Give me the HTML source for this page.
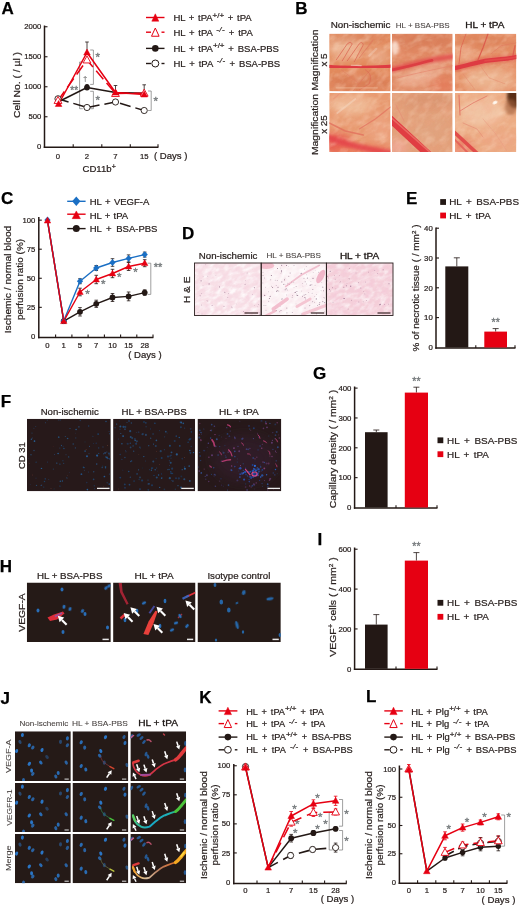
<!DOCTYPE html>
<html lang="en"><head><meta charset="utf-8"><title>Figure</title>
<style>
html,body{margin:0;padding:0;background:#fff}
svg{display:block}
text{font-family:"Liberation Sans",Arial,Helvetica,sans-serif}
</style></head><body>
<svg width="520" height="907" viewBox="0 0 520 907">
<defs>
<filter id="b1" x="-20%" y="-20%" width="140%" height="140%"><feGaussianBlur stdDeviation="0.6"/></filter>
<filter id="b2" x="-30%" y="-30%" width="160%" height="160%"><feGaussianBlur stdDeviation="1.4"/></filter>
<filter id="b4" x="-50%" y="-50%" width="200%" height="200%"><feGaussianBlur stdDeviation="4"/></filter>
<filter id="b8" x="-50%" y="-50%" width="200%" height="200%"><feGaussianBlur stdDeviation="7"/></filter>
<filter id="bs" x="-20%" y="-20%" width="140%" height="140%"><feGaussianBlur stdDeviation="0.35"/></filter>
<filter id="nz" x="0" y="0" width="100%" height="100%"><feTurbulence type="fractalNoise" baseFrequency="0.09 0.16" numOctaves="3" seed="4" result="n"/><feColorMatrix in="n" type="matrix" values="0 0 0 0 1  0 0 0 0 0.80  0 0 0 0 0.64  1.6 0 0 0 -0.66"/><feComposite in2="SourceGraphic" operator="in"/></filter>
<filter id="nd" x="0" y="0" width="100%" height="100%"><feTurbulence type="fractalNoise" baseFrequency="0.07 0.13" numOctaves="3" seed="11" result="n"/><feColorMatrix in="n" type="matrix" values="0 0 0 0 0.90  0 0 0 0 0.36  0 0 0 0 0.22  0 1.7 0 0 -0.70"/><feComposite in2="SourceGraphic" operator="in"/></filter>
<filter id="nh" x="0" y="0" width="100%" height="100%"><feTurbulence type="fractalNoise" baseFrequency="0.14 0.26" numOctaves="3" seed="8" result="n"/><feColorMatrix in="n" type="matrix" values="0 0 0 0 1  0 0 0 0 1  0 0 0 0 1  2.8 0 0 0 -1.1"/><feComposite in2="SourceGraphic" operator="in"/></filter>
<filter id="nk" x="0" y="0" width="100%" height="100%"><feTurbulence type="fractalNoise" baseFrequency="0.13 0.24" numOctaves="3" seed="19" result="n"/><feColorMatrix in="n" type="matrix" values="0 0 0 0 0.90  0 0 0 0 0.55  0 0 0 0 0.68  0 2.8 0 0 -1.15"/><feComposite in2="SourceGraphic" operator="in"/></filter>
<clipPath id="c1"><rect x="329.30" y="33.80" width="61.20" height="57.50"/></clipPath>
<clipPath id="c2"><rect x="392.00" y="33.80" width="60.60" height="57.50"/></clipPath>
<clipPath id="c3"><rect x="455.00" y="33.80" width="61.30" height="57.50"/></clipPath>
<clipPath id="c4"><rect x="329.30" y="93.00" width="61.20" height="59.00"/></clipPath>
<clipPath id="c5"><rect x="392.00" y="93.00" width="60.60" height="59.00"/></clipPath>
<clipPath id="c6"><rect x="455.00" y="93.00" width="61.30" height="59.00"/></clipPath>
<clipPath id="c7"><rect x="194.50" y="263.00" width="66.70" height="52.50"/></clipPath>
<clipPath id="c8"><rect x="261.20" y="263.00" width="65.20" height="52.50"/></clipPath>
<clipPath id="c9"><rect x="326.40" y="263.00" width="66.60" height="52.50"/></clipPath>
<clipPath id="c10"><rect x="27.00" y="418.80" width="83.80" height="72.50"/></clipPath>
<clipPath id="c11"><rect x="113.10" y="418.80" width="82.00" height="72.50"/></clipPath>
<clipPath id="c12"><rect x="197.50" y="418.80" width="83.80" height="72.50"/></clipPath>
<clipPath id="c13"><rect x="26.80" y="582.50" width="84.00" height="59.50"/></clipPath>
<clipPath id="c14"><rect x="113.10" y="582.50" width="82.40" height="59.50"/></clipPath>
<clipPath id="c15"><rect x="197.50" y="582.50" width="83.30" height="59.50"/></clipPath>
<clipPath id="c16"><rect x="15.00" y="731.30" width="55.80" height="49.80"/></clipPath>
<clipPath id="c17"><rect x="72.50" y="731.30" width="55.80" height="49.80"/></clipPath>
<clipPath id="c18"><rect x="130.40" y="731.30" width="55.70" height="49.80"/></clipPath>
<clipPath id="c19"><rect x="15.00" y="783.00" width="55.80" height="49.00"/></clipPath>
<clipPath id="c20"><rect x="72.50" y="783.00" width="55.80" height="49.00"/></clipPath>
<clipPath id="c21"><rect x="130.40" y="783.00" width="55.70" height="49.00"/></clipPath>
<linearGradient id="gv1" gradientUnits="userSpaceOnUse" x1="133" y1="0" x2="187" y2="0"><stop offset="0" stop-color="#3fc47f"/><stop offset="0.3" stop-color="#18a8c8"/><stop offset="0.65" stop-color="#1fb0b8"/><stop offset="0.85" stop-color="#2fbf6f"/><stop offset="1" stop-color="#52c83a"/></linearGradient>
<clipPath id="c22"><rect x="15.00" y="833.90" width="55.80" height="49.30"/></clipPath>
<clipPath id="c23"><rect x="72.50" y="833.90" width="55.80" height="49.30"/></clipPath>
<clipPath id="c24"><rect x="130.40" y="833.90" width="55.70" height="49.30"/></clipPath>
<linearGradient id="gv2" gradientUnits="userSpaceOnUse" x1="133" y1="0" x2="187" y2="0"><stop offset="0" stop-color="#f0a030"/><stop offset="0.25" stop-color="#d8c0a0"/><stop offset="0.5" stop-color="#b87858"/><stop offset="0.8" stop-color="#e07028"/><stop offset="1" stop-color="#f8c820"/></linearGradient>
</defs>
<rect width="520" height="907" fill="#fff"/>
<text x="1.40" y="13.50" font-size="17" font-weight="bold" fill="#000" stroke="#000" stroke-width="0.25">A</text>
<line x1="44.50" y1="25.50" x2="44.50" y2="147.95" stroke="#231815" stroke-width="1.5"/>
<line x1="43.75" y1="147.20" x2="158.40" y2="147.20" stroke="#231815" stroke-width="1.5"/>
<line x1="44.50" y1="116.75" x2="47.50" y2="116.75" stroke="#231815" stroke-width="1.1"/>
<line x1="44.50" y1="86.75" x2="47.50" y2="86.75" stroke="#231815" stroke-width="1.1"/>
<line x1="44.50" y1="56.75" x2="47.50" y2="56.75" stroke="#231815" stroke-width="1.1"/>
<line x1="44.50" y1="26.75" x2="47.50" y2="26.75" stroke="#231815" stroke-width="1.1"/>
<line x1="73.20" y1="147.20" x2="73.20" y2="144.20" stroke="#231815" stroke-width="1.1"/>
<line x1="101.80" y1="147.20" x2="101.80" y2="144.20" stroke="#231815" stroke-width="1.1"/>
<line x1="130.30" y1="147.20" x2="130.30" y2="144.20" stroke="#231815" stroke-width="1.1"/>
<line x1="158.00" y1="147.20" x2="158.00" y2="144.20" stroke="#231815" stroke-width="1.1"/>
<text x="41.30" y="149.35" font-size="7.7" text-anchor="end" fill="#2a2220" stroke="#2a2220" stroke-width="0.22">0</text>
<text x="41.30" y="119.35" font-size="7.7" text-anchor="end" fill="#2a2220" stroke="#2a2220" stroke-width="0.22">500</text>
<text x="41.30" y="89.35" font-size="7.7" text-anchor="end" fill="#2a2220" stroke="#2a2220" stroke-width="0.22">1000</text>
<text x="41.30" y="59.35" font-size="7.7" text-anchor="end" fill="#2a2220" stroke="#2a2220" stroke-width="0.22">1500</text>
<text x="41.30" y="29.35" font-size="7.7" text-anchor="end" fill="#2a2220" stroke="#2a2220" stroke-width="0.22">2000</text>
<text x="58.00" y="159.00" font-size="7.7" text-anchor="middle" fill="#2a2220" stroke="#2a2220" stroke-width="0.22">0</text>
<text x="87.00" y="159.00" font-size="7.7" text-anchor="middle" fill="#2a2220" stroke="#2a2220" stroke-width="0.22">2</text>
<text x="115.50" y="159.00" font-size="7.7" text-anchor="middle" fill="#2a2220" stroke="#2a2220" stroke-width="0.22">7</text>
<text x="144.20" y="159.00" font-size="7.7" text-anchor="middle" fill="#2a2220" stroke="#2a2220" stroke-width="0.22">15</text>
<text x="153.90" y="159.40" font-size="9.4" textLength="33.50" lengthAdjust="spacingAndGlyphs" fill="#2a2220" stroke="#2a2220" stroke-width="0.22">( Days )</text>
<text x="82.50" y="172.20" font-size="9.6" fill="#2a2220" stroke="#2a2220" stroke-width="0.22">CD11b<tspan font-size="7" dy="-3.4">+</tspan><tspan dy="3.4" font-size="1">&#8203;</tspan></text>
<text x="20.40" y="85.00" font-size="9.6" text-anchor="middle" transform="rotate(-90 20.40 85.00)" textLength="66.00" lengthAdjust="spacingAndGlyphs" fill="#2a2220" stroke="#2a2220" stroke-width="0.22">Cell No. ( / µl )</text>
<polyline points="90.20,50.00 93.40,50.00 93.40,84.40 90.20,84.40" fill="none" stroke="#777" stroke-width="0.7"/>
<polyline points="90.20,91.30 93.40,91.30 93.40,108.70 90.20,108.70" fill="none" stroke="#777" stroke-width="0.7"/>
<polyline points="82.80,62.00 79.60,62.00 79.60,108.70 82.80,108.70" fill="none" stroke="#777" stroke-width="0.7"/>
<polyline points="148.00,91.00 151.20,91.00 151.20,110.50 148.00,110.50" fill="none" stroke="#777" stroke-width="0.7"/>
<text x="97.80" y="61.10" font-size="11.5" text-anchor="middle" fill="#757a7c" stroke="#757a7c" stroke-width="0.35">*</text>
<text x="97.80" y="103.60" font-size="11.5" text-anchor="middle" fill="#757a7c" stroke="#757a7c" stroke-width="0.35">*</text>
<text x="155.80" y="104.60" font-size="11.5" text-anchor="middle" fill="#757a7c" stroke="#757a7c" stroke-width="0.35">*</text>
<text x="85.20" y="80.50" font-size="7" text-anchor="middle" fill="#808080" stroke="#808080" stroke-width="0.22">†</text>
<text x="74.20" y="94.40" font-size="10" text-anchor="middle" fill="#757a7c" stroke="#757a7c" stroke-width="0.35">**</text>
<line x1="87.00" y1="42.00" x2="87.00" y2="52.50" stroke="#231815" stroke-width="0.8"/>
<line x1="85.20" y1="42.00" x2="88.80" y2="42.00" stroke="#231815" stroke-width="0.8"/>
<line x1="85.20" y1="52.50" x2="88.80" y2="52.50" stroke="#231815" stroke-width="0.8"/>
<line x1="115.50" y1="85.50" x2="115.50" y2="92.50" stroke="#231815" stroke-width="0.8"/>
<line x1="113.70" y1="85.50" x2="117.30" y2="85.50" stroke="#231815" stroke-width="0.8"/>
<line x1="113.70" y1="92.50" x2="117.30" y2="92.50" stroke="#231815" stroke-width="0.8"/>
<line x1="144.20" y1="84.80" x2="144.20" y2="94.50" stroke="#231815" stroke-width="0.8"/>
<line x1="142.40" y1="84.80" x2="146.00" y2="84.80" stroke="#231815" stroke-width="0.8"/>
<line x1="142.40" y1="94.50" x2="146.00" y2="94.50" stroke="#231815" stroke-width="0.8"/>
<line x1="87.00" y1="84.50" x2="87.00" y2="87.50" stroke="#231815" stroke-width="0.8"/>
<line x1="85.50" y1="84.50" x2="88.50" y2="84.50" stroke="#231815" stroke-width="0.8"/>
<line x1="85.50" y1="87.50" x2="88.50" y2="87.50" stroke="#231815" stroke-width="0.8"/>
<polyline points="58.00,98.80 87.00,107.50 115.50,102.00 144.20,110.50" fill="none" stroke="#231815" stroke-width="1.5" stroke-linejoin="round" stroke-dasharray="11 5"/>
<polyline points="58.00,102.00 87.00,87.50 115.50,92.60 144.20,93.20" fill="none" stroke="#231815" stroke-width="1.5" stroke-linejoin="round"/>
<polyline points="58.00,100.50 87.00,60.00 115.50,93.50 144.20,93.20" fill="none" stroke="#e60012" stroke-width="1.5" stroke-linejoin="round" stroke-dasharray="11 5"/>
<polyline points="58.60,104.00 87.00,52.50 115.50,92.50 144.20,94.50" fill="none" stroke="#e60012" stroke-width="1.5" stroke-linejoin="round"/>
<circle cx="58.00" cy="98.80" r="3.1" fill="#fff" stroke="#231815" stroke-width="0.9"/>
<circle cx="87.00" cy="107.50" r="3.1" fill="#fff" stroke="#231815" stroke-width="0.9"/>
<circle cx="115.50" cy="102.00" r="3.1" fill="#fff" stroke="#231815" stroke-width="0.9"/>
<circle cx="144.20" cy="110.50" r="3.1" fill="#fff" stroke="#231815" stroke-width="0.9"/>
<circle cx="87.00" cy="87.50" r="2.9" fill="#231815"/>
<polygon points="58.00,96.43 54.10,103.45 61.90,103.45" fill="#fff" stroke="#e60012" stroke-width="0.9" stroke-linejoin="miter"/>
<polygon points="87.00,55.93 83.10,62.95 90.90,62.95" fill="#fff" stroke="#e60012" stroke-width="0.9" stroke-linejoin="miter"/>
<polygon points="115.50,89.43 111.60,96.45 119.40,96.45" fill="#fff" stroke="#e60012" stroke-width="0.9" stroke-linejoin="miter"/>
<polygon points="144.20,89.13 140.30,96.15 148.10,96.15" fill="#fff" stroke="#e60012" stroke-width="0.9" stroke-linejoin="miter"/>
<polygon points="58.60,100.55 55.30,106.49 61.90,106.49" fill="#e60012" stroke="#e60012" stroke-width="0.5" stroke-linejoin="miter"/>
<polygon points="87.00,49.05 83.70,54.99 90.30,54.99" fill="#e60012" stroke="#e60012" stroke-width="0.5" stroke-linejoin="miter"/>
<polygon points="115.50,89.05 112.20,94.99 118.80,94.99" fill="#e60012" stroke="#e60012" stroke-width="0.5" stroke-linejoin="miter"/>
<polygon points="144.20,91.05 140.90,96.99 147.50,96.99" fill="#e60012" stroke="#e60012" stroke-width="0.5" stroke-linejoin="miter"/>
<line x1="146.00" y1="17.50" x2="164.50" y2="17.50" stroke="#e60012" stroke-width="1.4"/>
<polygon points="155.30,13.81 151.80,21.21 158.80,21.21" fill="#e60012" stroke="#e60012" stroke-width="0.5" stroke-linejoin="miter"/>
<line x1="146.00" y1="32.20" x2="151.00" y2="32.20" stroke="#e60012" stroke-width="1.4"/>
<line x1="161.50" y1="32.20" x2="164.50" y2="32.20" stroke="#e60012" stroke-width="1.4"/>
<polygon points="155.30,28.04 151.50,36.24 159.10,36.24" fill="#fff" stroke="#e60012" stroke-width="1.0" stroke-linejoin="miter"/>
<line x1="146.00" y1="48.40" x2="164.50" y2="48.40" stroke="#231815" stroke-width="1.4"/>
<circle cx="155.30" cy="48.40" r="3.3" fill="#231815"/>
<line x1="146.00" y1="63.50" x2="151.00" y2="63.50" stroke="#231815" stroke-width="1.4"/>
<line x1="161.50" y1="63.50" x2="164.50" y2="63.50" stroke="#231815" stroke-width="1.4"/>
<circle cx="155.30" cy="63.50" r="3.5" fill="#fff" stroke="#231815" stroke-width="1.0"/>
<text x="173.40" y="21.30" font-size="9.5" fill="#2a2220" stroke="#2a2220" stroke-width="0.22" word-spacing="0.99">HL + tPA<tspan font-size="8" dy="-3.8">+/+</tspan><tspan dy="3.8" font-size="1">&#8203;</tspan> + tPA</text>
<text x="173.40" y="35.80" font-size="9.5" fill="#2a2220" stroke="#2a2220" stroke-width="0.22" word-spacing="1.17">HL + tPA <tspan font-size="8" dy="-3.8" font-style="italic" letter-spacing="0.4">-/-</tspan><tspan dy="3.8" font-size="1">&#8203;</tspan> + tPA</text>
<text x="173.40" y="51.50" font-size="9.5" fill="#2a2220" stroke="#2a2220" stroke-width="0.22" word-spacing="1.17">HL + tPA<tspan font-size="8" dy="-3.8">+/+</tspan><tspan dy="3.8" font-size="1">&#8203;</tspan> + BSA-PBS</text>
<text x="173.40" y="67.10" font-size="9.5" fill="#2a2220" stroke="#2a2220" stroke-width="0.22" word-spacing="1.32">HL + tPA <tspan font-size="8" dy="-3.8" font-style="italic" letter-spacing="0.4">-/-</tspan><tspan dy="3.8" font-size="1">&#8203;</tspan> + BSA-PBS</text>
<text x="295.30" y="13.50" font-size="17" font-weight="bold" fill="#000" stroke="#000" stroke-width="0.25">B</text>
<text x="330.70" y="28.20" font-size="9.7" textLength="59.80" lengthAdjust="spacingAndGlyphs" fill="#2a2220" stroke="#2a2220" stroke-width="0.22">Non-ischemic</text>
<text x="395.70" y="27.60" font-size="7.9" textLength="54.00" lengthAdjust="spacingAndGlyphs" fill="#4a4442" stroke="#4a4442" stroke-width="0.08">HL + BSA-PBS</text>
<text x="465.20" y="28.20" font-size="9.8" textLength="39.20" lengthAdjust="spacingAndGlyphs" fill="#1a1412" stroke="#1a1412" stroke-width="0.32">HL + tPA</text>
<text x="317.70" y="60.00" font-size="9.8" text-anchor="middle" transform="rotate(-90 317.70 60.00)" textLength="61.00" lengthAdjust="spacingAndGlyphs" fill="#2a2220" stroke="#2a2220" stroke-width="0.22">Magnification</text>
<text x="327.40" y="60.00" font-size="9.8" text-anchor="middle" transform="rotate(-90 327.40 60.00)" fill="#2a2220" stroke="#2a2220" stroke-width="0.22">x 5</text>
<text x="317.70" y="124.50" font-size="9.8" text-anchor="middle" transform="rotate(-90 317.70 124.50)" textLength="61.00" lengthAdjust="spacingAndGlyphs" fill="#2a2220" stroke="#2a2220" stroke-width="0.22">Magnification</text>
<text x="327.40" y="124.50" font-size="9.8" text-anchor="middle" transform="rotate(-90 327.40 124.50)" fill="#2a2220" stroke="#2a2220" stroke-width="0.22">x 25</text>
<g clip-path="url(#c1)">
<rect x="329.30" y="33.80" width="61.20" height="57.50" fill="#e38c5e"/>
<ellipse cx="345.3" cy="47.8" rx="18" ry="12" fill="#ecb896" opacity="0.9" filter="url(#b4)"/>
<ellipse cx="379.3" cy="55.8" rx="10" ry="9" fill="#e8ad8c" opacity="0.8" filter="url(#b4)"/>
<ellipse cx="359.3" cy="82.8" rx="34" ry="9" fill="#d97d56" opacity="0.9" filter="url(#b4)"/>
<ellipse cx="359.3" cy="36.8" rx="34" ry="4" fill="#d8805c" opacity="0.8" filter="url(#b4)"/>
<g transform="rotate(-35 359.9 62.5)"><rect x="309.3" y="13.8" width="101.2" height="97.5" fill="#fff" filter="url(#nz)" opacity="0.5"/><rect x="309.3" y="13.8" width="101.2" height="97.5" fill="#fff" filter="url(#nd)" opacity="0.36"/></g>
<g filter="url(#b1)">
<path d="M336.3,59.8 L347.3,43.8 Q350.3,40.8 352.3,43.8 L342.3,60.8" fill="none" stroke="#dc6a55" stroke-width="1.0" stroke-linecap="round" stroke-linejoin="round" opacity="0.8"/>
<path d="M347.3,60.8 L359.3,43.8 Q362.3,40.8 363.3,44.8 L354.3,61.8" fill="none" stroke="#dc6a55" stroke-width="1.0" stroke-linecap="round" stroke-linejoin="round" opacity="0.8"/>
<path d="M359.3,57.8 L373.3,39.8" fill="none" stroke="#de7660" stroke-width="0.9" stroke-linecap="round" stroke-linejoin="round" opacity="0.8"/>
<path d="M369.3,55.8 L376.3,48.8" fill="none" stroke="#f2cdb8" stroke-width="2.2" stroke-linecap="round" stroke-linejoin="round" opacity="0.45"/>
<path d="M365.3,69.8 Q373.3,73.8 369.3,83.8 L359.3,89.8" fill="none" stroke="#dc6a55" stroke-width="0.9" stroke-linecap="round" stroke-linejoin="round" opacity="0.7"/>
<path d="M341.3,69.8 L359.3,83.8" fill="none" stroke="#e07c62" stroke-width="0.8" stroke-linecap="round" stroke-linejoin="round" opacity="0.6"/>
<path d="M370.3,69.8 L353.3,90.8" fill="none" stroke="#dc7058" stroke-width="0.9" stroke-linecap="round" stroke-linejoin="round" opacity="0.5"/>
<path d="M336.3,87.8 L377.3,87.8" fill="none" stroke="#f2c4a4" stroke-width="1.2" stroke-linecap="round" stroke-linejoin="round" opacity="0.5"/>
</g>
<g filter="url(#b2)">
<path d="M328.3,66.4 L391.5,66.4" fill="none" stroke="#e2584e" stroke-width="5" stroke-linecap="round" stroke-linejoin="round" opacity="0.55"/>
</g>
<g filter="url(#bs)">
<path d="M328.3,66.4 C343.3,67.8 359.3,67.4 373.3,67.0 S385.3,66.8 391.5,66.0" fill="none" stroke="#de3b42" stroke-width="3.2" stroke-linecap="round" stroke-linejoin="round"/>
<path d="M351.3,65.19999999999999 L361.3,65.6" fill="none" stroke="#f6d6cc" stroke-width="1.1" stroke-linecap="round" stroke-linejoin="round" opacity="0.6"/>
</g>
</g>
<g clip-path="url(#c2)">
<rect x="392.00" y="33.80" width="60.60" height="57.50" fill="#e08862"/>
<ellipse cx="422.0" cy="39.8" rx="32" ry="7" fill="#d67a56" opacity="0.8" filter="url(#b4)"/>
<ellipse cx="418.0" cy="76.8" rx="22" ry="8" fill="#ecb498" opacity="0.95" filter="url(#b4)" transform="rotate(-12 418.0 76.8)"/>
<ellipse cx="442.0" cy="85.8" rx="12" ry="8" fill="#e57c5c" opacity="0.9" filter="url(#b4)"/>
<ellipse cx="395.0" cy="47.8" rx="4" ry="7" fill="#fbe6da" opacity="0.9" filter="url(#b2)"/>
<ellipse cx="436.0" cy="63.8" rx="14" ry="5" fill="#efae94" opacity="0.7" filter="url(#b4)" transform="rotate(-12 436.0 63.8)"/>
<g transform="rotate(-15 422.3 62.5)"><rect x="372.0" y="13.8" width="100.6" height="97.5" fill="#fff" filter="url(#nz)" opacity="0.5"/><rect x="372.0" y="13.8" width="100.6" height="97.5" fill="#fff" filter="url(#nd)" opacity="0.36"/></g>
<g filter="url(#b2)">
<path d="M390,69.8 C408,65.8 426,59.3 454.6,56.3" fill="none" stroke="#e2504c" stroke-width="5.2" stroke-linecap="round" stroke-linejoin="round" opacity="0.9"/>
</g>
<g filter="url(#b1)">
<path d="M390,70.3 C404,67.8 418,63.8 432,60.3" fill="none" stroke="#dc3a40" stroke-width="2.6" stroke-linecap="round" stroke-linejoin="round" opacity="0.9"/>
<path d="M398,77.8 C414,73.8 432,69.8 452.6,65.8" fill="none" stroke="#e4836c" stroke-width="1" stroke-linecap="round" stroke-linejoin="round" opacity="0.6"/>
</g>
</g>
<g clip-path="url(#c3)">
<rect x="455.00" y="33.80" width="61.30" height="57.50" fill="#e48e64"/>
<ellipse cx="489.0" cy="79.8" rx="26" ry="12" fill="#ecb692" opacity="0.95" filter="url(#b4)"/>
<ellipse cx="465.0" cy="53.8" rx="10" ry="8" fill="#f0b898" opacity="0.7" filter="url(#b4)"/>
<ellipse cx="485.0" cy="41.8" rx="30" ry="6" fill="#da8058" opacity="0.8" filter="url(#b4)"/>
<g transform="rotate(-20 485.6 62.5)"><rect x="435.0" y="13.8" width="101.3" height="97.5" fill="#fff" filter="url(#nz)" opacity="0.5"/><rect x="435.0" y="13.8" width="101.3" height="97.5" fill="#fff" filter="url(#nd)" opacity="0.36"/></g>
<g filter="url(#b1)">
<path d="M466,33.8 L461,47.8 L459,63.8" fill="none" stroke="#df6650" stroke-width="1.0" stroke-linecap="round" stroke-linejoin="round" opacity="0.8"/>
<path d="M488,33.8 L483,47.8 L478,59.8" fill="none" stroke="#da5448" stroke-width="1.2" stroke-linecap="round" stroke-linejoin="round" opacity="0.85"/>
<path d="M491,53.8 L501,45.8 L516.3,42.8" fill="none" stroke="#e07860" stroke-width="0.8" stroke-linecap="round" stroke-linejoin="round" opacity="0.7"/>
<path d="M515,45.8 L512,59.8" fill="none" stroke="#dc5a4c" stroke-width="1.4" stroke-linecap="round" stroke-linejoin="round" opacity="0.8"/>
<path d="M479,63.8 L489,77.8 L505,83.8" fill="none" stroke="#e48a6c" stroke-width="0.8" stroke-linecap="round" stroke-linejoin="round" opacity="0.6"/>
<path d="M463,73.8 L475,89.8" fill="none" stroke="#e48a6c" stroke-width="0.8" stroke-linecap="round" stroke-linejoin="round" opacity="0.6"/>
</g>
<g filter="url(#b2)">
<path d="M454,68.3 C467,65.8 477,61.8 489,60.3 S509,58.8 517.3,56.8" fill="none" stroke="#e2584e" stroke-width="7" stroke-linecap="round" stroke-linejoin="round" opacity="0.5"/>
</g>
<g filter="url(#bs)">
<path d="M454,68.3 C467,65.8 477,61.8 489,60.3 S509,58.8 517.3,56.8" fill="none" stroke="#de3b42" stroke-width="4.2" stroke-linecap="round" stroke-linejoin="round"/>
<path d="M485,60.8 C499,59.3 509,58.8 517.3,56.8" fill="none" stroke="#e8554e" stroke-width="1.5" stroke-linecap="round" stroke-linejoin="round" opacity="0.6"/>
</g>
</g>
<g clip-path="url(#c4)">
<rect x="329.30" y="93.00" width="61.20" height="59.00" fill="#e89a70"/>
<ellipse cx="351.3" cy="105.0" rx="22" ry="10" fill="#f0c09c" opacity="0.9" filter="url(#b4)"/>
<ellipse cx="379.3" cy="129.0" rx="12" ry="16" fill="#eea888" opacity="0.6" filter="url(#b4)"/>
<ellipse cx="335.3" cy="143.0" rx="16" ry="9" fill="#e8504a" opacity="0.95" filter="url(#b4)"/>
<ellipse cx="363.3" cy="150.0" rx="30" ry="5" fill="#ea7458" opacity="0.9" filter="url(#b4)"/>
<g transform="rotate(-28 359.9 122.5)"><rect x="309.3" y="73.0" width="101.2" height="99.0" fill="#fff" filter="url(#nz)" opacity="0.5"/><rect x="309.3" y="73.0" width="101.2" height="99.0" fill="#fff" filter="url(#nd)" opacity="0.36"/></g>
<g filter="url(#b2)">
<path d="M327.3,137 C341.3,143 359.3,148 390.5,153" fill="none" stroke="#e4464a" stroke-width="6" stroke-linecap="round" stroke-linejoin="round" opacity="0.9"/>
</g>
<g filter="url(#b1)">
<path d="M329.3,123 L345.3,131 L363.3,135" fill="none" stroke="#e2705c" stroke-width="1.4" stroke-linecap="round" stroke-linejoin="round" opacity="0.8"/>
<path d="M359.3,129 L375.3,119 L390.5,107" fill="none" stroke="#e27660" stroke-width="1.1" stroke-linecap="round" stroke-linejoin="round" opacity="0.8"/>
<path d="M337.3,113 L355.3,99" fill="none" stroke="#f6d8c4" stroke-width="1.8" stroke-linecap="round" stroke-linejoin="round" opacity="0.5"/>
<path d="M333.3,99 L339.3,94" fill="none" stroke="#e8907a" stroke-width="1" stroke-linecap="round" stroke-linejoin="round" opacity="0.7"/>
</g>
</g>
<g clip-path="url(#c5)">
<rect x="392.00" y="93.00" width="60.60" height="59.00" fill="#e3a07a"/>
<ellipse cx="428.0" cy="101.0" rx="28" ry="8" fill="#d8926e" opacity="0.7" filter="url(#b4)"/>
<ellipse cx="432.0" cy="129.0" rx="18" ry="12" fill="#e0a480" opacity="0.7" filter="url(#b4)"/>
<ellipse cx="398.0" cy="147.0" rx="10" ry="8" fill="#f0a898" opacity="0.9" filter="url(#b4)"/>
<g transform="rotate(-40 422.3 122.5)"><rect x="372.0" y="73.0" width="100.6" height="99.0" fill="#fff" filter="url(#nz)" opacity="0.4"/><rect x="372.0" y="73.0" width="100.6" height="99.0" fill="#fff" filter="url(#nd)" opacity="0.3"/></g>
<g filter="url(#b1)">
<path d="M389,118 L430,156" fill="none" stroke="#e03c42" stroke-width="7.5" stroke-linecap="round" stroke-linejoin="round"/>
<path d="M391,117.5 L432,154" fill="none" stroke="#ec7468" stroke-width="1.6" stroke-linecap="round" stroke-linejoin="round" opacity="0.8"/>
<path d="M396,105 L404,121" fill="none" stroke="#e48a74" stroke-width="0.9" stroke-linecap="round" stroke-linejoin="round" opacity="0.7"/>
</g>
</g>
<g clip-path="url(#c6)">
<rect x="455.00" y="93.00" width="61.30" height="59.00" fill="#ecac84"/>
<ellipse cx="481.0" cy="113.0" rx="22" ry="14" fill="#f2c8a8" opacity="0.9" filter="url(#b4)"/>
<ellipse cx="499.0" cy="141.0" rx="18" ry="10" fill="#eca684" opacity="0.7" filter="url(#b4)"/>
<ellipse cx="461.0" cy="147.0" rx="12" ry="8" fill="#e8705c" opacity="0.8" filter="url(#b4)"/>
<g transform="rotate(-30 485.6 122.5)"><rect x="435.0" y="73.0" width="101.3" height="99.0" fill="#fff" filter="url(#nz)" opacity="0.45"/><rect x="435.0" y="73.0" width="101.3" height="99.0" fill="#fff" filter="url(#nd)" opacity="0.4"/></g>
<ellipse cx="515.0" cy="96.0" rx="8" ry="12" fill="#5a2f18" opacity="1" filter="url(#b2)"/>
<ellipse cx="511.0" cy="107.0" rx="6" ry="8" fill="#a0603c" opacity="0.6" filter="url(#b2)"/>
<ellipse cx="495.0" cy="102.5" rx="2.6" ry="1.6" fill="#fffaf2" opacity="1" filter="url(#bs)" transform="rotate(-25 495.0 102.5)"/>
<g filter="url(#b1)">
<path d="M453,131 L479,155" fill="none" stroke="#e04a48" stroke-width="3.6" stroke-linecap="round" stroke-linejoin="round" opacity="0.95"/>
<path d="M453,138 L469,154" fill="none" stroke="#e4605a" stroke-width="1.8" stroke-linecap="round" stroke-linejoin="round" opacity="0.9"/>
<path d="M459,95 L460,115" fill="none" stroke="#e07060" stroke-width="1.2" stroke-linecap="round" stroke-linejoin="round" opacity="0.8"/>
<path d="M460,111 L473,103 L487,96" fill="none" stroke="#e27868" stroke-width="1" stroke-linecap="round" stroke-linejoin="round" opacity="0.8"/>
<path d="M463,123 L477,129 L483,137" fill="none" stroke="#e48a74" stroke-width="0.9" stroke-linecap="round" stroke-linejoin="round" opacity="0.7"/>
<path d="M483,119 L495,133 L507,151" fill="none" stroke="#e89a80" stroke-width="0.8" stroke-linecap="round" stroke-linejoin="round" opacity="0.6"/>
</g>
</g>
<text x="1.10" y="204.40" font-size="17" font-weight="bold" fill="#000" stroke="#000" stroke-width="0.25">C</text>
<line x1="38.80" y1="217.00" x2="38.80" y2="338.25" stroke="#231815" stroke-width="1.5"/>
<line x1="38.05" y1="337.50" x2="153.40" y2="337.50" stroke="#231815" stroke-width="1.5"/>
<line x1="38.80" y1="307.34" x2="41.80" y2="307.34" stroke="#231815" stroke-width="1.1"/>
<line x1="38.80" y1="278.27" x2="41.80" y2="278.27" stroke="#231815" stroke-width="1.1"/>
<line x1="38.80" y1="249.21" x2="41.80" y2="249.21" stroke="#231815" stroke-width="1.1"/>
<line x1="38.80" y1="220.15" x2="41.80" y2="220.15" stroke="#231815" stroke-width="1.1"/>
<line x1="55.60" y1="337.50" x2="55.60" y2="334.50" stroke="#231815" stroke-width="1.1"/>
<line x1="71.90" y1="337.50" x2="71.90" y2="334.50" stroke="#231815" stroke-width="1.1"/>
<line x1="88.10" y1="337.50" x2="88.10" y2="334.50" stroke="#231815" stroke-width="1.1"/>
<line x1="104.40" y1="337.50" x2="104.40" y2="334.50" stroke="#231815" stroke-width="1.1"/>
<line x1="120.60" y1="337.50" x2="120.60" y2="334.50" stroke="#231815" stroke-width="1.1"/>
<line x1="136.80" y1="337.50" x2="136.80" y2="334.50" stroke="#231815" stroke-width="1.1"/>
<line x1="153.00" y1="337.50" x2="153.00" y2="334.50" stroke="#231815" stroke-width="1.1"/>
<text x="35.30" y="339.00" font-size="7.7" text-anchor="end" fill="#2a2220" stroke="#2a2220" stroke-width="0.22">0</text>
<text x="35.30" y="309.94" font-size="7.7" text-anchor="end" fill="#2a2220" stroke="#2a2220" stroke-width="0.22">25</text>
<text x="35.30" y="280.88" font-size="7.7" text-anchor="end" fill="#2a2220" stroke="#2a2220" stroke-width="0.22">50</text>
<text x="35.30" y="251.81" font-size="7.7" text-anchor="end" fill="#2a2220" stroke="#2a2220" stroke-width="0.22">75</text>
<text x="35.30" y="222.75" font-size="7.7" text-anchor="end" fill="#2a2220" stroke="#2a2220" stroke-width="0.22">100</text>
<text x="47.50" y="348.20" font-size="7.7" text-anchor="middle" fill="#2a2220" stroke="#2a2220" stroke-width="0.22">0</text>
<text x="63.75" y="348.20" font-size="7.7" text-anchor="middle" fill="#2a2220" stroke="#2a2220" stroke-width="0.22">1</text>
<text x="80.00" y="348.20" font-size="7.7" text-anchor="middle" fill="#2a2220" stroke="#2a2220" stroke-width="0.22">5</text>
<text x="96.25" y="348.20" font-size="7.7" text-anchor="middle" fill="#2a2220" stroke="#2a2220" stroke-width="0.22">7</text>
<text x="112.50" y="348.20" font-size="7.7" text-anchor="middle" fill="#2a2220" stroke="#2a2220" stroke-width="0.22">10</text>
<text x="128.60" y="348.20" font-size="7.7" text-anchor="middle" fill="#2a2220" stroke="#2a2220" stroke-width="0.22">15</text>
<text x="144.70" y="348.20" font-size="7.7" text-anchor="middle" fill="#2a2220" stroke="#2a2220" stroke-width="0.22">28</text>
<text x="128.20" y="357.60" font-size="9.4" textLength="33.50" lengthAdjust="spacingAndGlyphs" fill="#2a2220" stroke="#2a2220" stroke-width="0.22">( Days )</text>
<text x="11.30" y="279.50" font-size="9.6" text-anchor="middle" transform="rotate(-90 11.30 279.50)" textLength="107.50" lengthAdjust="spacingAndGlyphs" fill="#2a2220" stroke="#2a2220" stroke-width="0.22">Ischemic / normal blood</text>
<text x="22.80" y="279.50" font-size="9.6" text-anchor="middle" transform="rotate(-90 22.80 279.50)" textLength="81.00" lengthAdjust="spacingAndGlyphs" fill="#2a2220" stroke="#2a2220" stroke-width="0.22">perfusion ratio (%)</text>
<line x1="80.00" y1="278.70" x2="80.00" y2="283.70" stroke="#231815" stroke-width="0.8"/>
<line x1="78.20" y1="278.70" x2="81.80" y2="278.70" stroke="#231815" stroke-width="0.8"/>
<line x1="78.20" y1="283.70" x2="81.80" y2="283.70" stroke="#231815" stroke-width="0.8"/>
<line x1="96.25" y1="265.50" x2="96.25" y2="270.50" stroke="#231815" stroke-width="0.8"/>
<line x1="94.45" y1="265.50" x2="98.05" y2="265.50" stroke="#231815" stroke-width="0.8"/>
<line x1="94.45" y1="270.50" x2="98.05" y2="270.50" stroke="#231815" stroke-width="0.8"/>
<line x1="112.50" y1="258.70" x2="112.50" y2="266.30" stroke="#231815" stroke-width="0.8"/>
<line x1="110.70" y1="258.70" x2="114.30" y2="258.70" stroke="#231815" stroke-width="0.8"/>
<line x1="110.70" y1="266.30" x2="114.30" y2="266.30" stroke="#231815" stroke-width="0.8"/>
<line x1="128.60" y1="254.90" x2="128.60" y2="261.90" stroke="#231815" stroke-width="0.8"/>
<line x1="126.80" y1="254.90" x2="130.40" y2="254.90" stroke="#231815" stroke-width="0.8"/>
<line x1="126.80" y1="261.90" x2="130.40" y2="261.90" stroke="#231815" stroke-width="0.8"/>
<line x1="144.70" y1="252.10" x2="144.70" y2="257.10" stroke="#231815" stroke-width="0.8"/>
<line x1="142.90" y1="252.10" x2="146.50" y2="252.10" stroke="#231815" stroke-width="0.8"/>
<line x1="142.90" y1="257.10" x2="146.50" y2="257.10" stroke="#231815" stroke-width="0.8"/>
<line x1="80.00" y1="288.20" x2="80.00" y2="295.80" stroke="#231815" stroke-width="0.8"/>
<line x1="78.20" y1="288.20" x2="81.80" y2="288.20" stroke="#231815" stroke-width="0.8"/>
<line x1="78.20" y1="295.80" x2="81.80" y2="295.80" stroke="#231815" stroke-width="0.8"/>
<line x1="96.25" y1="275.30" x2="96.25" y2="283.70" stroke="#231815" stroke-width="0.8"/>
<line x1="94.45" y1="275.30" x2="98.05" y2="275.30" stroke="#231815" stroke-width="0.8"/>
<line x1="94.45" y1="283.70" x2="98.05" y2="283.70" stroke="#231815" stroke-width="0.8"/>
<line x1="112.50" y1="269.30" x2="112.50" y2="277.70" stroke="#231815" stroke-width="0.8"/>
<line x1="110.70" y1="269.30" x2="114.30" y2="269.30" stroke="#231815" stroke-width="0.8"/>
<line x1="110.70" y1="277.70" x2="114.30" y2="277.70" stroke="#231815" stroke-width="0.8"/>
<line x1="128.60" y1="262.50" x2="128.60" y2="270.50" stroke="#231815" stroke-width="0.8"/>
<line x1="126.80" y1="262.50" x2="130.40" y2="262.50" stroke="#231815" stroke-width="0.8"/>
<line x1="126.80" y1="270.50" x2="130.40" y2="270.50" stroke="#231815" stroke-width="0.8"/>
<line x1="144.70" y1="259.70" x2="144.70" y2="266.70" stroke="#231815" stroke-width="0.8"/>
<line x1="142.90" y1="259.70" x2="146.50" y2="259.70" stroke="#231815" stroke-width="0.8"/>
<line x1="142.90" y1="266.70" x2="146.50" y2="266.70" stroke="#231815" stroke-width="0.8"/>
<line x1="80.00" y1="307.60" x2="80.00" y2="316.00" stroke="#231815" stroke-width="0.8"/>
<line x1="78.20" y1="307.60" x2="81.80" y2="307.60" stroke="#231815" stroke-width="0.8"/>
<line x1="78.20" y1="316.00" x2="81.80" y2="316.00" stroke="#231815" stroke-width="0.8"/>
<line x1="96.25" y1="300.20" x2="96.25" y2="307.40" stroke="#231815" stroke-width="0.8"/>
<line x1="94.45" y1="300.20" x2="98.05" y2="300.20" stroke="#231815" stroke-width="0.8"/>
<line x1="94.45" y1="307.40" x2="98.05" y2="307.40" stroke="#231815" stroke-width="0.8"/>
<line x1="112.50" y1="293.50" x2="112.50" y2="301.50" stroke="#231815" stroke-width="0.8"/>
<line x1="110.70" y1="293.50" x2="114.30" y2="293.50" stroke="#231815" stroke-width="0.8"/>
<line x1="110.70" y1="301.50" x2="114.30" y2="301.50" stroke="#231815" stroke-width="0.8"/>
<line x1="128.60" y1="292.00" x2="128.60" y2="300.80" stroke="#231815" stroke-width="0.8"/>
<line x1="126.80" y1="292.00" x2="130.40" y2="292.00" stroke="#231815" stroke-width="0.8"/>
<line x1="126.80" y1="300.80" x2="130.40" y2="300.80" stroke="#231815" stroke-width="0.8"/>
<line x1="144.70" y1="289.80" x2="144.70" y2="295.40" stroke="#231815" stroke-width="0.8"/>
<line x1="142.90" y1="289.80" x2="146.50" y2="289.80" stroke="#231815" stroke-width="0.8"/>
<line x1="142.90" y1="295.40" x2="146.50" y2="295.40" stroke="#231815" stroke-width="0.8"/>
<polyline points="47.50,220.60 63.75,321.20 80.00,311.80 96.25,303.80 112.50,297.50 128.60,296.40 144.70,292.60" fill="none" stroke="#231815" stroke-width="1.4" stroke-linejoin="round"/>
<polyline points="47.50,220.00 63.75,320.80 80.00,281.20 96.25,268.00 112.50,262.50 128.60,258.40 144.70,254.60" fill="none" stroke="#1a6fc4" stroke-width="1.4" stroke-linejoin="round"/>
<polyline points="47.50,220.60 63.75,321.20 80.00,292.00 96.25,279.50 112.50,273.50 128.60,266.50 144.70,263.20" fill="none" stroke="#e60012" stroke-width="1.4" stroke-linejoin="round"/>
<circle cx="63.75" cy="321.20" r="2.9" fill="#231815"/>
<circle cx="80.00" cy="311.80" r="2.9" fill="#231815"/>
<circle cx="96.25" cy="303.80" r="2.9" fill="#231815"/>
<circle cx="112.50" cy="297.50" r="2.9" fill="#231815"/>
<circle cx="128.60" cy="296.40" r="2.9" fill="#231815"/>
<circle cx="144.70" cy="292.60" r="2.9" fill="#231815"/>
<polygon points="47.50,216.60 50.60,220.00 47.50,223.40 44.40,220.00" fill="#1a6fc4"/>
<polygon points="63.75,317.40 66.85,320.80 63.75,324.20 60.65,320.80" fill="#1a6fc4"/>
<polygon points="80.00,277.80 83.10,281.20 80.00,284.60 76.90,281.20" fill="#1a6fc4"/>
<polygon points="96.25,264.60 99.35,268.00 96.25,271.40 93.15,268.00" fill="#1a6fc4"/>
<polygon points="112.50,259.10 115.60,262.50 112.50,265.90 109.40,262.50" fill="#1a6fc4"/>
<polygon points="128.60,255.00 131.70,258.40 128.60,261.80 125.50,258.40" fill="#1a6fc4"/>
<polygon points="144.70,251.20 147.80,254.60 144.70,258.00 141.60,254.60" fill="#1a6fc4"/>
<polygon points="47.50,217.26 44.30,223.02 50.70,223.02" fill="#e60012" stroke="#e60012" stroke-width="0.5" stroke-linejoin="miter"/>
<polygon points="63.75,317.86 60.55,323.62 66.95,323.62" fill="#e60012" stroke="#e60012" stroke-width="0.5" stroke-linejoin="miter"/>
<polygon points="80.00,288.66 76.80,294.42 83.20,294.42" fill="#e60012" stroke="#e60012" stroke-width="0.5" stroke-linejoin="miter"/>
<polygon points="96.25,276.16 93.05,281.92 99.45,281.92" fill="#e60012" stroke="#e60012" stroke-width="0.5" stroke-linejoin="miter"/>
<polygon points="112.50,270.16 109.30,275.92 115.70,275.92" fill="#e60012" stroke="#e60012" stroke-width="0.5" stroke-linejoin="miter"/>
<polygon points="128.60,263.16 125.40,268.92 131.80,268.92" fill="#e60012" stroke="#e60012" stroke-width="0.5" stroke-linejoin="miter"/>
<polygon points="144.70,259.86 141.50,265.62 147.90,265.62" fill="#e60012" stroke="#e60012" stroke-width="0.5" stroke-linejoin="miter"/>
<text x="87.60" y="297.60" font-size="11.5" text-anchor="middle" fill="#757a7c" stroke="#757a7c" stroke-width="0.35">*</text>
<text x="103.30" y="287.60" font-size="11.5" text-anchor="middle" fill="#757a7c" stroke="#757a7c" stroke-width="0.35">*</text>
<text x="119.30" y="280.60" font-size="11.5" text-anchor="middle" fill="#757a7c" stroke="#757a7c" stroke-width="0.35">*</text>
<text x="135.50" y="276.10" font-size="11.5" text-anchor="middle" fill="#757a7c" stroke="#757a7c" stroke-width="0.35">*</text>
<polyline points="147.60,263.20 150.80,263.20 150.80,294.40 147.60,294.40" fill="none" stroke="#777" stroke-width="0.7"/>
<text x="158.00" y="271.40" font-size="11" text-anchor="middle" fill="#757a7c" stroke="#757a7c" stroke-width="0.35">**</text>
<line x1="67.20" y1="201.30" x2="85.60" y2="201.30" stroke="#1a6fc4" stroke-width="1.4"/>
<polygon points="76.30,196.50 80.40,201.30 76.30,206.10 72.20,201.30" fill="#1a6fc4"/>
<line x1="67.20" y1="214.20" x2="85.60" y2="214.20" stroke="#e60012" stroke-width="1.4"/>
<polygon points="76.30,210.93 72.20,218.63 80.40,218.63" fill="#e60012" stroke="#e60012" stroke-width="0.5" stroke-linejoin="miter"/>
<line x1="67.20" y1="228.60" x2="85.60" y2="228.60" stroke="#231815" stroke-width="1.4"/>
<circle cx="76.30" cy="228.60" r="3.5" fill="#231815"/>
<text x="89.70" y="204.50" font-size="9.5" fill="#2a2220" stroke="#2a2220" stroke-width="0.22" word-spacing="0.81">HL + VEGF-A</text>
<text x="89.70" y="218.50" font-size="9.5" fill="#2a2220" stroke="#2a2220" stroke-width="0.22" word-spacing="0.59">HL + tPA</text>
<text x="89.70" y="231.50" font-size="9.5" fill="#2a2220" stroke="#2a2220" stroke-width="0.22" word-spacing="1.95">HL + BSA-PBS</text>
<text x="181.90" y="239.20" font-size="17" font-weight="bold" fill="#000" stroke="#000" stroke-width="0.25">D</text>
<text x="198.80" y="258.60" font-size="9.6" textLength="58.60" lengthAdjust="spacingAndGlyphs" fill="#2a2220" stroke="#2a2220" stroke-width="0.22">Non-ischemic</text>
<text x="266.40" y="258.20" font-size="7.9" textLength="54.50" lengthAdjust="spacingAndGlyphs" fill="#4a4442" stroke="#4a4442" stroke-width="0.08">HL + BSA-PBS</text>
<text x="339.90" y="258.80" font-size="9.8" textLength="39.20" lengthAdjust="spacingAndGlyphs" fill="#1a1412" stroke="#1a1412" stroke-width="0.32">HL + tPA</text>
<text x="190.20" y="289.80" font-size="9.6" text-anchor="middle" transform="rotate(-90 190.20 289.80)" textLength="26.50" lengthAdjust="spacingAndGlyphs" fill="#2a2220" stroke="#2a2220" stroke-width="0.22">H &amp; E</text>
<g clip-path="url(#c7)">
<rect x="194.50" y="263.00" width="66.70" height="52.50" fill="#f8e0e7"/>
<g transform="rotate(-30 227.8 289.2)"><rect x="174.5" y="243.0" width="106.7" height="92.5" fill="#fff" filter="url(#nh)" opacity="0.8"/><rect x="174.5" y="243.0" width="106.7" height="92.5" fill="#fff" filter="url(#nk)" opacity="0.28"/></g>
<g fill="#8a6080"><circle cx="224.8" cy="292.3" r="0.58" opacity="0.61"/><circle cx="228.4" cy="293.7" r="0.40" opacity="0.63"/><circle cx="236.3" cy="304.0" r="0.37" opacity="0.54"/><circle cx="201.4" cy="304.9" r="0.52" opacity="0.42"/><circle cx="259.0" cy="312.7" r="0.51" opacity="0.68"/><circle cx="205.7" cy="264.8" r="0.48" opacity="0.43"/><circle cx="207.8" cy="276.2" r="0.36" opacity="0.61"/><circle cx="224.0" cy="306.5" r="0.48" opacity="0.69"/><circle cx="227.8" cy="297.5" r="0.46" opacity="0.53"/><circle cx="260.0" cy="314.3" r="0.56" opacity="0.72"/><circle cx="215.9" cy="275.6" r="0.42" opacity="0.43"/><circle cx="245.1" cy="284.2" r="0.56" opacity="0.57"/><circle cx="257.5" cy="306.8" r="0.35" opacity="0.49"/><circle cx="254.4" cy="287.7" r="0.60" opacity="0.58"/><circle cx="200.2" cy="295.8" r="0.54" opacity="0.52"/><circle cx="201.1" cy="280.8" r="0.59" opacity="0.74"/><circle cx="203.1" cy="276.4" r="0.38" opacity="0.43"/><circle cx="247.1" cy="273.0" r="0.49" opacity="0.60"/><circle cx="207.8" cy="301.0" r="0.38" opacity="0.69"/><circle cx="203.0" cy="285.2" r="0.40" opacity="0.52"/><circle cx="258.3" cy="304.6" r="0.43" opacity="0.80"/><circle cx="209.1" cy="283.9" r="0.56" opacity="0.69"/><circle cx="202.0" cy="314.0" r="0.40" opacity="0.52"/><circle cx="245.5" cy="280.6" r="0.42" opacity="0.43"/><circle cx="201.3" cy="293.4" r="0.41" opacity="0.67"/><circle cx="219.5" cy="286.9" r="0.59" opacity="0.62"/><circle cx="232.7" cy="307.8" r="0.40" opacity="0.47"/><circle cx="254.3" cy="305.3" r="0.41" opacity="0.49"/><circle cx="243.3" cy="311.5" r="0.40" opacity="0.83"/><circle cx="252.6" cy="294.5" r="0.46" opacity="0.45"/><circle cx="198.0" cy="312.6" r="0.41" opacity="0.72"/><circle cx="212.1" cy="305.6" r="0.50" opacity="0.53"/><circle cx="206.9" cy="300.4" r="0.37" opacity="0.50"/><circle cx="231.7" cy="307.0" r="0.50" opacity="0.53"/></g>
</g>
<g clip-path="url(#c8)">
<rect x="261.20" y="263.00" width="65.20" height="52.50" fill="#fcf3f5"/>
<g transform="rotate(-30 293.8 289.2)"><rect x="241.2" y="243.0" width="105.2" height="92.5" fill="#fff" filter="url(#nh)" opacity="0.7"/><rect x="241.2" y="243.0" width="105.2" height="92.5" fill="#fff" filter="url(#nk)" opacity="0.2"/></g>
<g fill="#7a5672"><circle cx="292.2" cy="297.2" r="0.52" opacity="0.46"/><circle cx="262.9" cy="282.9" r="0.42" opacity="0.76"/><circle cx="305.8" cy="294.4" r="0.49" opacity="0.70"/><circle cx="271.4" cy="286.2" r="0.39" opacity="0.81"/><circle cx="265.9" cy="305.4" r="0.37" opacity="0.71"/><circle cx="283.5" cy="284.4" r="0.56" opacity="0.41"/><circle cx="266.0" cy="310.2" r="0.48" opacity="0.44"/><circle cx="324.6" cy="311.8" r="0.38" opacity="0.59"/><circle cx="270.7" cy="279.8" r="0.51" opacity="0.47"/><circle cx="306.2" cy="266.6" r="0.39" opacity="0.77"/><circle cx="287.5" cy="285.2" r="0.50" opacity="0.61"/><circle cx="286.5" cy="265.5" r="0.53" opacity="0.84"/><circle cx="323.9" cy="297.5" r="0.44" opacity="0.56"/><circle cx="305.8" cy="298.0" r="0.38" opacity="0.51"/><circle cx="285.2" cy="289.8" r="0.55" opacity="0.63"/><circle cx="264.0" cy="305.5" r="0.46" opacity="0.63"/><circle cx="276.2" cy="285.6" r="0.45" opacity="0.75"/><circle cx="268.7" cy="291.8" r="0.39" opacity="0.71"/><circle cx="264.5" cy="278.0" r="0.44" opacity="0.69"/><circle cx="265.5" cy="287.2" r="0.40" opacity="0.53"/><circle cx="292.3" cy="312.4" r="0.47" opacity="0.83"/><circle cx="272.8" cy="310.7" r="0.44" opacity="0.49"/><circle cx="309.5" cy="310.1" r="0.35" opacity="0.52"/><circle cx="310.9" cy="281.3" r="0.41" opacity="0.40"/><circle cx="264.7" cy="295.3" r="0.60" opacity="0.85"/><circle cx="294.0" cy="265.2" r="0.43" opacity="0.75"/><circle cx="314.8" cy="296.3" r="0.41" opacity="0.64"/><circle cx="292.4" cy="295.7" r="0.42" opacity="0.83"/><circle cx="318.7" cy="272.2" r="0.42" opacity="0.79"/><circle cx="279.8" cy="311.7" r="0.48" opacity="0.71"/><circle cx="306.7" cy="274.8" r="0.42" opacity="0.51"/><circle cx="305.4" cy="299.1" r="0.38" opacity="0.80"/><circle cx="288.8" cy="276.2" r="0.46" opacity="0.84"/><circle cx="297.6" cy="295.5" r="0.58" opacity="0.83"/><circle cx="310.3" cy="285.1" r="0.50" opacity="0.81"/><circle cx="312.1" cy="293.3" r="0.44" opacity="0.57"/><circle cx="308.7" cy="292.4" r="0.35" opacity="0.72"/><circle cx="319.3" cy="304.3" r="0.57" opacity="0.81"/><circle cx="296.0" cy="303.9" r="0.44" opacity="0.44"/><circle cx="284.5" cy="279.8" r="0.58" opacity="0.71"/><circle cx="296.4" cy="295.4" r="0.38" opacity="0.64"/><circle cx="306.5" cy="283.9" r="0.41" opacity="0.58"/><circle cx="282.7" cy="298.6" r="0.39" opacity="0.44"/><circle cx="281.9" cy="299.1" r="0.54" opacity="0.70"/><circle cx="321.3" cy="282.5" r="0.36" opacity="0.62"/><circle cx="290.2" cy="273.1" r="0.52" opacity="0.55"/><circle cx="277.3" cy="280.5" r="0.59" opacity="0.40"/><circle cx="285.0" cy="278.1" r="0.40" opacity="0.59"/><circle cx="276.1" cy="310.4" r="0.48" opacity="0.71"/><circle cx="272.5" cy="287.5" r="0.50" opacity="0.78"/><circle cx="278.0" cy="287.2" r="0.56" opacity="0.77"/><circle cx="276.6" cy="291.2" r="0.54" opacity="0.58"/><circle cx="304.8" cy="297.5" r="0.59" opacity="0.65"/><circle cx="305.2" cy="281.7" r="0.53" opacity="0.55"/><circle cx="293.8" cy="282.2" r="0.43" opacity="0.46"/><circle cx="276.5" cy="291.5" r="0.41" opacity="0.42"/><circle cx="313.0" cy="278.4" r="0.58" opacity="0.67"/><circle cx="286.8" cy="308.1" r="0.57" opacity="0.54"/><circle cx="270.2" cy="296.4" r="0.56" opacity="0.67"/><circle cx="311.8" cy="284.8" r="0.50" opacity="0.52"/><circle cx="287.9" cy="283.2" r="0.45" opacity="0.58"/><circle cx="313.2" cy="272.6" r="0.40" opacity="0.51"/><circle cx="323.6" cy="290.4" r="0.36" opacity="0.78"/><circle cx="317.4" cy="305.5" r="0.44" opacity="0.73"/><circle cx="281.5" cy="270.9" r="0.57" opacity="0.77"/><circle cx="275.5" cy="308.4" r="0.36" opacity="0.54"/><circle cx="263.0" cy="272.6" r="0.39" opacity="0.72"/><circle cx="280.9" cy="273.6" r="0.40" opacity="0.54"/><circle cx="316.7" cy="294.6" r="0.38" opacity="0.71"/><circle cx="296.1" cy="286.6" r="0.48" opacity="0.69"/><circle cx="312.8" cy="289.5" r="0.51" opacity="0.61"/><circle cx="302.3" cy="283.6" r="0.45" opacity="0.63"/><circle cx="307.4" cy="278.1" r="0.58" opacity="0.62"/><circle cx="316.3" cy="298.9" r="0.59" opacity="0.71"/><circle cx="289.2" cy="284.5" r="0.50" opacity="0.74"/><circle cx="315.2" cy="270.5" r="0.37" opacity="0.45"/><circle cx="267.5" cy="266.8" r="0.35" opacity="0.51"/><circle cx="269.4" cy="298.6" r="0.50" opacity="0.83"/><circle cx="322.9" cy="301.7" r="0.59" opacity="0.41"/><circle cx="276.6" cy="310.8" r="0.47" opacity="0.49"/><circle cx="310.0" cy="285.4" r="0.49" opacity="0.54"/><circle cx="277.5" cy="268.4" r="0.50" opacity="0.83"/><circle cx="324.6" cy="302.6" r="0.58" opacity="0.56"/><circle cx="281.0" cy="310.6" r="0.50" opacity="0.70"/><circle cx="263.0" cy="275.5" r="0.47" opacity="0.73"/><circle cx="314.4" cy="302.2" r="0.43" opacity="0.57"/><circle cx="316.7" cy="314.0" r="0.47" opacity="0.49"/><circle cx="301.7" cy="291.1" r="0.44" opacity="0.50"/><circle cx="286.6" cy="294.9" r="0.38" opacity="0.64"/><circle cx="322.4" cy="301.6" r="0.41" opacity="0.59"/><circle cx="268.7" cy="301.2" r="0.51" opacity="0.48"/><circle cx="296.8" cy="294.1" r="0.49" opacity="0.57"/><circle cx="281.8" cy="281.9" r="0.60" opacity="0.55"/><circle cx="294.0" cy="287.2" r="0.39" opacity="0.58"/><circle cx="275.2" cy="280.3" r="0.44" opacity="0.56"/><circle cx="321.5" cy="279.0" r="0.43" opacity="0.70"/><circle cx="287.3" cy="290.0" r="0.51" opacity="0.43"/><circle cx="304.6" cy="269.1" r="0.41" opacity="0.76"/><circle cx="324.7" cy="298.0" r="0.39" opacity="0.60"/><circle cx="280.1" cy="306.5" r="0.41" opacity="0.49"/><circle cx="302.5" cy="296.2" r="0.50" opacity="0.62"/><circle cx="322.8" cy="287.2" r="0.58" opacity="0.58"/><circle cx="291.6" cy="282.1" r="0.53" opacity="0.74"/><circle cx="277.3" cy="290.6" r="0.53" opacity="0.63"/><circle cx="304.1" cy="295.1" r="0.53" opacity="0.56"/><circle cx="281.6" cy="265.2" r="0.57" opacity="0.76"/><circle cx="286.9" cy="312.8" r="0.58" opacity="0.47"/><circle cx="315.1" cy="285.3" r="0.43" opacity="0.52"/><circle cx="288.4" cy="266.6" r="0.36" opacity="0.45"/><circle cx="281.6" cy="272.0" r="0.38" opacity="0.77"/><circle cx="286.2" cy="288.8" r="0.50" opacity="0.82"/><circle cx="271.4" cy="275.5" r="0.57" opacity="0.81"/><circle cx="321.1" cy="290.7" r="0.44" opacity="0.48"/><circle cx="319.8" cy="302.6" r="0.49" opacity="0.76"/><circle cx="278.7" cy="291.0" r="0.58" opacity="0.45"/><circle cx="301.2" cy="273.4" r="0.56" opacity="0.78"/><circle cx="302.9" cy="286.0" r="0.36" opacity="0.62"/><circle cx="284.9" cy="284.2" r="0.37" opacity="0.81"/><circle cx="295.2" cy="292.4" r="0.56" opacity="0.80"/><circle cx="296.9" cy="291.5" r="0.56" opacity="0.57"/><circle cx="319.1" cy="265.2" r="0.55" opacity="0.64"/><circle cx="301.5" cy="314.0" r="0.40" opacity="0.58"/><circle cx="312.7" cy="301.7" r="0.48" opacity="0.75"/><circle cx="305.0" cy="307.9" r="0.51" opacity="0.56"/><circle cx="280.3" cy="268.1" r="0.38" opacity="0.42"/><circle cx="323.9" cy="271.1" r="0.50" opacity="0.46"/><circle cx="323.3" cy="290.9" r="0.39" opacity="0.77"/><circle cx="316.6" cy="313.4" r="0.41" opacity="0.58"/><circle cx="304.0" cy="278.3" r="0.49" opacity="0.72"/><circle cx="309.7" cy="305.6" r="0.54" opacity="0.53"/></g>
<g filter="url(#b1)">
<path d="M285.8,286.4 L301.2,275 L319.0,265.5" fill="none" stroke="#eeb4c6" stroke-width="1.8" stroke-linecap="round" stroke-linejoin="round" opacity="0.8"/>
<path d="M273.2,309 L287.2,299" fill="none" stroke="#f0b2c4" stroke-width="3.4" stroke-linecap="round" stroke-linejoin="round" opacity="0.8"/>
<path d="M296.9,306.5 L310.2,299" fill="none" stroke="#f2bac9" stroke-width="2.8" stroke-linecap="round" stroke-linejoin="round" opacity="0.8"/>
<path d="M303.2,314 L327.2,305" fill="none" stroke="#f2bccb" stroke-width="3" stroke-linecap="round" stroke-linejoin="round" opacity="0.8"/>
<path d="M263.2,317 L275.2,311" fill="none" stroke="#f0b0c2" stroke-width="2.5" stroke-linecap="round" stroke-linejoin="round" opacity="0.8"/>
<ellipse cx="266.2" cy="265.5" rx="8" ry="3.6" fill="#f0b0c2" opacity="0.8"/>
<ellipse cx="320.7" cy="276.5" rx="3.2" ry="7.5" fill="#f0b0c4" opacity="0.9" transform="rotate(28 320.7 276.5)"/>
</g>
</g>
<g clip-path="url(#c9)">
<rect x="326.40" y="263.00" width="66.60" height="52.50" fill="#f5d0da"/>
<g transform="rotate(-28 359.7 289.2)"><rect x="306.4" y="243.0" width="106.6" height="92.5" fill="#fff" filter="url(#nh)" opacity="0.6"/><rect x="306.4" y="243.0" width="106.6" height="92.5" fill="#fff" filter="url(#nk)" opacity="0.4"/></g>
<g fill="#85557a"><circle cx="344.1" cy="298.6" r="0.52" opacity="0.78"/><circle cx="339.4" cy="275.6" r="0.39" opacity="0.50"/><circle cx="374.8" cy="270.6" r="0.48" opacity="0.50"/><circle cx="346.4" cy="285.8" r="0.56" opacity="0.67"/><circle cx="328.3" cy="277.9" r="0.39" opacity="0.79"/><circle cx="379.7" cy="304.7" r="0.56" opacity="0.74"/><circle cx="388.7" cy="304.1" r="0.41" opacity="0.78"/><circle cx="358.8" cy="302.1" r="0.49" opacity="0.59"/><circle cx="350.9" cy="285.7" r="0.43" opacity="0.45"/><circle cx="380.3" cy="304.3" r="0.60" opacity="0.71"/><circle cx="363.2" cy="301.8" r="0.38" opacity="0.70"/><circle cx="356.0" cy="272.9" r="0.40" opacity="0.64"/><circle cx="343.8" cy="287.2" r="0.50" opacity="0.58"/><circle cx="335.8" cy="288.8" r="0.41" opacity="0.51"/><circle cx="340.0" cy="282.5" r="0.37" opacity="0.69"/><circle cx="389.0" cy="283.7" r="0.53" opacity="0.82"/><circle cx="330.2" cy="271.2" r="0.55" opacity="0.78"/><circle cx="368.7" cy="272.1" r="0.45" opacity="0.79"/><circle cx="384.6" cy="304.6" r="0.40" opacity="0.78"/><circle cx="351.6" cy="300.2" r="0.38" opacity="0.84"/><circle cx="366.4" cy="300.5" r="0.40" opacity="0.68"/><circle cx="364.9" cy="293.9" r="0.44" opacity="0.73"/><circle cx="349.5" cy="278.9" r="0.39" opacity="0.71"/><circle cx="334.7" cy="275.4" r="0.37" opacity="0.69"/><circle cx="363.3" cy="291.4" r="0.36" opacity="0.60"/><circle cx="349.6" cy="268.7" r="0.35" opacity="0.85"/><circle cx="335.2" cy="279.2" r="0.42" opacity="0.67"/><circle cx="332.4" cy="287.7" r="0.44" opacity="0.78"/><circle cx="327.8" cy="280.9" r="0.47" opacity="0.84"/><circle cx="360.8" cy="287.9" r="0.52" opacity="0.53"/><circle cx="329.5" cy="289.3" r="0.58" opacity="0.73"/><circle cx="344.1" cy="298.5" r="0.56" opacity="0.52"/><circle cx="365.4" cy="282.0" r="0.41" opacity="0.53"/><circle cx="340.6" cy="281.7" r="0.36" opacity="0.58"/><circle cx="333.0" cy="302.3" r="0.50" opacity="0.40"/><circle cx="377.4" cy="273.6" r="0.47" opacity="0.65"/><circle cx="348.9" cy="278.6" r="0.46" opacity="0.46"/><circle cx="383.2" cy="269.7" r="0.56" opacity="0.50"/><circle cx="347.0" cy="283.6" r="0.36" opacity="0.46"/><circle cx="350.7" cy="286.3" r="0.57" opacity="0.85"/><circle cx="330.2" cy="291.0" r="0.38" opacity="0.76"/><circle cx="348.2" cy="309.1" r="0.49" opacity="0.46"/><circle cx="327.7" cy="276.5" r="0.57" opacity="0.47"/><circle cx="358.3" cy="282.8" r="0.44" opacity="0.76"/></g>
</g>
<rect x="194.50" y="263" width="66.70" height="52.5" fill="none" stroke="#2a1f1f" stroke-width="0.9"/>
<rect x="261.20" y="263" width="65.20" height="52.5" fill="none" stroke="#2a1f1f" stroke-width="0.9"/>
<rect x="326.40" y="263" width="66.60" height="52.5" fill="none" stroke="#2a1f1f" stroke-width="0.9"/>
<line x1="244.50" y1="313.00" x2="258.00" y2="313.00" stroke="#3a2326" stroke-width="1.2"/>
<line x1="310.80" y1="313.00" x2="324.20" y2="313.00" stroke="#3a2326" stroke-width="1.2"/>
<line x1="377.50" y1="313.00" x2="390.50" y2="313.00" stroke="#3a2326" stroke-width="1.2"/>
<text x="406.10" y="204.40" font-size="17" font-weight="bold" fill="#000" stroke="#000" stroke-width="0.25">E</text>
<line x1="436.00" y1="227.50" x2="436.00" y2="348.70" stroke="#231815" stroke-width="1.5"/>
<line x1="435.30" y1="348.00" x2="515.50" y2="348.00" stroke="#231815" stroke-width="1.5"/>
<text x="432.80" y="350.10" font-size="7.8" text-anchor="end" fill="#2a2220" stroke="#2a2220" stroke-width="0.22">0</text>
<line x1="436.00" y1="317.60" x2="439.00" y2="317.60" stroke="#231815" stroke-width="1.1"/>
<text x="432.80" y="320.30" font-size="7.8" text-anchor="end" fill="#2a2220" stroke="#2a2220" stroke-width="0.22">10</text>
<line x1="436.00" y1="287.80" x2="439.00" y2="287.80" stroke="#231815" stroke-width="1.1"/>
<text x="432.80" y="290.50" font-size="7.8" text-anchor="end" fill="#2a2220" stroke="#2a2220" stroke-width="0.22">20</text>
<line x1="436.00" y1="258.00" x2="439.00" y2="258.00" stroke="#231815" stroke-width="1.1"/>
<text x="432.80" y="260.70" font-size="7.8" text-anchor="end" fill="#2a2220" stroke="#2a2220" stroke-width="0.22">30</text>
<line x1="436.00" y1="228.20" x2="439.00" y2="228.20" stroke="#231815" stroke-width="1.1"/>
<text x="432.80" y="230.90" font-size="7.8" text-anchor="end" fill="#2a2220" stroke="#2a2220" stroke-width="0.22">40</text>
<line x1="475.80" y1="348.00" x2="475.80" y2="345.20" stroke="#231815" stroke-width="1.1"/>
<line x1="515.00" y1="348.00" x2="515.00" y2="345.20" stroke="#231815" stroke-width="1.1"/>
<line x1="456.80" y1="257.80" x2="456.80" y2="266.40" stroke="#231815" stroke-width="0.8"/>
<line x1="453.80" y1="257.80" x2="459.80" y2="257.80" stroke="#231815" stroke-width="0.8"/>
<rect x="445.30" y="266.40" width="23.00" height="81.10" fill="#231815"/>
<line x1="495.65" y1="328.60" x2="495.65" y2="331.60" stroke="#231815" stroke-width="0.8"/>
<line x1="492.65" y1="328.60" x2="498.65" y2="328.60" stroke="#231815" stroke-width="0.8"/>
<rect x="484.30" y="331.60" width="22.70" height="15.90" fill="#e60012"/>
<text x="495.65" y="326.00" font-size="10.5" text-anchor="middle" fill="#757a7c" stroke="#757a7c" stroke-width="0.35">**</text>
<text x="418.80" y="288.00" font-size="9.6" text-anchor="middle" transform="rotate(-90 418.80 288.00)" textLength="127.00" lengthAdjust="spacingAndGlyphs" fill="#2a2220" stroke="#2a2220" stroke-width="0.22">% of necrotic tissue ( / mm<tspan font-size="6" dy="-3">2</tspan><tspan dy="3" font-size="1">&#8203;</tspan> )</text>
<rect x="440.20" y="199.10" width="5.8" height="5.8" fill="#231815"/>
<rect x="440.20" y="212.60" width="5.8" height="5.8" fill="#e60012"/>
<text x="449.20" y="205.40" font-size="9.9" fill="#2a2220" stroke="#2a2220" stroke-width="0.22" word-spacing="1.76">HL + BSA-PBS</text>
<text x="449.20" y="218.90" font-size="9.9" fill="#2a2220" stroke="#2a2220" stroke-width="0.22" word-spacing="1.46">HL + tPA</text>
<text x="0.70" y="407.30" font-size="17" font-weight="bold" fill="#000" stroke="#000" stroke-width="0.25">F</text>
<text x="40.70" y="415.00" font-size="9.4" textLength="58.00" lengthAdjust="spacingAndGlyphs" fill="#2a2220" stroke="#2a2220" stroke-width="0.22">Non-ischemic</text>
<text x="121.40" y="415.00" font-size="9.4" textLength="65.30" lengthAdjust="spacingAndGlyphs" fill="#2a2220" stroke="#2a2220" stroke-width="0.22">HL + BSA-PBS</text>
<text x="218.90" y="415.00" font-size="9.6" textLength="39.80" lengthAdjust="spacingAndGlyphs" fill="#2a2220" stroke="#2a2220" stroke-width="0.22">HL + tPA</text>
<text x="24.60" y="455.60" font-size="9.4" text-anchor="middle" transform="rotate(-90 24.60 455.60)" textLength="27.00" lengthAdjust="spacingAndGlyphs" fill="#2a2220" stroke="#2a2220" stroke-width="0.22">CD 31</text>
<g clip-path="url(#c10)">
<rect x="27.00" y="418.80" width="83.80" height="72.50" fill="#27191a"/>
<g filter="url(#bs)"><circle cx="41.5" cy="468.4" r="0.72" fill="#2868a4" opacity="0.83"/><circle cx="109.0" cy="453.3" r="0.88" fill="#245c92" opacity="0.68"/><circle cx="47.3" cy="420.0" r="0.59" fill="#2868a4" opacity="0.48"/><circle cx="92.9" cy="436.2" r="0.52" fill="#1f4c7c" opacity="0.65"/><circle cx="109.4" cy="474.1" r="0.60" fill="#2868a4" opacity="0.47"/><circle cx="54.9" cy="454.9" r="0.46" fill="#1c3f68" opacity="0.46"/><circle cx="88.6" cy="426.0" r="0.80" fill="#1f4c7c" opacity="0.65"/><circle cx="73.2" cy="444.0" r="0.64" fill="#245c92" opacity="0.75"/><circle cx="66.4" cy="477.6" r="0.44" fill="#245c92" opacity="0.54"/><circle cx="107.2" cy="482.8" r="0.78" fill="#1f4c7c" opacity="0.51"/><circle cx="67.0" cy="478.1" r="0.50" fill="#245c92" opacity="0.85"/><circle cx="61.5" cy="445.5" r="0.63" fill="#2868a4" opacity="0.59"/><circle cx="67.6" cy="438.5" r="0.82" fill="#245c92" opacity="0.77"/><circle cx="109.2" cy="454.8" r="0.65" fill="#245c92" opacity="0.71"/><circle cx="54.1" cy="488.9" r="0.46" fill="#245c92" opacity="0.73"/><circle cx="96.2" cy="443.2" r="0.78" fill="#1c3f68" opacity="0.56"/><circle cx="41.8" cy="484.9" r="0.49" fill="#2868a4" opacity="0.62"/><circle cx="83.9" cy="467.5" r="0.85" fill="#245c92" opacity="0.63"/><circle cx="108.9" cy="487.6" r="0.70" fill="#1c3f68" opacity="0.67"/><circle cx="58.7" cy="437.2" r="0.84" fill="#245c92" opacity="0.70"/><circle cx="63.9" cy="448.5" r="0.77" fill="#1f4c7c" opacity="0.83"/><circle cx="32.3" cy="438.0" r="0.54" fill="#2868a4" opacity="0.56"/><circle cx="60.3" cy="481.2" r="0.72" fill="#245c92" opacity="0.89"/><circle cx="89.0" cy="453.6" r="0.53" fill="#2868a4" opacity="0.46"/><circle cx="45.3" cy="478.9" r="0.80" fill="#1c3f68" opacity="0.72"/><circle cx="62.9" cy="460.8" r="0.82" fill="#1c3f68" opacity="0.51"/><circle cx="76.1" cy="429.6" r="0.76" fill="#2868a4" opacity="0.76"/><circle cx="106.0" cy="421.5" r="0.70" fill="#245c92" opacity="0.83"/><circle cx="75.8" cy="437.9" r="0.60" fill="#245c92" opacity="0.51"/><circle cx="35.8" cy="426.4" r="0.41" fill="#2868a4" opacity="0.80"/><circle cx="33.9" cy="428.2" r="0.54" fill="#1c3f68" opacity="0.69"/><circle cx="54.5" cy="454.6" r="0.51" fill="#245c92" opacity="0.53"/><circle cx="98.1" cy="434.0" r="0.77" fill="#1f4c7c" opacity="0.72"/><circle cx="69.3" cy="472.4" r="0.43" fill="#1f4c7c" opacity="0.62"/><circle cx="98.7" cy="447.9" r="0.68" fill="#245c92" opacity="0.56"/><circle cx="85.0" cy="441.9" r="0.42" fill="#2868a4" opacity="0.52"/><circle cx="87.4" cy="489.6" r="0.81" fill="#2868a4" opacity="0.88"/><circle cx="36.1" cy="462.2" r="0.65" fill="#1c3f68" opacity="0.89"/><circle cx="53.4" cy="469.1" r="0.66" fill="#245c92" opacity="0.48"/><circle cx="94.6" cy="488.7" r="0.58" fill="#1c3f68" opacity="0.75"/><circle cx="62.4" cy="481.0" r="0.73" fill="#2868a4" opacity="0.68"/><circle cx="105.5" cy="467.7" r="0.75" fill="#2868a4" opacity="0.68"/><circle cx="59.9" cy="448.1" r="0.51" fill="#1f4c7c" opacity="0.75"/><circle cx="31.4" cy="439.2" r="0.69" fill="#2868a4" opacity="0.78"/><circle cx="65.3" cy="436.5" r="0.59" fill="#2868a4" opacity="0.55"/><circle cx="102.8" cy="465.9" r="0.42" fill="#245c92" opacity="0.67"/><circle cx="86.7" cy="482.6" r="0.79" fill="#1c3f68" opacity="0.56"/><circle cx="103.0" cy="447.0" r="0.71" fill="#1f4c7c" opacity="0.52"/><circle cx="44.5" cy="481.5" r="0.76" fill="#1f4c7c" opacity="0.70"/><circle cx="34.5" cy="441.1" r="0.87" fill="#2868a4" opacity="0.89"/><circle cx="109.1" cy="431.5" r="0.62" fill="#1c3f68" opacity="0.62"/><circle cx="75.6" cy="433.1" r="0.44" fill="#1f4c7c" opacity="0.59"/><circle cx="48.8" cy="479.4" r="0.48" fill="#245c92" opacity="0.56"/><circle cx="84.3" cy="470.3" r="0.48" fill="#2868a4" opacity="0.66"/><circle cx="63.7" cy="463.3" r="0.54" fill="#245c92" opacity="0.75"/><circle cx="78.9" cy="426.8" r="0.89" fill="#245c92" opacity="0.47"/><circle cx="94.3" cy="485.7" r="0.75" fill="#1f4c7c" opacity="0.48"/><circle cx="75.4" cy="447.9" r="0.62" fill="#2868a4" opacity="0.56"/><circle cx="28.6" cy="458.2" r="0.45" fill="#1c3f68" opacity="0.54"/><circle cx="58.3" cy="420.0" r="0.48" fill="#2868a4" opacity="0.69"/><circle cx="32.0" cy="433.0" r="0.60" fill="#245c92" opacity="0.55"/><circle cx="93.6" cy="479.3" r="0.86" fill="#1f4c7c" opacity="0.75"/><circle cx="34.0" cy="450.5" r="0.82" fill="#245c92" opacity="0.52"/><circle cx="68.7" cy="456.9" r="0.67" fill="#2868a4" opacity="0.66"/><circle cx="93.4" cy="443.6" r="0.53" fill="#1c3f68" opacity="0.58"/><circle cx="80.3" cy="420.5" r="0.80" fill="#1f4c7c" opacity="0.53"/><circle cx="36.0" cy="478.2" r="0.58" fill="#1c3f68" opacity="0.48"/><circle cx="31.0" cy="454.7" r="0.74" fill="#2868a4" opacity="0.52"/><circle cx="36.5" cy="485.4" r="0.67" fill="#2868a4" opacity="0.54"/><circle cx="43.8" cy="487.1" r="0.61" fill="#1c3f68" opacity="0.82"/><circle cx="45.5" cy="422.7" r="0.58" fill="#245c92" opacity="0.46"/><circle cx="58.1" cy="453.5" r="0.83" fill="#2868a4" opacity="0.81"/><circle cx="102.1" cy="467.7" r="0.51" fill="#1f4c7c" opacity="0.89"/><circle cx="59.9" cy="486.2" r="0.87" fill="#1c3f68" opacity="0.46"/><circle cx="56.8" cy="463.1" r="0.70" fill="#2868a4" opacity="0.74"/><circle cx="41.2" cy="485.4" r="0.67" fill="#2868a4" opacity="0.54"/><circle cx="109.6" cy="458.9" r="0.79" fill="#1c3f68" opacity="0.86"/><circle cx="47.6" cy="462.1" r="0.58" fill="#1c3f68" opacity="0.71"/><circle cx="109.3" cy="484.1" r="0.88" fill="#1f4c7c" opacity="0.89"/><circle cx="88.5" cy="472.1" r="0.51" fill="#1c3f68" opacity="0.85"/><circle cx="70.0" cy="428.5" r="0.52" fill="#2868a4" opacity="0.73"/><circle cx="66.0" cy="454.7" r="0.50" fill="#245c92" opacity="0.56"/><circle cx="63.2" cy="446.5" r="0.64" fill="#1c3f68" opacity="0.47"/><circle cx="98.2" cy="434.3" r="0.79" fill="#1c3f68" opacity="0.71"/><circle cx="93.7" cy="471.7" r="0.77" fill="#245c92" opacity="0.62"/><circle cx="60.2" cy="420.1" r="0.73" fill="#1c3f68" opacity="0.71"/><circle cx="109.6" cy="433.7" r="0.51" fill="#2868a4" opacity="0.75"/><circle cx="30.2" cy="484.4" r="0.47" fill="#1c3f68" opacity="0.66"/><circle cx="59.9" cy="464.1" r="0.70" fill="#1f4c7c" opacity="0.84"/><circle cx="89.5" cy="446.2" r="0.53" fill="#2868a4" opacity="0.81"/></g>
<g filter="url(#bs)"><circle cx="106.8" cy="452.0" r="0.61" fill="#2460a0" opacity="0.66"/><circle cx="83.4" cy="467.3" r="0.77" fill="#20507e" opacity="0.68"/><circle cx="106.9" cy="457.4" r="0.90" fill="#2460a0" opacity="0.85"/><circle cx="81.4" cy="474.2" r="0.89" fill="#2460a0" opacity="0.75"/><circle cx="85.1" cy="451.1" r="0.87" fill="#20507e" opacity="0.84"/><circle cx="97.1" cy="455.6" r="1.08" fill="#2460a0" opacity="0.92"/><circle cx="104.4" cy="476.5" r="0.86" fill="#2460a0" opacity="0.89"/><circle cx="98.7" cy="453.4" r="0.62" fill="#20507e" opacity="0.75"/><circle cx="87.0" cy="456.3" r="1.04" fill="#2460a0" opacity="0.83"/><circle cx="105.7" cy="457.0" r="0.79" fill="#20507e" opacity="0.70"/><circle cx="96.7" cy="464.1" r="0.82" fill="#2460a0" opacity="0.63"/><circle cx="107.9" cy="458.5" r="0.82" fill="#2460a0" opacity="0.62"/><circle cx="103.6" cy="453.7" r="0.72" fill="#20507e" opacity="0.63"/><circle cx="105.1" cy="452.9" r="0.87" fill="#2460a0" opacity="0.66"/><circle cx="105.5" cy="466.7" r="0.82" fill="#20507e" opacity="0.79"/><circle cx="102.3" cy="467.2" r="0.70" fill="#20507e" opacity="0.62"/></g>
<g filter="url(#bs)"><circle cx="103.7" cy="486.7" r="0.48" fill="#8a4034" opacity="0.51"/><circle cx="53.1" cy="446.5" r="0.37" fill="#8a4034" opacity="0.58"/><circle cx="29.2" cy="463.5" r="0.48" fill="#8a4034" opacity="0.53"/><circle cx="86.1" cy="449.5" r="0.40" fill="#a05a40" opacity="0.61"/><circle cx="32.7" cy="475.0" r="0.42" fill="#8a4034" opacity="0.69"/><circle cx="107.4" cy="445.4" r="0.45" fill="#a05a40" opacity="0.79"/><circle cx="51.0" cy="488.5" r="0.41" fill="#a05a40" opacity="0.55"/><circle cx="67.5" cy="475.6" r="0.44" fill="#8a4034" opacity="0.55"/></g>
</g>
<g clip-path="url(#c11)">
<rect x="113.10" y="418.80" width="82.00" height="72.50" fill="#27191a"/>
<g filter="url(#bs)"><circle cx="115.1" cy="427.7" r="0.71" fill="#1f4c7c" opacity="0.56"/><circle cx="123.1" cy="436.1" r="0.94" fill="#245c92" opacity="0.94"/><circle cx="116.7" cy="424.1" r="0.60" fill="#2868a4" opacity="0.74"/><circle cx="130.5" cy="461.6" r="0.53" fill="#2868a4" opacity="0.65"/><circle cx="130.6" cy="447.4" r="0.84" fill="#245c92" opacity="0.59"/><circle cx="131.5" cy="461.0" r="0.81" fill="#1f4c7c" opacity="0.88"/><circle cx="142.5" cy="434.2" r="0.99" fill="#2868a4" opacity="0.51"/><circle cx="172.9" cy="481.0" r="0.87" fill="#245c92" opacity="0.59"/><circle cx="148.7" cy="445.7" r="0.66" fill="#245c92" opacity="0.72"/><circle cx="135.2" cy="440.5" r="0.82" fill="#2868a4" opacity="0.79"/><circle cx="181.0" cy="487.6" r="1.08" fill="#1f4c7c" opacity="0.86"/><circle cx="138.6" cy="432.2" r="0.86" fill="#1c3f68" opacity="0.54"/><circle cx="129.5" cy="484.7" r="0.84" fill="#1f4c7c" opacity="0.80"/><circle cx="136.9" cy="441.3" r="1.00" fill="#245c92" opacity="0.55"/><circle cx="130.3" cy="443.3" r="0.71" fill="#1f4c7c" opacity="0.75"/><circle cx="123.5" cy="426.8" r="1.09" fill="#1f4c7c" opacity="0.93"/><circle cx="130.2" cy="431.2" r="1.09" fill="#245c92" opacity="0.71"/><circle cx="154.0" cy="475.4" r="0.63" fill="#1c3f68" opacity="0.94"/><circle cx="153.3" cy="461.4" r="1.01" fill="#2868a4" opacity="0.56"/><circle cx="172.1" cy="468.7" r="1.08" fill="#1f4c7c" opacity="0.61"/><circle cx="175.3" cy="489.2" r="0.68" fill="#1f4c7c" opacity="0.54"/><circle cx="160.7" cy="451.2" r="1.10" fill="#245c92" opacity="0.56"/><circle cx="183.3" cy="423.3" r="0.85" fill="#245c92" opacity="0.86"/><circle cx="189.8" cy="480.9" r="0.90" fill="#2868a4" opacity="0.75"/><circle cx="155.2" cy="469.8" r="0.78" fill="#245c92" opacity="0.74"/><circle cx="171.5" cy="452.3" r="0.92" fill="#2868a4" opacity="0.65"/><circle cx="143.8" cy="456.6" r="0.68" fill="#245c92" opacity="0.92"/><circle cx="169.3" cy="460.7" r="0.56" fill="#1f4c7c" opacity="0.83"/><circle cx="130.7" cy="437.1" r="1.02" fill="#245c92" opacity="0.69"/><circle cx="171.0" cy="458.0" r="0.61" fill="#1c3f68" opacity="0.83"/><circle cx="180.3" cy="422.1" r="0.85" fill="#1c3f68" opacity="0.62"/><circle cx="130.3" cy="477.2" r="0.69" fill="#2868a4" opacity="0.52"/><circle cx="149.6" cy="469.7" r="0.61" fill="#1c3f68" opacity="0.66"/><circle cx="169.9" cy="445.8" r="0.95" fill="#1f4c7c" opacity="0.94"/><circle cx="184.9" cy="468.7" r="1.03" fill="#2868a4" opacity="0.92"/><circle cx="136.3" cy="432.6" r="0.47" fill="#2868a4" opacity="0.57"/><circle cx="178.8" cy="478.4" r="1.09" fill="#1c3f68" opacity="0.67"/><circle cx="174.7" cy="441.0" r="1.04" fill="#1c3f68" opacity="0.68"/><circle cx="176.3" cy="436.2" r="0.84" fill="#1c3f68" opacity="0.88"/><circle cx="167.7" cy="469.7" r="0.46" fill="#2868a4" opacity="0.92"/><circle cx="168.0" cy="456.4" r="1.01" fill="#1c3f68" opacity="0.86"/><circle cx="145.9" cy="434.9" r="1.03" fill="#2868a4" opacity="0.52"/><circle cx="159.7" cy="487.4" r="0.61" fill="#2868a4" opacity="0.81"/><circle cx="140.0" cy="489.1" r="0.97" fill="#1f4c7c" opacity="0.65"/><circle cx="172.5" cy="473.4" r="0.73" fill="#1f4c7c" opacity="0.64"/><circle cx="178.0" cy="485.7" r="0.60" fill="#2868a4" opacity="0.75"/><circle cx="120.2" cy="454.6" r="0.76" fill="#1c3f68" opacity="0.72"/><circle cx="152.3" cy="468.1" r="1.04" fill="#1c3f68" opacity="0.61"/><circle cx="193.5" cy="452.6" r="0.68" fill="#2868a4" opacity="0.91"/><circle cx="139.9" cy="447.2" r="0.72" fill="#1f4c7c" opacity="0.81"/><circle cx="181.2" cy="422.5" r="0.92" fill="#2868a4" opacity="0.84"/><circle cx="125.0" cy="487.8" r="0.96" fill="#1c3f68" opacity="0.69"/><circle cx="158.6" cy="475.1" r="0.74" fill="#245c92" opacity="0.89"/><circle cx="138.6" cy="469.8" r="0.58" fill="#2868a4" opacity="0.71"/><circle cx="136.1" cy="443.8" r="1.05" fill="#1c3f68" opacity="0.88"/><circle cx="161.9" cy="477.7" r="0.72" fill="#1f4c7c" opacity="0.58"/><circle cx="132.2" cy="438.1" r="1.04" fill="#245c92" opacity="0.55"/><circle cx="182.2" cy="469.7" r="0.65" fill="#2868a4" opacity="0.69"/><circle cx="120.4" cy="426.5" r="0.97" fill="#2868a4" opacity="0.71"/><circle cx="125.6" cy="450.5" r="0.55" fill="#1c3f68" opacity="0.77"/><circle cx="139.2" cy="479.5" r="0.81" fill="#1c3f68" opacity="0.55"/><circle cx="170.7" cy="462.8" r="1.00" fill="#245c92" opacity="0.75"/><circle cx="161.5" cy="473.9" r="0.62" fill="#1c3f68" opacity="0.85"/><circle cx="161.7" cy="458.0" r="1.01" fill="#1c3f68" opacity="0.84"/><circle cx="165.8" cy="431.7" r="0.90" fill="#245c92" opacity="0.71"/><circle cx="156.8" cy="477.4" r="1.02" fill="#245c92" opacity="0.69"/><circle cx="191.4" cy="431.9" r="0.78" fill="#1c3f68" opacity="0.86"/><circle cx="153.1" cy="433.9" r="0.76" fill="#1f4c7c" opacity="0.72"/><circle cx="167.2" cy="433.0" r="0.54" fill="#1c3f68" opacity="0.57"/><circle cx="170.7" cy="471.8" r="0.83" fill="#1c3f68" opacity="0.92"/><circle cx="124.8" cy="484.4" r="0.94" fill="#1c3f68" opacity="0.87"/><circle cx="119.3" cy="421.1" r="0.48" fill="#1c3f68" opacity="0.76"/><circle cx="133.1" cy="445.9" r="0.72" fill="#1f4c7c" opacity="0.93"/><circle cx="146.1" cy="426.7" r="0.51" fill="#245c92" opacity="0.73"/><circle cx="127.0" cy="422.4" r="0.50" fill="#245c92" opacity="0.68"/><circle cx="137.1" cy="473.9" r="0.93" fill="#1f4c7c" opacity="0.65"/><circle cx="134.1" cy="481.1" r="0.84" fill="#1c3f68" opacity="0.73"/><circle cx="148.3" cy="489.8" r="0.87" fill="#1c3f68" opacity="0.82"/><circle cx="164.6" cy="436.8" r="0.59" fill="#1f4c7c" opacity="0.57"/><circle cx="169.4" cy="465.6" r="0.52" fill="#1c3f68" opacity="0.80"/><circle cx="153.4" cy="444.1" r="0.55" fill="#2868a4" opacity="0.81"/><circle cx="189.2" cy="439.4" r="0.68" fill="#1c3f68" opacity="0.94"/><circle cx="151.4" cy="470.3" r="0.69" fill="#2868a4" opacity="0.69"/><circle cx="157.2" cy="471.0" r="0.46" fill="#1c3f68" opacity="0.74"/><circle cx="161.6" cy="478.2" r="0.72" fill="#2868a4" opacity="0.72"/><circle cx="156.1" cy="458.8" r="0.45" fill="#1f4c7c" opacity="0.94"/><circle cx="189.6" cy="439.7" r="1.08" fill="#1c3f68" opacity="0.54"/><circle cx="133.7" cy="451.2" r="0.61" fill="#245c92" opacity="0.81"/><circle cx="190.7" cy="428.8" r="0.88" fill="#1c3f68" opacity="0.65"/><circle cx="134.9" cy="439.1" r="1.09" fill="#1f4c7c" opacity="0.51"/><circle cx="145.8" cy="422.8" r="0.89" fill="#1f4c7c" opacity="0.70"/><circle cx="190.4" cy="452.8" r="0.89" fill="#1c3f68" opacity="0.92"/><circle cx="127.7" cy="443.7" r="1.07" fill="#1c3f68" opacity="0.67"/><circle cx="184.6" cy="428.2" r="0.61" fill="#1f4c7c" opacity="0.53"/><circle cx="131.4" cy="423.0" r="0.81" fill="#245c92" opacity="0.61"/><circle cx="170.8" cy="473.4" r="0.70" fill="#1f4c7c" opacity="0.52"/><circle cx="159.4" cy="430.6" r="0.53" fill="#1f4c7c" opacity="0.54"/><circle cx="120.0" cy="429.3" r="0.69" fill="#1c3f68" opacity="0.65"/><circle cx="179.8" cy="445.8" r="0.85" fill="#1f4c7c" opacity="0.89"/><circle cx="184.3" cy="479.3" r="1.02" fill="#2868a4" opacity="0.60"/><circle cx="151.8" cy="468.2" r="0.60" fill="#1f4c7c" opacity="0.87"/><circle cx="169.8" cy="478.2" r="1.10" fill="#245c92" opacity="0.78"/><circle cx="126.0" cy="451.8" r="0.54" fill="#1f4c7c" opacity="0.81"/><circle cx="145.5" cy="461.1" r="0.50" fill="#1c3f68" opacity="0.72"/><circle cx="156.4" cy="440.4" r="0.81" fill="#2868a4" opacity="0.73"/><circle cx="121.9" cy="459.3" r="0.55" fill="#1f4c7c" opacity="0.91"/><circle cx="179.3" cy="437.4" r="0.77" fill="#245c92" opacity="0.81"/><circle cx="181.4" cy="476.4" r="0.91" fill="#1c3f68" opacity="0.51"/><circle cx="184.6" cy="467.0" r="0.71" fill="#1c3f68" opacity="0.86"/><circle cx="155.8" cy="446.0" r="1.03" fill="#245c92" opacity="0.54"/><circle cx="164.4" cy="449.7" r="0.66" fill="#1c3f68" opacity="0.74"/><circle cx="189.2" cy="466.1" r="0.95" fill="#245c92" opacity="0.75"/><circle cx="171.5" cy="480.6" r="0.48" fill="#1c3f68" opacity="0.88"/><circle cx="170.1" cy="456.1" r="0.84" fill="#1c3f68" opacity="0.62"/><circle cx="189.8" cy="450.5" r="0.83" fill="#245c92" opacity="0.95"/><circle cx="188.1" cy="442.2" r="0.79" fill="#1c3f68" opacity="0.90"/><circle cx="140.2" cy="448.3" r="0.46" fill="#2868a4" opacity="0.51"/><circle cx="164.4" cy="489.3" r="0.84" fill="#1c3f68" opacity="0.60"/><circle cx="148.1" cy="484.0" r="0.73" fill="#1c3f68" opacity="0.83"/><circle cx="180.9" cy="427.3" r="0.99" fill="#1f4c7c" opacity="0.60"/><circle cx="120.8" cy="433.4" r="0.51" fill="#2868a4" opacity="0.80"/><circle cx="156.7" cy="467.9" r="0.51" fill="#245c92" opacity="0.69"/><circle cx="142.8" cy="467.9" r="0.49" fill="#1c3f68" opacity="0.61"/><circle cx="129.0" cy="421.0" r="0.98" fill="#1c3f68" opacity="0.76"/><circle cx="121.9" cy="443.7" r="0.81" fill="#245c92" opacity="0.79"/><circle cx="143.1" cy="433.8" r="0.64" fill="#1f4c7c" opacity="0.79"/><circle cx="148.0" cy="480.0" r="0.56" fill="#245c92" opacity="0.75"/><circle cx="182.3" cy="458.6" r="0.89" fill="#1c3f68" opacity="0.59"/><circle cx="120.3" cy="477.6" r="0.90" fill="#1c3f68" opacity="0.91"/><circle cx="128.7" cy="471.5" r="0.78" fill="#1f4c7c" opacity="0.92"/><circle cx="140.0" cy="477.4" r="0.89" fill="#2868a4" opacity="0.50"/><circle cx="144.0" cy="422.0" r="1.05" fill="#1c3f68" opacity="0.63"/><circle cx="125.3" cy="426.9" r="1.07" fill="#245c92" opacity="0.51"/><circle cx="152.0" cy="485.2" r="0.94" fill="#1c3f68" opacity="0.87"/><circle cx="190.3" cy="438.9" r="1.06" fill="#1c3f68" opacity="0.72"/><circle cx="124.9" cy="457.4" r="0.77" fill="#245c92" opacity="0.61"/><circle cx="171.6" cy="473.3" r="0.84" fill="#1c3f68" opacity="0.86"/><circle cx="171.0" cy="455.3" r="0.87" fill="#1c3f68" opacity="0.74"/><circle cx="118.3" cy="439.0" r="0.49" fill="#245c92" opacity="0.59"/><circle cx="176.8" cy="454.4" r="1.07" fill="#2868a4" opacity="0.83"/><circle cx="122.9" cy="470.1" r="0.46" fill="#1c3f68" opacity="0.94"/><circle cx="149.0" cy="483.8" r="0.89" fill="#2868a4" opacity="0.58"/><circle cx="150.7" cy="438.2" r="0.64" fill="#2868a4" opacity="0.66"/><circle cx="176.0" cy="478.2" r="0.90" fill="#1c3f68" opacity="0.77"/><circle cx="125.0" cy="429.2" r="0.85" fill="#2868a4" opacity="0.50"/><circle cx="191.2" cy="446.3" r="0.62" fill="#1f4c7c" opacity="0.66"/><circle cx="154.9" cy="423.2" r="0.75" fill="#1f4c7c" opacity="0.92"/><circle cx="142.1" cy="480.5" r="1.10" fill="#1c3f68" opacity="0.83"/><circle cx="150.6" cy="428.9" r="0.61" fill="#1c3f68" opacity="0.68"/><circle cx="169.0" cy="469.5" r="0.83" fill="#1f4c7c" opacity="0.86"/></g>
<g filter="url(#bs)"><circle cx="159.7" cy="464.4" r="0.46" fill="#a05a40" opacity="0.64"/><circle cx="184.5" cy="457.4" r="0.41" fill="#a05a40" opacity="0.79"/><circle cx="156.4" cy="451.2" r="0.49" fill="#8a4034" opacity="0.59"/><circle cx="138.8" cy="454.8" r="0.31" fill="#a05a40" opacity="0.74"/><circle cx="136.5" cy="442.3" r="0.45" fill="#8a4034" opacity="0.54"/><circle cx="118.6" cy="488.9" r="0.36" fill="#8a4034" opacity="0.80"/></g>
</g>
<g clip-path="url(#c12)">
<rect x="197.50" y="418.80" width="83.80" height="72.50" fill="#27191a"/>
<ellipse cx="245.5" cy="458.8" rx="34" ry="24" fill="#3a2038" opacity="0.45" filter="url(#b8)"/>
<g filter="url(#bs)"><circle cx="229.7" cy="436.1" r="0.54" fill="#6a4080" opacity="0.71"/><circle cx="255.0" cy="458.8" r="0.66" fill="#84407a" opacity="0.79"/><circle cx="199.3" cy="437.4" r="1.00" fill="#2a4a86" opacity="0.65"/><circle cx="211.2" cy="430.4" r="0.85" fill="#30559a" opacity="0.57"/><circle cx="255.0" cy="461.0" r="0.52" fill="#24407a" opacity="0.46"/><circle cx="269.4" cy="479.1" r="0.57" fill="#84407a" opacity="0.61"/><circle cx="237.4" cy="458.9" r="0.46" fill="#2a4a86" opacity="0.86"/><circle cx="254.8" cy="488.9" r="0.48" fill="#4a4488" opacity="0.55"/><circle cx="200.6" cy="460.5" r="0.69" fill="#2a4a86" opacity="0.59"/><circle cx="210.4" cy="466.9" r="0.67" fill="#84407a" opacity="0.75"/><circle cx="268.8" cy="436.0" r="0.50" fill="#2a4a86" opacity="0.66"/><circle cx="258.1" cy="449.8" r="0.86" fill="#24407a" opacity="0.46"/><circle cx="199.7" cy="452.5" r="0.55" fill="#2a4a86" opacity="0.77"/><circle cx="257.4" cy="467.9" r="0.92" fill="#2a4a86" opacity="0.89"/><circle cx="256.2" cy="482.9" r="0.68" fill="#84407a" opacity="0.79"/><circle cx="248.3" cy="449.3" r="0.92" fill="#30559a" opacity="0.55"/><circle cx="228.2" cy="452.2" r="0.85" fill="#6a4080" opacity="0.49"/><circle cx="253.2" cy="458.0" r="0.96" fill="#30559a" opacity="0.57"/><circle cx="271.9" cy="442.8" r="0.96" fill="#6a4080" opacity="0.80"/><circle cx="222.6" cy="450.9" r="0.49" fill="#24407a" opacity="0.52"/><circle cx="201.0" cy="432.5" r="0.82" fill="#2a4a86" opacity="0.89"/><circle cx="243.3" cy="463.7" r="0.72" fill="#2a4a86" opacity="0.55"/><circle cx="253.8" cy="428.2" r="1.00" fill="#24407a" opacity="0.78"/><circle cx="214.3" cy="474.3" r="0.67" fill="#4a4488" opacity="0.85"/><circle cx="265.7" cy="421.9" r="0.77" fill="#30559a" opacity="0.74"/><circle cx="240.5" cy="465.6" r="0.55" fill="#84407a" opacity="0.89"/><circle cx="277.2" cy="422.8" r="0.82" fill="#84407a" opacity="0.61"/><circle cx="254.3" cy="484.8" r="0.95" fill="#4a4488" opacity="0.58"/><circle cx="219.7" cy="446.6" r="0.58" fill="#2a4a86" opacity="0.84"/><circle cx="221.4" cy="461.2" r="0.62" fill="#6a4080" opacity="0.76"/><circle cx="218.1" cy="455.1" r="0.78" fill="#30559a" opacity="0.67"/><circle cx="272.4" cy="440.3" r="0.59" fill="#6a4080" opacity="0.87"/><circle cx="266.1" cy="423.6" r="0.90" fill="#84407a" opacity="0.82"/><circle cx="242.3" cy="473.2" r="0.80" fill="#6a4080" opacity="0.81"/><circle cx="224.9" cy="445.6" r="0.54" fill="#2a4a86" opacity="0.55"/><circle cx="269.9" cy="456.0" r="0.53" fill="#84407a" opacity="0.72"/><circle cx="229.2" cy="436.3" r="0.92" fill="#24407a" opacity="0.46"/><circle cx="261.2" cy="471.1" r="0.66" fill="#30559a" opacity="0.47"/><circle cx="225.3" cy="455.8" r="0.55" fill="#2a4a86" opacity="0.71"/><circle cx="257.5" cy="433.2" r="0.55" fill="#6a4080" opacity="0.49"/><circle cx="252.4" cy="485.7" r="0.92" fill="#2a4a86" opacity="0.77"/><circle cx="207.2" cy="447.2" r="0.49" fill="#4a4488" opacity="0.75"/><circle cx="260.1" cy="446.0" r="0.89" fill="#2a4a86" opacity="0.48"/><circle cx="230.3" cy="431.1" r="0.70" fill="#4a4488" opacity="0.52"/><circle cx="205.8" cy="479.2" r="0.62" fill="#4a4488" opacity="0.60"/><circle cx="199.8" cy="423.5" r="0.68" fill="#84407a" opacity="0.50"/><circle cx="199.8" cy="430.3" r="0.85" fill="#24407a" opacity="0.83"/><circle cx="262.3" cy="444.2" r="0.54" fill="#6a4080" opacity="0.80"/><circle cx="261.7" cy="448.3" r="0.81" fill="#84407a" opacity="0.76"/><circle cx="242.0" cy="439.0" r="0.83" fill="#30559a" opacity="0.81"/><circle cx="200.6" cy="439.2" r="0.48" fill="#84407a" opacity="0.59"/><circle cx="221.7" cy="485.1" r="0.61" fill="#4a4488" opacity="0.49"/><circle cx="267.7" cy="489.9" r="0.62" fill="#6a4080" opacity="0.84"/><circle cx="243.3" cy="470.5" r="0.66" fill="#30559a" opacity="0.62"/><circle cx="263.0" cy="462.1" r="0.82" fill="#6a4080" opacity="0.74"/><circle cx="201.6" cy="434.1" r="0.61" fill="#4a4488" opacity="0.46"/><circle cx="239.0" cy="468.5" r="0.73" fill="#24407a" opacity="0.88"/><circle cx="268.6" cy="463.6" r="0.99" fill="#84407a" opacity="0.50"/><circle cx="231.6" cy="466.1" r="0.75" fill="#84407a" opacity="0.85"/><circle cx="264.3" cy="468.4" r="0.90" fill="#84407a" opacity="0.89"/><circle cx="261.5" cy="420.9" r="0.97" fill="#24407a" opacity="0.57"/><circle cx="277.8" cy="447.2" r="0.94" fill="#30559a" opacity="0.73"/><circle cx="249.0" cy="425.9" r="0.96" fill="#24407a" opacity="0.63"/><circle cx="227.5" cy="433.9" r="0.86" fill="#24407a" opacity="0.86"/><circle cx="272.0" cy="456.4" r="0.73" fill="#84407a" opacity="0.76"/><circle cx="215.4" cy="486.3" r="0.80" fill="#4a4488" opacity="0.67"/><circle cx="258.7" cy="437.0" r="0.57" fill="#2a4a86" opacity="0.82"/><circle cx="205.2" cy="476.3" r="0.60" fill="#4a4488" opacity="0.81"/><circle cx="276.7" cy="432.1" r="0.99" fill="#30559a" opacity="0.53"/><circle cx="246.2" cy="475.0" r="0.49" fill="#2a4a86" opacity="0.70"/><circle cx="274.8" cy="474.9" r="0.81" fill="#2a4a86" opacity="0.54"/><circle cx="221.4" cy="436.9" r="0.49" fill="#4a4488" opacity="0.49"/><circle cx="211.7" cy="424.6" r="0.84" fill="#30559a" opacity="0.69"/><circle cx="219.1" cy="435.2" r="0.50" fill="#24407a" opacity="0.83"/><circle cx="239.2" cy="451.2" r="0.95" fill="#6a4080" opacity="0.73"/><circle cx="223.4" cy="486.1" r="0.46" fill="#30559a" opacity="0.58"/><circle cx="237.4" cy="480.4" r="0.97" fill="#4a4488" opacity="0.55"/><circle cx="226.8" cy="427.7" r="0.61" fill="#4a4488" opacity="0.84"/><circle cx="278.8" cy="434.9" r="0.45" fill="#84407a" opacity="0.85"/><circle cx="241.6" cy="472.6" r="0.82" fill="#24407a" opacity="0.64"/><circle cx="204.2" cy="469.1" r="0.71" fill="#84407a" opacity="0.49"/><circle cx="233.6" cy="448.4" r="0.52" fill="#2a4a86" opacity="0.46"/><circle cx="234.6" cy="437.2" r="0.67" fill="#4a4488" opacity="0.88"/><circle cx="231.1" cy="470.0" r="0.94" fill="#4a4488" opacity="0.57"/><circle cx="201.3" cy="472.9" r="0.85" fill="#30559a" opacity="0.85"/><circle cx="213.7" cy="467.8" r="0.80" fill="#2a4a86" opacity="0.80"/><circle cx="245.6" cy="487.0" r="0.84" fill="#6a4080" opacity="0.47"/><circle cx="247.5" cy="475.9" r="0.60" fill="#30559a" opacity="0.75"/><circle cx="234.8" cy="451.3" r="0.87" fill="#30559a" opacity="0.81"/><circle cx="239.8" cy="421.3" r="0.56" fill="#4a4488" opacity="0.47"/><circle cx="253.3" cy="476.2" r="0.81" fill="#24407a" opacity="0.68"/><circle cx="247.1" cy="489.9" r="0.98" fill="#4a4488" opacity="0.60"/><circle cx="267.8" cy="486.6" r="0.96" fill="#30559a" opacity="0.46"/><circle cx="234.0" cy="448.1" r="0.90" fill="#84407a" opacity="0.88"/><circle cx="208.9" cy="457.3" r="0.78" fill="#84407a" opacity="0.68"/><circle cx="211.4" cy="466.4" r="0.48" fill="#84407a" opacity="0.50"/><circle cx="249.7" cy="429.1" r="0.82" fill="#24407a" opacity="0.54"/><circle cx="267.0" cy="427.3" r="0.87" fill="#6a4080" opacity="0.79"/><circle cx="211.4" cy="474.4" r="0.55" fill="#2a4a86" opacity="0.69"/><circle cx="208.4" cy="443.3" r="0.75" fill="#4a4488" opacity="0.87"/><circle cx="219.7" cy="481.1" r="0.64" fill="#6a4080" opacity="0.51"/><circle cx="275.5" cy="451.2" r="0.58" fill="#6a4080" opacity="0.90"/><circle cx="204.0" cy="450.6" r="0.81" fill="#24407a" opacity="0.68"/><circle cx="226.0" cy="438.2" r="0.46" fill="#84407a" opacity="0.69"/><circle cx="199.2" cy="471.1" r="0.78" fill="#6a4080" opacity="0.73"/><circle cx="210.6" cy="438.1" r="0.79" fill="#30559a" opacity="0.65"/><circle cx="251.2" cy="486.9" r="0.73" fill="#6a4080" opacity="0.54"/><circle cx="250.7" cy="430.3" r="0.53" fill="#84407a" opacity="0.55"/><circle cx="260.2" cy="465.1" r="0.61" fill="#24407a" opacity="0.55"/><circle cx="276.2" cy="452.5" r="0.54" fill="#84407a" opacity="0.60"/><circle cx="250.6" cy="476.6" r="0.62" fill="#84407a" opacity="0.72"/><circle cx="269.9" cy="423.4" r="0.68" fill="#30559a" opacity="0.76"/><circle cx="273.3" cy="473.1" r="0.75" fill="#24407a" opacity="0.76"/><circle cx="262.1" cy="483.4" r="0.77" fill="#24407a" opacity="0.61"/><circle cx="279.4" cy="438.0" r="0.83" fill="#84407a" opacity="0.68"/><circle cx="214.1" cy="475.9" r="0.55" fill="#4a4488" opacity="0.49"/><circle cx="227.5" cy="490.1" r="0.56" fill="#2a4a86" opacity="0.80"/><circle cx="270.3" cy="478.8" r="0.89" fill="#6a4080" opacity="0.82"/><circle cx="253.4" cy="438.6" r="0.63" fill="#4a4488" opacity="0.89"/><circle cx="245.6" cy="483.9" r="0.73" fill="#24407a" opacity="0.49"/><circle cx="234.8" cy="456.5" r="0.85" fill="#2a4a86" opacity="0.87"/><circle cx="258.4" cy="475.4" r="0.74" fill="#84407a" opacity="0.65"/><circle cx="256.8" cy="457.2" r="0.78" fill="#84407a" opacity="0.49"/><circle cx="273.5" cy="489.0" r="0.48" fill="#84407a" opacity="0.74"/><circle cx="203.9" cy="429.1" r="0.49" fill="#30559a" opacity="0.86"/><circle cx="249.7" cy="485.9" r="0.57" fill="#84407a" opacity="0.77"/><circle cx="235.0" cy="438.3" r="0.94" fill="#4a4488" opacity="0.55"/><circle cx="272.9" cy="449.3" r="0.64" fill="#30559a" opacity="0.70"/><circle cx="210.3" cy="430.5" r="0.51" fill="#84407a" opacity="0.88"/><circle cx="275.5" cy="435.2" r="0.84" fill="#2a4a86" opacity="0.63"/><circle cx="228.5" cy="485.1" r="0.84" fill="#30559a" opacity="0.75"/><circle cx="277.2" cy="473.7" r="0.45" fill="#2a4a86" opacity="0.74"/><circle cx="246.6" cy="449.2" r="0.90" fill="#4a4488" opacity="0.71"/><circle cx="216.8" cy="439.3" r="0.94" fill="#30559a" opacity="0.81"/><circle cx="269.5" cy="480.3" r="0.76" fill="#84407a" opacity="0.62"/><circle cx="214.4" cy="426.3" r="0.79" fill="#4a4488" opacity="0.79"/><circle cx="199.4" cy="434.4" r="0.64" fill="#84407a" opacity="0.49"/><circle cx="229.2" cy="450.9" r="0.58" fill="#2a4a86" opacity="0.62"/><circle cx="276.2" cy="460.8" r="0.64" fill="#30559a" opacity="0.83"/><circle cx="264.4" cy="462.5" r="0.78" fill="#30559a" opacity="0.78"/><circle cx="267.7" cy="484.2" r="0.84" fill="#30559a" opacity="0.88"/><circle cx="226.0" cy="457.2" r="0.68" fill="#30559a" opacity="0.61"/><circle cx="266.6" cy="463.5" r="1.00" fill="#6a4080" opacity="0.46"/><circle cx="242.7" cy="438.5" r="0.93" fill="#4a4488" opacity="0.62"/><circle cx="256.5" cy="475.8" r="0.58" fill="#6a4080" opacity="0.77"/><circle cx="253.3" cy="470.3" r="0.85" fill="#2a4a86" opacity="0.82"/><circle cx="215.0" cy="434.6" r="0.66" fill="#84407a" opacity="0.90"/><circle cx="249.9" cy="448.5" r="0.80" fill="#6a4080" opacity="0.53"/><circle cx="264.5" cy="480.4" r="0.51" fill="#6a4080" opacity="0.69"/><circle cx="237.2" cy="462.1" r="0.53" fill="#24407a" opacity="0.79"/><circle cx="200.9" cy="440.2" r="0.96" fill="#84407a" opacity="0.60"/><circle cx="253.8" cy="484.1" r="0.79" fill="#6a4080" opacity="0.72"/><circle cx="208.7" cy="481.5" r="0.77" fill="#6a4080" opacity="0.63"/><circle cx="221.0" cy="478.8" r="0.72" fill="#24407a" opacity="0.50"/><circle cx="212.0" cy="455.2" r="0.95" fill="#6a4080" opacity="0.84"/><circle cx="204.8" cy="450.7" r="0.57" fill="#24407a" opacity="0.50"/><circle cx="262.6" cy="486.3" r="0.46" fill="#2a4a86" opacity="0.71"/><circle cx="275.0" cy="438.7" r="0.61" fill="#30559a" opacity="0.56"/><circle cx="254.1" cy="475.3" r="0.48" fill="#2a4a86" opacity="0.60"/><circle cx="206.9" cy="475.2" r="0.97" fill="#4a4488" opacity="0.70"/><circle cx="272.8" cy="432.6" r="0.58" fill="#4a4488" opacity="0.67"/><circle cx="238.0" cy="446.4" r="0.59" fill="#4a4488" opacity="0.87"/><circle cx="215.7" cy="446.3" r="0.85" fill="#4a4488" opacity="0.74"/><circle cx="238.8" cy="470.9" r="0.49" fill="#2a4a86" opacity="0.77"/><circle cx="275.3" cy="424.4" r="0.93" fill="#2a4a86" opacity="0.46"/><circle cx="198.6" cy="467.0" r="0.48" fill="#30559a" opacity="0.81"/><circle cx="200.2" cy="455.9" r="0.98" fill="#24407a" opacity="0.57"/><circle cx="263.5" cy="428.4" r="0.79" fill="#6a4080" opacity="0.64"/><circle cx="215.3" cy="475.0" r="0.73" fill="#30559a" opacity="0.60"/><circle cx="223.6" cy="452.7" r="0.99" fill="#30559a" opacity="0.58"/></g>
<g filter="url(#b1)">
<path d="M212.0,439.8 Q214.1,442.0 214.5,445.8" fill="none" stroke="#c8407a" stroke-width="1.7" stroke-linecap="round" stroke-linejoin="round" opacity="0.85"/>
<path d="M228.5,449.8 Q231.1,452.0 232.0,455.8" fill="none" stroke="#c8407a" stroke-width="1.2" stroke-linecap="round" stroke-linejoin="round" opacity="0.85"/>
<path d="M222.5,461.3 Q227.3,459.8 230.5,459.8" fill="none" stroke="#c8407a" stroke-width="1.4" stroke-linecap="round" stroke-linejoin="round" opacity="0.85"/>
<path d="M227.5,424.8 Q229.8,425.0 230.5,426.8" fill="none" stroke="#c8407a" stroke-width="1.2" stroke-linecap="round" stroke-linejoin="round" opacity="0.85"/>
<path d="M258.0,434.8 Q259.8,435.8 260.0,438.3" fill="none" stroke="#c8407a" stroke-width="1.0" stroke-linecap="round" stroke-linejoin="round" opacity="0.85"/>
<path d="M268.5,450.8 Q270.1,451.8 270.0,454.3" fill="none" stroke="#c8407a" stroke-width="0.9" stroke-linecap="round" stroke-linejoin="round" opacity="0.85"/>
<path d="M263.5,440.8 Q265.8,441.0 266.5,442.8" fill="none" stroke="#c8407a" stroke-width="1.0" stroke-linecap="round" stroke-linejoin="round" opacity="0.85"/>
<path d="M209.5,465.8 Q211.3,465.8 211.5,467.3" fill="none" stroke="#c8407a" stroke-width="0.9" stroke-linecap="round" stroke-linejoin="round" opacity="0.85"/>
<path d="M241.5,442.8 Q243.3,443.2 243.5,445.3" fill="none" stroke="#c8407a" stroke-width="0.8" stroke-linecap="round" stroke-linejoin="round" opacity="0.85"/>
<path d="M275.5,463.8 Q277.1,464.5 277.0,466.8" fill="none" stroke="#c8407a" stroke-width="0.8" stroke-linecap="round" stroke-linejoin="round" opacity="0.85"/>
<path d="M219.5,451.8 Q221.3,452.5 221.5,454.8" fill="none" stroke="#c8407a" stroke-width="0.8" stroke-linecap="round" stroke-linejoin="round" opacity="0.85"/>
<path d="M247.5,453.8 Q249.8,453.5 250.5,454.8" fill="none" stroke="#c8407a" stroke-width="0.8" stroke-linecap="round" stroke-linejoin="round" opacity="0.85"/>
<path d="M275.5,438.8 Q277.3,439.5 277.5,441.8" fill="none" stroke="#c8407a" stroke-width="0.9" stroke-linecap="round" stroke-linejoin="round" opacity="0.85"/>
</g>
<g filter="url(#b1)"><circle cx="252.3" cy="470.6" r="0.74" fill="#1f5fc8" opacity="0.68"/><circle cx="275.5" cy="469.6" r="0.74" fill="#1f5fc8" opacity="0.93"/><circle cx="266.6" cy="474.7" r="0.70" fill="#2a70e0" opacity="0.78"/><circle cx="252.6" cy="471.6" r="0.79" fill="#1f5fc8" opacity="0.80"/><circle cx="250.0" cy="476.9" r="0.74" fill="#1f5fc8" opacity="0.59"/><circle cx="253.1" cy="477.2" r="0.86" fill="#1f5fc8" opacity="0.59"/><circle cx="253.7" cy="468.5" r="0.73" fill="#2a50b0" opacity="0.93"/><circle cx="256.5" cy="475.3" r="0.65" fill="#1f5fc8" opacity="0.67"/><circle cx="240.3" cy="468.2" r="1.19" fill="#2a50b0" opacity="0.97"/><circle cx="262.2" cy="475.4" r="1.18" fill="#2a70e0" opacity="0.65"/><circle cx="240.0" cy="474.2" r="1.06" fill="#1c48a0" opacity="0.56"/><circle cx="252.6" cy="473.2" r="0.98" fill="#2a50b0" opacity="0.89"/><circle cx="245.9" cy="474.3" r="0.90" fill="#1c48a0" opacity="0.58"/><circle cx="240.7" cy="474.2" r="0.66" fill="#2a50b0" opacity="0.79"/><circle cx="258.0" cy="473.7" r="0.81" fill="#1c48a0" opacity="0.81"/><circle cx="257.4" cy="474.7" r="1.06" fill="#1f5fc8" opacity="0.87"/><circle cx="251.1" cy="478.0" r="0.88" fill="#1c48a0" opacity="0.99"/><circle cx="260.7" cy="477.1" r="0.74" fill="#2a70e0" opacity="0.90"/><circle cx="253.8" cy="474.3" r="0.62" fill="#2a70e0" opacity="0.85"/><circle cx="252.6" cy="465.0" r="0.95" fill="#1c48a0" opacity="0.77"/><circle cx="249.1" cy="479.4" r="0.66" fill="#1c48a0" opacity="0.68"/><circle cx="249.3" cy="476.8" r="0.71" fill="#1c48a0" opacity="0.58"/><circle cx="254.1" cy="473.5" r="0.65" fill="#1f5fc8" opacity="0.78"/><circle cx="245.6" cy="468.3" r="0.70" fill="#1c48a0" opacity="0.68"/><circle cx="256.2" cy="470.5" r="1.09" fill="#1c48a0" opacity="0.64"/><circle cx="253.7" cy="470.3" r="0.75" fill="#1f5fc8" opacity="0.94"/><circle cx="244.1" cy="479.6" r="1.07" fill="#2a50b0" opacity="0.89"/><circle cx="257.9" cy="473.3" r="1.05" fill="#1c48a0" opacity="0.78"/><circle cx="239.9" cy="477.1" r="0.83" fill="#2a50b0" opacity="0.97"/><circle cx="250.0" cy="474.8" r="0.68" fill="#1f5fc8" opacity="0.65"/><circle cx="254.6" cy="469.3" r="0.96" fill="#1f5fc8" opacity="0.79"/><circle cx="260.7" cy="466.9" r="0.67" fill="#2a70e0" opacity="0.67"/><circle cx="259.6" cy="480.4" r="0.64" fill="#1c48a0" opacity="0.59"/><circle cx="249.7" cy="472.1" r="0.87" fill="#1f5fc8" opacity="0.57"/><circle cx="250.5" cy="471.5" r="0.84" fill="#1f5fc8" opacity="0.74"/><circle cx="255.4" cy="475.3" r="0.68" fill="#2a50b0" opacity="0.92"/><circle cx="259.0" cy="471.5" r="1.09" fill="#1f5fc8" opacity="0.58"/><circle cx="231.7" cy="470.3" r="0.83" fill="#1f5fc8" opacity="0.63"/><circle cx="242.4" cy="473.8" r="1.06" fill="#2a50b0" opacity="0.70"/><circle cx="251.5" cy="477.0" r="0.86" fill="#1c48a0" opacity="0.88"/><circle cx="258.4" cy="469.2" r="0.84" fill="#1f5fc8" opacity="0.65"/><circle cx="234.8" cy="466.6" r="0.78" fill="#2a50b0" opacity="0.70"/><circle cx="247.9" cy="471.7" r="0.90" fill="#2a70e0" opacity="0.66"/><circle cx="254.9" cy="466.1" r="0.81" fill="#2a70e0" opacity="0.92"/><circle cx="243.5" cy="472.7" r="0.78" fill="#2a70e0" opacity="0.86"/><circle cx="257.7" cy="475.7" r="0.64" fill="#2a50b0" opacity="0.63"/><circle cx="255.9" cy="473.5" r="0.85" fill="#1c48a0" opacity="0.86"/><circle cx="258.9" cy="469.3" r="1.01" fill="#2a50b0" opacity="0.76"/><circle cx="262.4" cy="469.9" r="0.83" fill="#1c48a0" opacity="0.83"/><circle cx="249.3" cy="481.6" r="0.78" fill="#2a50b0" opacity="0.75"/><circle cx="257.3" cy="469.8" r="0.61" fill="#1f5fc8" opacity="0.72"/><circle cx="255.7" cy="471.6" r="0.76" fill="#1f5fc8" opacity="0.71"/><circle cx="254.8" cy="476.1" r="1.14" fill="#2a70e0" opacity="0.57"/><circle cx="245.2" cy="471.9" r="1.17" fill="#2a50b0" opacity="0.90"/><circle cx="254.3" cy="475.5" r="1.02" fill="#1c48a0" opacity="0.81"/><circle cx="243.6" cy="473.1" r="0.72" fill="#1f5fc8" opacity="0.97"/><circle cx="253.3" cy="472.7" r="1.20" fill="#1f5fc8" opacity="0.59"/><circle cx="256.2" cy="474.4" r="0.88" fill="#1c48a0" opacity="0.79"/><circle cx="255.9" cy="470.5" r="0.91" fill="#1f5fc8" opacity="0.85"/><circle cx="254.9" cy="465.7" r="1.03" fill="#2a70e0" opacity="0.92"/></g>
<g filter="url(#bs)">
<ellipse cx="254.5" cy="474.0" rx="2.6" ry="2" fill="none" stroke="#e04888" stroke-width="1.1"/>
<path d="M245.5,469.3 L250.0,474.8" fill="none" stroke="#e04888" stroke-width="1.2" stroke-linecap="round" stroke-linejoin="round" opacity="0.9"/>
</g>
</g>
<line x1="97.00" y1="488.40" x2="109.50" y2="488.40" stroke="#eeeeee" stroke-width="1.3"/>
<line x1="181.30" y1="488.40" x2="193.80" y2="488.40" stroke="#eeeeee" stroke-width="1.3"/>
<line x1="267.50" y1="488.40" x2="280.00" y2="488.40" stroke="#eeeeee" stroke-width="1.3"/>
<text x="313.00" y="379.40" font-size="17" font-weight="bold" fill="#000" stroke="#000" stroke-width="0.25">G</text>
<line x1="354.60" y1="386.50" x2="354.60" y2="508.70" stroke="#231815" stroke-width="1.5"/>
<line x1="353.90" y1="508.00" x2="437.50" y2="508.00" stroke="#231815" stroke-width="1.5"/>
<text x="351.40" y="510.20" font-size="7.8" text-anchor="end" fill="#2a2220" stroke="#2a2220" stroke-width="0.22">0</text>
<line x1="354.60" y1="477.65" x2="357.60" y2="477.65" stroke="#231815" stroke-width="1.1"/>
<text x="351.40" y="480.35" font-size="7.8" text-anchor="end" fill="#2a2220" stroke="#2a2220" stroke-width="0.22">100</text>
<line x1="354.60" y1="447.80" x2="357.60" y2="447.80" stroke="#231815" stroke-width="1.1"/>
<text x="351.40" y="450.50" font-size="7.8" text-anchor="end" fill="#2a2220" stroke="#2a2220" stroke-width="0.22">200</text>
<line x1="354.60" y1="417.95" x2="357.60" y2="417.95" stroke="#231815" stroke-width="1.1"/>
<text x="351.40" y="420.65" font-size="7.8" text-anchor="end" fill="#2a2220" stroke="#2a2220" stroke-width="0.22">300</text>
<line x1="354.60" y1="388.10" x2="357.60" y2="388.10" stroke="#231815" stroke-width="1.1"/>
<text x="351.40" y="390.80" font-size="7.8" text-anchor="end" fill="#2a2220" stroke="#2a2220" stroke-width="0.22">400</text>
<line x1="396.00" y1="508.00" x2="396.00" y2="505.20" stroke="#231815" stroke-width="1.1"/>
<line x1="437.00" y1="508.00" x2="437.00" y2="505.20" stroke="#231815" stroke-width="1.1"/>
<line x1="376.30" y1="430.00" x2="376.30" y2="432.20" stroke="#231815" stroke-width="0.8"/>
<line x1="373.30" y1="430.00" x2="379.30" y2="430.00" stroke="#231815" stroke-width="0.8"/>
<rect x="365.00" y="432.20" width="22.60" height="75.30" fill="#231815"/>
<line x1="416.40" y1="387.20" x2="416.40" y2="392.60" stroke="#231815" stroke-width="0.8"/>
<line x1="413.40" y1="387.20" x2="419.40" y2="387.20" stroke="#231815" stroke-width="0.8"/>
<rect x="404.80" y="392.60" width="23.20" height="114.90" fill="#e60012"/>
<text x="416.40" y="384.60" font-size="10.5" text-anchor="middle" fill="#757a7c" stroke="#757a7c" stroke-width="0.35">**</text>
<text x="336.00" y="449.00" font-size="9.6" text-anchor="middle" transform="rotate(-90 336.00 449.00)" textLength="118.50" lengthAdjust="spacingAndGlyphs" fill="#2a2220" stroke="#2a2220" stroke-width="0.22">Capillary density ( / mm<tspan font-size="6" dy="-3">2</tspan><tspan dy="3" font-size="1">&#8203;</tspan> )</text>
<rect x="437.50" y="437.40" width="5.8" height="5.8" fill="#231815"/>
<rect x="437.50" y="451.30" width="5.8" height="5.8" fill="#e60012"/>
<text x="447.00" y="443.70" font-size="9.9" fill="#2a2220" stroke="#2a2220" stroke-width="0.22" word-spacing="2.01">HL + BSA-PBS</text>
<text x="447.00" y="457.60" font-size="9.9" fill="#2a2220" stroke="#2a2220" stroke-width="0.22" word-spacing="1.61">HL + tPA</text>
<text x="-0.30" y="571.50" font-size="17" font-weight="bold" fill="#000" stroke="#000" stroke-width="0.25">H</text>
<text x="36.90" y="578.80" font-size="9.4" textLength="65.50" lengthAdjust="spacingAndGlyphs" fill="#2a2220" stroke="#2a2220" stroke-width="0.22">HL + BSA-PBS</text>
<text x="134.40" y="578.80" font-size="9.6" textLength="39.40" lengthAdjust="spacingAndGlyphs" fill="#2a2220" stroke="#2a2220" stroke-width="0.22">HL + tPA</text>
<text x="207.40" y="578.80" font-size="9.5" textLength="63.00" lengthAdjust="spacingAndGlyphs" fill="#2a2220" stroke="#2a2220" stroke-width="0.22">Isotype control</text>
<text x="24.60" y="612.50" font-size="9.6" text-anchor="middle" transform="rotate(-90 24.60 612.50)" textLength="38.50" lengthAdjust="spacingAndGlyphs" fill="#2a2220" stroke="#2a2220" stroke-width="0.22">VEGF-A</text>
<g clip-path="url(#c13)">
<rect x="26.80" y="582.50" width="84.00" height="59.50" fill="#251a17"/>
<ellipse cx="62.0" cy="589.5" rx="1.5" ry="2.1" fill="#2a72c0" opacity="0.95" transform="rotate(0 62.0 589.5)" filter="url(#b1)"/>
<ellipse cx="38.0" cy="610.5" rx="1.5" ry="2.1" fill="#2a72c0" opacity="0.95" transform="rotate(0 38.0 610.5)" filter="url(#b1)"/>
<ellipse cx="64.0" cy="606.8" rx="1.5" ry="2.1" fill="#2a72c0" opacity="0.95" transform="rotate(10 64.0 606.8)" filter="url(#b1)"/>
<ellipse cx="107.5" cy="627.5" rx="1.5" ry="2.1" fill="#2a72c0" opacity="0.95" transform="rotate(0 107.5 627.5)" filter="url(#b1)"/>
<ellipse cx="106.0" cy="588.0" rx="1.5" ry="2.1" fill="#2a72c0" opacity="0.95" transform="rotate(40 106.0 588.0)" filter="url(#b1)"/>
<ellipse cx="82.5" cy="611.0" rx="1.5" ry="2.1" fill="#2a72c0" opacity="0.95" transform="rotate(30 82.5 611.0)" filter="url(#b1)"/>
<ellipse cx="63.0" cy="632.0" rx="1.5" ry="2.1" fill="#2a72c0" opacity="0.95" transform="rotate(0 63.0 632.0)" filter="url(#b1)"/>
<ellipse cx="109.0" cy="586.0" rx="1.5" ry="2.1" fill="#2a72c0" opacity="0.95" transform="rotate(50 109.0 586.0)" filter="url(#b1)"/>
<ellipse cx="70.0" cy="609.0" rx="1.5" ry="2.1" fill="#2a72c0" opacity="0.95" transform="rotate(20 70.0 609.0)" filter="url(#b1)"/>
<ellipse cx="85.0" cy="614.0" rx="1.5" ry="2.1" fill="#2a72c0" opacity="0.95" transform="rotate(0 85.0 614.0)" filter="url(#b1)"/>
<g filter="url(#b1)"><polygon points="47.5,617.5 50,621 57,619.5 64.5,613.4 63,611.6 54,614.5" fill="#de2f3a"/><path d="M55,616.5 L62,613" stroke="#8a58b8" stroke-width="1.8" fill="none" opacity="0.8"/></g>
<path d="M66.64,624.64 L61.90,619.90" stroke="#fff" stroke-width="2.1" fill="none"/>
<polygon points="57.80,615.80 64.23,617.57 59.57,622.23" fill="#fff"/>
</g>
<g clip-path="url(#c14)">
<rect x="113.10" y="582.50" width="82.40" height="59.50" fill="#251a17"/>
<g filter="url(#b1)"><polygon points="118.6,583 121.8,583 122.6,591.5 128.6,603.8 126.6,604.8 120.2,592.5" fill="#b02636" opacity="0.9"/><polygon points="143.4,634 148.4,635 153.6,623 157.6,611.5 155.4,610.8 148.6,621.5" fill="#e8403a"/><path d="M149.4,613.2 L154.4,606" stroke="#4a50b0" stroke-width="2" fill="none" opacity="0.85"/><path d="M120.5,618.5 L125,614.5" stroke="#e0303a" stroke-width="2.4" fill="none"/><path d="M186,597 L195.5,592.5" stroke="#e0303a" stroke-width="1.8" fill="none"/><path d="M182.5,598.8 L189,595.6" stroke="#3a68c8" stroke-width="2.2" fill="none" opacity="0.9"/><path d="M178,618 L182,614" stroke="#c8303a" stroke-width="1.2" fill="none" opacity="0.8"/></g>
<ellipse cx="144.0" cy="603.0" rx="1.4" ry="2.2" fill="#2a72c0" opacity="0.95" transform="rotate(60 144.0 603.0)" filter="url(#b1)"/>
<ellipse cx="176.0" cy="623.0" rx="1.4" ry="2.2" fill="#2a72c0" opacity="0.95" transform="rotate(70 176.0 623.0)" filter="url(#b1)"/>
<ellipse cx="187.0" cy="626.0" rx="1.4" ry="2.2" fill="#2a72c0" opacity="0.95" transform="rotate(40 187.0 626.0)" filter="url(#b1)"/>
<ellipse cx="180.0" cy="616.0" rx="1.4" ry="2.2" fill="#2a72c0" opacity="0.95" transform="rotate(-30 180.0 616.0)" filter="url(#b1)"/>
<ellipse cx="137.0" cy="611.0" rx="1.4" ry="2.2" fill="#2a72c0" opacity="0.95" transform="rotate(0 137.0 611.0)" filter="url(#b1)"/>
<ellipse cx="125.0" cy="620.0" rx="1.4" ry="2.2" fill="#2a72c0" opacity="0.95" transform="rotate(0 125.0 620.0)" filter="url(#b1)"/>
<ellipse cx="165.0" cy="601.0" rx="1.4" ry="2.2" fill="#2a72c0" opacity="0.95" transform="rotate(0 165.0 601.0)" filter="url(#b1)"/>
<ellipse cx="172.0" cy="630.0" rx="1.4" ry="2.2" fill="#2a72c0" opacity="0.95" transform="rotate(60 172.0 630.0)" filter="url(#b1)"/>
<ellipse cx="160.0" cy="626.0" rx="1.4" ry="2.2" fill="#2a72c0" opacity="0.95" transform="rotate(0 160.0 626.0)" filter="url(#b1)"/>
<path d="M139.24,616.04 L134.50,611.30" stroke="#fff" stroke-width="2.1" fill="none"/>
<polygon points="130.40,607.20 136.83,608.97 132.17,613.63" fill="#fff"/>
<path d="M132.54,621.74 L127.80,617.00" stroke="#fff" stroke-width="2.1" fill="none"/>
<polygon points="123.70,612.90 130.13,614.67 125.47,619.33" fill="#fff"/>
<path d="M165.34,615.64 L160.60,610.90" stroke="#fff" stroke-width="2.1" fill="none"/>
<polygon points="156.50,606.80 162.93,608.57 158.27,613.23" fill="#fff"/>
<path d="M162.34,632.84 L157.60,628.10" stroke="#fff" stroke-width="2.1" fill="none"/>
<polygon points="153.50,624.00 159.93,625.77 155.27,630.43" fill="#fff"/>
<path d="M194.24,609.44 L189.50,604.70" stroke="#fff" stroke-width="2.1" fill="none"/>
<polygon points="185.40,600.60 191.83,602.37 187.17,607.03" fill="#fff"/>
</g>
<g clip-path="url(#c15)">
<rect x="197.50" y="582.50" width="83.30" height="59.50" fill="#251a17"/>
<ellipse cx="243.8" cy="592.5" rx="1.8" ry="2.6" fill="#266aae" opacity="0.95" transform="rotate(20 243.8 592.5)" filter="url(#b1)"/>
<ellipse cx="221.3" cy="602.0" rx="1.8" ry="2.6" fill="#266aae" opacity="0.95" transform="rotate(0 221.3 602.0)" filter="url(#b1)"/>
<ellipse cx="228.8" cy="610.0" rx="1.8" ry="2.6" fill="#266aae" opacity="0.95" transform="rotate(0 228.8 610.0)" filter="url(#b1)"/>
<ellipse cx="270.0" cy="598.8" rx="1.5" ry="3.6" fill="#266aae" opacity="0.95" transform="rotate(80 270.0 598.8)" filter="url(#b1)"/>
<ellipse cx="237.0" cy="625.0" rx="1.5" ry="4" fill="#266aae" opacity="0.95" transform="rotate(-15 237.0 625.0)" filter="url(#b1)"/>
<ellipse cx="215.0" cy="585.0" rx="1.4" ry="2" fill="#266aae" opacity="0.95" transform="rotate(0 215.0 585.0)" filter="url(#b1)"/>
<ellipse cx="280.0" cy="635.0" rx="1.4" ry="2" fill="#266aae" opacity="0.95" transform="rotate(0 280.0 635.0)" filter="url(#b1)"/>
<ellipse cx="243.0" cy="632.0" rx="1.2" ry="1.8" fill="#266aae" opacity="0.95" transform="rotate(0 243.0 632.0)" filter="url(#b1)"/>
<ellipse cx="237.0" cy="603.0" rx="1" ry="1.5" fill="#266aae" opacity="0.95" transform="rotate(60 237.0 603.0)" filter="url(#b1)"/>
<ellipse cx="216.0" cy="640.0" rx="1.2" ry="1.6" fill="#266aae" opacity="0.95" transform="rotate(0 216.0 640.0)" filter="url(#b1)"/>
</g>
<line x1="102.50" y1="639.40" x2="108.80" y2="639.40" stroke="#e8e8e8" stroke-width="1.5"/>
<line x1="187.00" y1="639.40" x2="193.20" y2="639.40" stroke="#e8e8e8" stroke-width="1.5"/>
<line x1="272.50" y1="639.40" x2="278.80" y2="639.40" stroke="#e8e8e8" stroke-width="1.5"/>
<text x="317.40" y="545.30" font-size="17" font-weight="bold" fill="#000" stroke="#000" stroke-width="0.25">I</text>
<line x1="354.60" y1="547.50" x2="354.60" y2="670.00" stroke="#231815" stroke-width="1.5"/>
<line x1="353.90" y1="669.30" x2="437.50" y2="669.30" stroke="#231815" stroke-width="1.5"/>
<text x="351.40" y="671.50" font-size="7.8" text-anchor="end" fill="#2a2220" stroke="#2a2220" stroke-width="0.22">0</text>
<line x1="354.60" y1="628.94" x2="357.60" y2="628.94" stroke="#231815" stroke-width="1.1"/>
<text x="351.40" y="631.64" font-size="7.8" text-anchor="end" fill="#2a2220" stroke="#2a2220" stroke-width="0.22">200</text>
<line x1="354.60" y1="589.08" x2="357.60" y2="589.08" stroke="#231815" stroke-width="1.1"/>
<text x="351.40" y="591.78" font-size="7.8" text-anchor="end" fill="#2a2220" stroke="#2a2220" stroke-width="0.22">400</text>
<line x1="354.60" y1="549.22" x2="357.60" y2="549.22" stroke="#231815" stroke-width="1.1"/>
<text x="351.40" y="551.92" font-size="7.8" text-anchor="end" fill="#2a2220" stroke="#2a2220" stroke-width="0.22">600</text>
<line x1="396.00" y1="669.30" x2="396.00" y2="666.50" stroke="#231815" stroke-width="1.1"/>
<line x1="437.00" y1="669.30" x2="437.00" y2="666.50" stroke="#231815" stroke-width="1.1"/>
<line x1="376.30" y1="614.60" x2="376.30" y2="624.60" stroke="#231815" stroke-width="0.8"/>
<line x1="373.30" y1="614.60" x2="379.30" y2="614.60" stroke="#231815" stroke-width="0.8"/>
<rect x="365.00" y="624.60" width="22.60" height="44.20" fill="#231815"/>
<line x1="416.40" y1="552.60" x2="416.40" y2="560.60" stroke="#231815" stroke-width="0.8"/>
<line x1="413.40" y1="552.60" x2="419.40" y2="552.60" stroke="#231815" stroke-width="0.8"/>
<rect x="404.80" y="560.60" width="23.20" height="108.20" fill="#e60012"/>
<text x="416.40" y="550.00" font-size="10.5" text-anchor="middle" fill="#757a7c" stroke="#757a7c" stroke-width="0.35">**</text>
<text x="336.00" y="607.00" font-size="9.6" text-anchor="middle" transform="rotate(-90 336.00 607.00)" textLength="99.50" lengthAdjust="spacingAndGlyphs" fill="#2a2220" stroke="#2a2220" stroke-width="0.22">VEGF<tspan font-size="7" dy="-3.4">+</tspan><tspan dy="3.4" font-size="1">&#8203;</tspan> cells ( / mm<tspan font-size="6" dy="-3">2</tspan><tspan dy="3" font-size="1">&#8203;</tspan> )</text>
<rect x="437.50" y="599.90" width="5.8" height="5.8" fill="#231815"/>
<rect x="437.50" y="613.90" width="5.8" height="5.8" fill="#e60012"/>
<text x="447.00" y="606.20" font-size="9.9" fill="#2a2220" stroke="#2a2220" stroke-width="0.22" word-spacing="2.01">HL + BSA-PBS</text>
<text x="447.00" y="620.20" font-size="9.9" fill="#2a2220" stroke="#2a2220" stroke-width="0.22" word-spacing="1.61">HL + tPA</text>
<text x="0.50" y="703.70" font-size="17" font-weight="bold" fill="#000" stroke="#000" stroke-width="0.25">J</text>
<text x="19.40" y="725.60" font-size="7.9" textLength="49.00" lengthAdjust="spacingAndGlyphs" fill="#4a4442" stroke="#4a4442" stroke-width="0.08">Non-ischemic</text>
<text x="71.90" y="725.60" font-size="8" textLength="56.00" lengthAdjust="spacingAndGlyphs" fill="#4a4442" stroke="#4a4442" stroke-width="0.08">HL + BSA-PBS</text>
<text x="138.20" y="725.60" font-size="9.9" textLength="39.80" lengthAdjust="spacingAndGlyphs" fill="#1a1412" stroke="#1a1412" stroke-width="0.32">HL + tPA</text>
<text x="11.50" y="756.20" font-size="7.9" text-anchor="middle" transform="rotate(-90 11.50 756.20)" textLength="33.50" lengthAdjust="spacingAndGlyphs" fill="#4a4442" stroke="#4a4442" stroke-width="0.08">VEGF-A</text>
<text x="11.50" y="807.50" font-size="7.9" text-anchor="middle" transform="rotate(-90 11.50 807.50)" textLength="36.50" lengthAdjust="spacingAndGlyphs" fill="#4a4442" stroke="#4a4442" stroke-width="0.08">VEGFR-1</text>
<text x="11.50" y="858.20" font-size="7.9" text-anchor="middle" transform="rotate(-90 11.50 858.20)" textLength="25.50" lengthAdjust="spacingAndGlyphs" fill="#4a4442" stroke="#4a4442" stroke-width="0.08">Merge</text>
<g clip-path="url(#c16)">
<rect x="15.00" y="731.30" width="55.80" height="49.80" fill="#251a17"/>
<g filter="url(#b1)">
<ellipse cx="22.4" cy="735.0" rx="1.5" ry="2.1" fill="#2a74c4" opacity="1" transform="rotate(10 22.4 735.0)"/>
<ellipse cx="16.6" cy="751.0" rx="1.5" ry="2.1" fill="#2a74c4" opacity="1" transform="rotate(19 16.6 751.0)"/>
<ellipse cx="29.3" cy="745.3" rx="1.5" ry="2.1" fill="#2a74c4" opacity="0.9" transform="rotate(24 29.3 745.3)"/>
<ellipse cx="32.8" cy="747.6" rx="1.5" ry="2.1" fill="#2a74c4" opacity="0.8" transform="rotate(35 32.8 747.6)"/>
<ellipse cx="42.0" cy="750.0" rx="1.5" ry="2.1" fill="#2a74c4" opacity="1" transform="rotate(19 42.0 750.0)"/>
<ellipse cx="29.3" cy="763.8" rx="1.5" ry="2.1" fill="#2a74c4" opacity="1" transform="rotate(34 29.3 763.8)"/>
<ellipse cx="40.8" cy="762.6" rx="1.5" ry="2.1" fill="#2a74c4" opacity="0.9" transform="rotate(-38 40.8 762.6)"/>
<ellipse cx="31.6" cy="770.7" rx="1.5" ry="2.1" fill="#2a74c4" opacity="1" transform="rotate(-3 31.6 770.7)"/>
<ellipse cx="32.8" cy="774.0" rx="1.5" ry="2.1" fill="#2a74c4" opacity="0.8" transform="rotate(35 32.8 774.0)"/>
<ellipse cx="67.4" cy="738.4" rx="1.5" ry="2.1" fill="#2a74c4" opacity="0.9" transform="rotate(12 67.4 738.4)"/>
<ellipse cx="67.4" cy="745.3" rx="1.5" ry="2.1" fill="#2a74c4" opacity="0.7" transform="rotate(32 67.4 745.3)"/>
<ellipse cx="66.2" cy="762.6" rx="1.5" ry="2.1" fill="#2a74c4" opacity="0.8" transform="rotate(-31 66.2 762.6)"/>
<ellipse cx="58.2" cy="773.0" rx="1.5" ry="2.1" fill="#2a74c4" opacity="0.9" transform="rotate(-2 58.2 773.0)"/>
<ellipse cx="55.8" cy="776.5" rx="1.5" ry="2.1" fill="#2a74c4" opacity="0.8" transform="rotate(-20 55.8 776.5)"/>
<ellipse cx="60.5" cy="741.8" rx="1.5" ry="2.1" fill="#2a74c4" opacity="0.5" transform="rotate(4 60.5 741.8)"/>
<ellipse cx="23.5" cy="780.0" rx="1.5" ry="2.1" fill="#2a74c4" opacity="0.8" transform="rotate(6 23.5 780.0)"/>
<ellipse cx="47.0" cy="757.0" rx="1.5" ry="2.1" fill="#2a74c4" opacity="0.4" transform="rotate(-39 47.0 757.0)"/>
<ellipse cx="20.0" cy="742.0" rx="1.5" ry="2.1" fill="#2a74c4" opacity="0.5" transform="rotate(-23 20.0 742.0)"/>
</g>
</g>
<g clip-path="url(#c17)">
<rect x="72.50" y="731.30" width="55.80" height="49.80" fill="#251a17"/>
<g filter="url(#b1)">
<ellipse cx="105.5" cy="737.2" rx="1.5" ry="2.1" fill="#2a74c4" opacity="1" transform="rotate(23 105.5 737.2)"/>
<ellipse cx="81.2" cy="742.3" rx="1.5" ry="2.1" fill="#2a74c4" opacity="0.9" transform="rotate(26 81.2 742.3)"/>
<ellipse cx="84.7" cy="747.6" rx="1.5" ry="2.1" fill="#2a74c4" opacity="0.8" transform="rotate(-1 84.7 747.6)"/>
<ellipse cx="100.8" cy="751.0" rx="1.5" ry="2.1" fill="#2a74c4" opacity="1" transform="rotate(-19 100.8 751.0)"/>
<ellipse cx="99.7" cy="755.7" rx="1.5" ry="2.1" fill="#2a74c4" opacity="0.8" transform="rotate(-40 99.7 755.7)"/>
<ellipse cx="125.0" cy="743.0" rx="1.5" ry="2.1" fill="#2a74c4" opacity="0.9" transform="rotate(13 125.0 743.0)"/>
<ellipse cx="104.3" cy="762.6" rx="1.5" ry="2.1" fill="#2a74c4" opacity="0.5" transform="rotate(-2 104.3 762.6)"/>
<ellipse cx="81.2" cy="766.0" rx="1.5" ry="2.1" fill="#2a74c4" opacity="0.9" transform="rotate(21 81.2 766.0)"/>
<ellipse cx="85.8" cy="769.5" rx="1.5" ry="2.1" fill="#2a74c4" opacity="0.9" transform="rotate(-10 85.8 769.5)"/>
<ellipse cx="124.0" cy="737.0" rx="1.5" ry="2.1" fill="#2a74c4" opacity="0.7" transform="rotate(22 124.0 737.0)"/>
<ellipse cx="127.0" cy="765.0" rx="1.5" ry="2.1" fill="#2a74c4" opacity="0.6" transform="rotate(-18 127.0 765.0)"/>
</g>
<g filter="url(#bs)">
<path d="M100.8,756.8 C101.5,760.0 103,762.0 104.6,763.0 L110,766.6" fill="none" stroke="#8a3a44" stroke-width="0.9" stroke-linecap="round" stroke-linejoin="round" opacity="0.7"/>
<path d="M110,766.6 L113.8,768.6" fill="none" stroke="#d2452f" stroke-width="1.5" stroke-linecap="round" stroke-linejoin="round"/>
</g>
<path d="M106.67,777.66 L109.46,773.52" stroke="#fff" stroke-width="1.5" fill="none"/>
<polygon points="111.70,770.20 111.29,774.75 107.64,772.29" fill="#fff"/>
</g>
<g clip-path="url(#c18)">
<rect x="130.40" y="731.30" width="55.70" height="49.80" fill="#251a17"/>
<g filter="url(#b1)">
<ellipse cx="131.6" cy="736.3" rx="1.3" ry="2.4" fill="#2468b0" opacity="0.8" transform="rotate(30 131.6 736.3)"/>
<ellipse cx="138.7" cy="735.0" rx="1.3" ry="2.4" fill="#2468b0" opacity="0.8" transform="rotate(60 138.7 735.0)"/>
<ellipse cx="141.5" cy="738.0" rx="1.3" ry="2.4" fill="#2468b0" opacity="0.8" transform="rotate(50 141.5 738.0)"/>
<ellipse cx="146.0" cy="754.0" rx="1.3" ry="2.4" fill="#2468b0" opacity="0.8" transform="rotate(20 146.0 754.0)"/>
<ellipse cx="148.0" cy="756.5" rx="1.3" ry="2.4" fill="#2468b0" opacity="0.8" transform="rotate(-20 148.0 756.5)"/>
<ellipse cx="185.4" cy="743.5" rx="1.3" ry="2.4" fill="#2468b0" opacity="0.8" transform="rotate(0 185.4 743.5)"/>
<ellipse cx="185.0" cy="770.0" rx="1.3" ry="2.4" fill="#2468b0" opacity="0.8" transform="rotate(0 185.0 770.0)"/>
<ellipse cx="144.0" cy="742.0" rx="1.3" ry="2.4" fill="#2468b0" opacity="0.8" transform="rotate(40 144.0 742.0)"/>
</g>
<g filter="url(#bs)">
<path d="M176,759.6 C171,761.0 168,762.4 163.8,764.0 C160,766.0 157,768.6 155.4,769.8 L149.5,775.0 C146,776.2 143,776.0 141,775.0 C138,773.5 136,771.5 135,769.6 C133.6,767.0 133,765.5 132.9,763.6" fill="none" stroke="#d23444" stroke-width="1.7" stroke-linecap="round" stroke-linejoin="round"/>
<path d="M187,747.4 C184.5,749.5 182.5,752.5 180.5,755.0 C179,757.0 177.5,758.6 175.6,759.8" fill="none" stroke="#e03a3c" stroke-width="3.6" stroke-linecap="round" stroke-linejoin="round"/>
<path d="M133.4,762.6 L138.6,760.8" fill="none" stroke="#e03a3c" stroke-width="2.6" stroke-linecap="round" stroke-linejoin="round"/>
<path d="M141,775.0 L150,774.6" fill="none" stroke="#a04a9a" stroke-width="1.9" stroke-linecap="round" stroke-linejoin="round"/>
<path d="M147,740.0 Q149,739.0 151,741.5" fill="none" stroke="#b8506a" stroke-width="1.5" stroke-linecap="round" stroke-linejoin="round"/>
<path d="M131,737.5 L133.5,735.5" fill="none" stroke="#c85a8a" stroke-width="1.6" stroke-linecap="round" stroke-linejoin="round"/>
<path d="M163.5,734.0 L164.5,735.0" fill="none" stroke="#c0404a" stroke-width="1.4" stroke-linecap="round" stroke-linejoin="round"/>
</g>
<path d="M176.70,741.61 L178.06,745.80" stroke="#fff" stroke-width="1.5" fill="none"/>
<polygon points="179.30,749.60 175.97,746.48 180.16,745.12" fill="#fff"/>
<path d="M164.70,751.21 L166.06,755.40" stroke="#fff" stroke-width="1.5" fill="none"/>
<polygon points="167.30,759.20 163.97,756.08 168.16,754.72" fill="#fff"/>
<path d="M152.20,759.41 L153.56,763.60" stroke="#fff" stroke-width="1.5" fill="none"/>
<polygon points="154.80,767.40 151.47,764.28 155.66,762.92" fill="#fff"/>
<path d="M143.90,764.61 L145.26,768.80" stroke="#fff" stroke-width="1.5" fill="none"/>
<polygon points="146.50,772.60 143.17,769.48 147.36,768.12" fill="#fff"/>
<path d="M136.70,764.21 L138.06,768.40" stroke="#fff" stroke-width="1.5" fill="none"/>
<polygon points="139.30,772.20 135.97,769.08 140.16,767.72" fill="#fff"/>
<path d="M136.03,779.11 L134.51,775.84" stroke="#fff" stroke-width="1.4" fill="none"/>
<polygon points="132.90,772.40 136.41,774.96 132.60,776.73" fill="#fff"/>
</g>
<line x1="64.50" y1="779.10" x2="68.80" y2="779.10" stroke="#d0d0d0" stroke-width="1.1"/>
<line x1="122.00" y1="779.10" x2="126.30" y2="779.10" stroke="#d0d0d0" stroke-width="1.1"/>
<line x1="179.80" y1="779.10" x2="184.10" y2="779.10" stroke="#d0d0d0" stroke-width="1.1"/>
<g clip-path="url(#c19)">
<rect x="15.00" y="783.00" width="55.80" height="49.00" fill="#251a17"/>
<g filter="url(#b1)">
<ellipse cx="22.4" cy="786.7" rx="1.5" ry="2.1" fill="#2a74c4" opacity="1" transform="rotate(10 22.4 786.7)"/>
<ellipse cx="16.6" cy="802.7" rx="1.5" ry="2.1" fill="#2a74c4" opacity="1" transform="rotate(19 16.6 802.7)"/>
<ellipse cx="29.3" cy="797.0" rx="1.5" ry="2.1" fill="#2a74c4" opacity="0.9" transform="rotate(24 29.3 797.0)"/>
<ellipse cx="32.8" cy="799.3" rx="1.5" ry="2.1" fill="#2a74c4" opacity="0.8" transform="rotate(35 32.8 799.3)"/>
<ellipse cx="42.0" cy="801.7" rx="1.5" ry="2.1" fill="#2a74c4" opacity="1" transform="rotate(19 42.0 801.7)"/>
<ellipse cx="29.3" cy="815.5" rx="1.5" ry="2.1" fill="#2a74c4" opacity="1" transform="rotate(34 29.3 815.5)"/>
<ellipse cx="40.8" cy="814.3" rx="1.5" ry="2.1" fill="#2a74c4" opacity="0.9" transform="rotate(-38 40.8 814.3)"/>
<ellipse cx="31.6" cy="822.4" rx="1.5" ry="2.1" fill="#2a74c4" opacity="1" transform="rotate(-3 31.6 822.4)"/>
<ellipse cx="32.8" cy="825.7" rx="1.5" ry="2.1" fill="#2a74c4" opacity="0.8" transform="rotate(35 32.8 825.7)"/>
<ellipse cx="67.4" cy="790.1" rx="1.5" ry="2.1" fill="#2a74c4" opacity="0.9" transform="rotate(12 67.4 790.1)"/>
<ellipse cx="67.4" cy="797.0" rx="1.5" ry="2.1" fill="#2a74c4" opacity="0.7" transform="rotate(32 67.4 797.0)"/>
<ellipse cx="66.2" cy="814.3" rx="1.5" ry="2.1" fill="#2a74c4" opacity="0.8" transform="rotate(-31 66.2 814.3)"/>
<ellipse cx="58.2" cy="824.7" rx="1.5" ry="2.1" fill="#2a74c4" opacity="0.9" transform="rotate(-2 58.2 824.7)"/>
<ellipse cx="55.8" cy="828.2" rx="1.5" ry="2.1" fill="#2a74c4" opacity="0.8" transform="rotate(-20 55.8 828.2)"/>
<ellipse cx="60.5" cy="793.5" rx="1.5" ry="2.1" fill="#2a74c4" opacity="0.5" transform="rotate(4 60.5 793.5)"/>
<ellipse cx="23.5" cy="831.7" rx="1.5" ry="2.1" fill="#2a74c4" opacity="0.8" transform="rotate(6 23.5 831.7)"/>
<ellipse cx="47.0" cy="808.7" rx="1.5" ry="2.1" fill="#2a74c4" opacity="0.4" transform="rotate(-39 47.0 808.7)"/>
<ellipse cx="20.0" cy="793.7" rx="1.5" ry="2.1" fill="#2a74c4" opacity="0.5" transform="rotate(-23 20.0 793.7)"/>
</g>
</g>
<g clip-path="url(#c20)">
<rect x="72.50" y="783.00" width="55.80" height="49.00" fill="#251a17"/>
<g filter="url(#b1)">
<ellipse cx="105.5" cy="788.9" rx="1.5" ry="2.1" fill="#2a74c4" opacity="1" transform="rotate(23 105.5 788.9)"/>
<ellipse cx="81.2" cy="794.0" rx="1.5" ry="2.1" fill="#2a74c4" opacity="0.9" transform="rotate(26 81.2 794.0)"/>
<ellipse cx="84.7" cy="799.3" rx="1.5" ry="2.1" fill="#2a74c4" opacity="0.8" transform="rotate(-1 84.7 799.3)"/>
<ellipse cx="100.8" cy="802.7" rx="1.5" ry="2.1" fill="#2a74c4" opacity="1" transform="rotate(-19 100.8 802.7)"/>
<ellipse cx="99.7" cy="807.4" rx="1.5" ry="2.1" fill="#2a74c4" opacity="0.8" transform="rotate(-40 99.7 807.4)"/>
<ellipse cx="125.0" cy="794.7" rx="1.5" ry="2.1" fill="#2a74c4" opacity="0.9" transform="rotate(13 125.0 794.7)"/>
<ellipse cx="104.3" cy="814.3" rx="1.5" ry="2.1" fill="#2a74c4" opacity="0.5" transform="rotate(-2 104.3 814.3)"/>
<ellipse cx="81.2" cy="817.7" rx="1.5" ry="2.1" fill="#2a74c4" opacity="0.9" transform="rotate(21 81.2 817.7)"/>
<ellipse cx="85.8" cy="821.2" rx="1.5" ry="2.1" fill="#2a74c4" opacity="0.9" transform="rotate(-10 85.8 821.2)"/>
<ellipse cx="124.0" cy="788.7" rx="1.5" ry="2.1" fill="#2a74c4" opacity="0.7" transform="rotate(22 124.0 788.7)"/>
<ellipse cx="127.0" cy="816.7" rx="1.5" ry="2.1" fill="#2a74c4" opacity="0.6" transform="rotate(-18 127.0 816.7)"/>
</g>
<g filter="url(#bs)">
<path d="M100.8,808.5 C101.5,811.7 103,813.7 104.6,814.7 L110,818.3000000000001" fill="none" stroke="#2f8f5a" stroke-width="0.9" stroke-linecap="round" stroke-linejoin="round" opacity="0.7"/>
<path d="M110,818.3000000000001 L113.8,820.3000000000001" fill="none" stroke="#46c23c" stroke-width="1.5" stroke-linecap="round" stroke-linejoin="round"/>
</g>
<path d="M106.67,829.36 L109.46,825.22" stroke="#fff" stroke-width="1.5" fill="none"/>
<polygon points="111.70,821.90 111.29,826.45 107.64,823.99" fill="#fff"/>
</g>
<g clip-path="url(#c21)">
<rect x="130.40" y="783.00" width="55.70" height="49.00" fill="#251a17"/>
<g filter="url(#b1)">
<ellipse cx="131.6" cy="788.0" rx="1.3" ry="2.4" fill="#2468b0" opacity="0.8" transform="rotate(30 131.6 788.0)"/>
<ellipse cx="138.7" cy="786.7" rx="1.3" ry="2.4" fill="#2468b0" opacity="0.8" transform="rotate(60 138.7 786.7)"/>
<ellipse cx="141.5" cy="789.7" rx="1.3" ry="2.4" fill="#2468b0" opacity="0.8" transform="rotate(50 141.5 789.7)"/>
<ellipse cx="146.0" cy="805.7" rx="1.3" ry="2.4" fill="#2468b0" opacity="0.8" transform="rotate(20 146.0 805.7)"/>
<ellipse cx="148.0" cy="808.2" rx="1.3" ry="2.4" fill="#2468b0" opacity="0.8" transform="rotate(-20 148.0 808.2)"/>
<ellipse cx="185.4" cy="795.2" rx="1.3" ry="2.4" fill="#2468b0" opacity="0.8" transform="rotate(0 185.4 795.2)"/>
<ellipse cx="185.0" cy="821.7" rx="1.3" ry="2.4" fill="#2468b0" opacity="0.8" transform="rotate(0 185.0 821.7)"/>
<ellipse cx="144.0" cy="793.7" rx="1.3" ry="2.4" fill="#2468b0" opacity="0.8" transform="rotate(40 144.0 793.7)"/>
</g>
<g filter="url(#bs)">
<path d="M176,811.3000000000001 C171,812.7 168,814.1 163.8,815.7 C160,817.7 157,820.3000000000001 155.4,821.5 L149.5,826.7 C146,827.9000000000001 143,827.7 141,826.7 C138,825.2 136,823.2 135,821.3000000000001 C133.6,818.7 133,817.2 132.9,815.3000000000001" fill="none" stroke="url(#gv1)" stroke-width="1.9" stroke-linecap="round" stroke-linejoin="round"/>
<path d="M187,799.1 C184.5,801.2 182.5,804.2 180.5,806.7 C179,808.7 177.5,810.3000000000001 175.6,811.5" fill="none" stroke="#4cc43a" stroke-width="2.8" stroke-linecap="round" stroke-linejoin="round"/>
<path d="M133.2,815.7 L135,820.7" fill="none" stroke="#5fd060" stroke-width="2.2" stroke-linecap="round" stroke-linejoin="round"/>
</g>
<path d="M176.70,793.31 L178.06,797.50" stroke="#fff" stroke-width="1.5" fill="none"/>
<polygon points="179.30,801.30 175.97,798.18 180.16,796.82" fill="#fff"/>
<path d="M164.70,802.91 L166.06,807.10" stroke="#fff" stroke-width="1.5" fill="none"/>
<polygon points="167.30,810.90 163.97,807.78 168.16,806.42" fill="#fff"/>
<path d="M152.20,811.11 L153.56,815.30" stroke="#fff" stroke-width="1.5" fill="none"/>
<polygon points="154.80,819.10 151.47,815.98 155.66,814.62" fill="#fff"/>
<path d="M143.90,816.31 L145.26,820.50" stroke="#fff" stroke-width="1.5" fill="none"/>
<polygon points="146.50,824.30 143.17,821.18 147.36,819.82" fill="#fff"/>
<path d="M136.70,815.91 L138.06,820.10" stroke="#fff" stroke-width="1.5" fill="none"/>
<polygon points="139.30,823.90 135.97,820.78 140.16,819.42" fill="#fff"/>
<path d="M136.03,830.81 L134.51,827.54" stroke="#fff" stroke-width="1.4" fill="none"/>
<polygon points="132.90,824.10 136.41,826.66 132.60,828.43" fill="#fff"/>
</g>
<line x1="64.50" y1="830.00" x2="68.80" y2="830.00" stroke="#d0d0d0" stroke-width="1.1"/>
<line x1="122.00" y1="830.00" x2="126.30" y2="830.00" stroke="#d0d0d0" stroke-width="1.1"/>
<line x1="179.80" y1="830.00" x2="184.10" y2="830.00" stroke="#d0d0d0" stroke-width="1.1"/>
<g clip-path="url(#c22)">
<rect x="15.00" y="833.90" width="55.80" height="49.30" fill="#251a17"/>
<g filter="url(#b1)">
<ellipse cx="22.4" cy="837.6" rx="1.5" ry="2.1" fill="#2a74c4" opacity="1" transform="rotate(10 22.4 837.6)"/>
<ellipse cx="16.6" cy="853.6" rx="1.5" ry="2.1" fill="#2a74c4" opacity="1" transform="rotate(19 16.6 853.6)"/>
<ellipse cx="29.3" cy="847.9" rx="1.5" ry="2.1" fill="#2a74c4" opacity="0.9" transform="rotate(24 29.3 847.9)"/>
<ellipse cx="32.8" cy="850.2" rx="1.5" ry="2.1" fill="#2a74c4" opacity="0.8" transform="rotate(35 32.8 850.2)"/>
<ellipse cx="42.0" cy="852.6" rx="1.5" ry="2.1" fill="#2a74c4" opacity="1" transform="rotate(19 42.0 852.6)"/>
<ellipse cx="29.3" cy="866.4" rx="1.5" ry="2.1" fill="#2a74c4" opacity="1" transform="rotate(34 29.3 866.4)"/>
<ellipse cx="40.8" cy="865.2" rx="1.5" ry="2.1" fill="#2a74c4" opacity="0.9" transform="rotate(-38 40.8 865.2)"/>
<ellipse cx="31.6" cy="873.3" rx="1.5" ry="2.1" fill="#2a74c4" opacity="1" transform="rotate(-3 31.6 873.3)"/>
<ellipse cx="32.8" cy="876.6" rx="1.5" ry="2.1" fill="#2a74c4" opacity="0.8" transform="rotate(35 32.8 876.6)"/>
<ellipse cx="67.4" cy="841.0" rx="1.5" ry="2.1" fill="#2a74c4" opacity="0.9" transform="rotate(12 67.4 841.0)"/>
<ellipse cx="67.4" cy="847.9" rx="1.5" ry="2.1" fill="#2a74c4" opacity="0.7" transform="rotate(32 67.4 847.9)"/>
<ellipse cx="66.2" cy="865.2" rx="1.5" ry="2.1" fill="#2a74c4" opacity="0.8" transform="rotate(-31 66.2 865.2)"/>
<ellipse cx="58.2" cy="875.6" rx="1.5" ry="2.1" fill="#2a74c4" opacity="0.9" transform="rotate(-2 58.2 875.6)"/>
<ellipse cx="55.8" cy="879.1" rx="1.5" ry="2.1" fill="#2a74c4" opacity="0.8" transform="rotate(-20 55.8 879.1)"/>
<ellipse cx="60.5" cy="844.4" rx="1.5" ry="2.1" fill="#2a74c4" opacity="0.5" transform="rotate(4 60.5 844.4)"/>
<ellipse cx="23.5" cy="882.6" rx="1.5" ry="2.1" fill="#2a74c4" opacity="0.8" transform="rotate(6 23.5 882.6)"/>
<ellipse cx="47.0" cy="859.6" rx="1.5" ry="2.1" fill="#2a74c4" opacity="0.4" transform="rotate(-39 47.0 859.6)"/>
<ellipse cx="20.0" cy="844.6" rx="1.5" ry="2.1" fill="#2a74c4" opacity="0.5" transform="rotate(-23 20.0 844.6)"/>
</g>
</g>
<g clip-path="url(#c23)">
<rect x="72.50" y="833.90" width="55.80" height="49.30" fill="#251a17"/>
<g filter="url(#b1)">
<ellipse cx="105.5" cy="839.8" rx="1.5" ry="2.1" fill="#2a74c4" opacity="1" transform="rotate(23 105.5 839.8)"/>
<ellipse cx="81.2" cy="844.9" rx="1.5" ry="2.1" fill="#2a74c4" opacity="0.9" transform="rotate(26 81.2 844.9)"/>
<ellipse cx="84.7" cy="850.2" rx="1.5" ry="2.1" fill="#2a74c4" opacity="0.8" transform="rotate(-1 84.7 850.2)"/>
<ellipse cx="100.8" cy="853.6" rx="1.5" ry="2.1" fill="#2a74c4" opacity="1" transform="rotate(-19 100.8 853.6)"/>
<ellipse cx="99.7" cy="858.3" rx="1.5" ry="2.1" fill="#2a74c4" opacity="0.8" transform="rotate(-40 99.7 858.3)"/>
<ellipse cx="125.0" cy="845.6" rx="1.5" ry="2.1" fill="#2a74c4" opacity="0.9" transform="rotate(13 125.0 845.6)"/>
<ellipse cx="104.3" cy="865.2" rx="1.5" ry="2.1" fill="#2a74c4" opacity="0.5" transform="rotate(-2 104.3 865.2)"/>
<ellipse cx="81.2" cy="868.6" rx="1.5" ry="2.1" fill="#2a74c4" opacity="0.9" transform="rotate(21 81.2 868.6)"/>
<ellipse cx="85.8" cy="872.1" rx="1.5" ry="2.1" fill="#2a74c4" opacity="0.9" transform="rotate(-10 85.8 872.1)"/>
<ellipse cx="124.0" cy="839.6" rx="1.5" ry="2.1" fill="#2a74c4" opacity="0.7" transform="rotate(22 124.0 839.6)"/>
<ellipse cx="127.0" cy="867.6" rx="1.5" ry="2.1" fill="#2a74c4" opacity="0.6" transform="rotate(-18 127.0 867.6)"/>
</g>
<g filter="url(#bs)">
<path d="M100.8,859.4 C101.5,862.6 103,864.6 104.6,865.6 L110,869.2" fill="none" stroke="#6a7a4a" stroke-width="0.9" stroke-linecap="round" stroke-linejoin="round" opacity="0.7"/>
<path d="M110,869.2 L113.8,871.2" fill="none" stroke="#b8c03c" stroke-width="1.5" stroke-linecap="round" stroke-linejoin="round"/>
</g>
<path d="M106.67,880.26 L109.46,876.12" stroke="#fff" stroke-width="1.5" fill="none"/>
<polygon points="111.70,872.80 111.29,877.35 107.64,874.89" fill="#fff"/>
</g>
<g clip-path="url(#c24)">
<rect x="130.40" y="833.90" width="55.70" height="49.30" fill="#251a17"/>
<g filter="url(#b1)">
<ellipse cx="131.6" cy="838.9" rx="1.3" ry="2.4" fill="#2468b0" opacity="0.8" transform="rotate(30 131.6 838.9)"/>
<ellipse cx="138.7" cy="837.6" rx="1.3" ry="2.4" fill="#2468b0" opacity="0.8" transform="rotate(60 138.7 837.6)"/>
<ellipse cx="141.5" cy="840.6" rx="1.3" ry="2.4" fill="#2468b0" opacity="0.8" transform="rotate(50 141.5 840.6)"/>
<ellipse cx="146.0" cy="856.6" rx="1.3" ry="2.4" fill="#2468b0" opacity="0.8" transform="rotate(20 146.0 856.6)"/>
<ellipse cx="148.0" cy="859.1" rx="1.3" ry="2.4" fill="#2468b0" opacity="0.8" transform="rotate(-20 148.0 859.1)"/>
<ellipse cx="185.4" cy="846.1" rx="1.3" ry="2.4" fill="#2468b0" opacity="0.8" transform="rotate(0 185.4 846.1)"/>
<ellipse cx="185.0" cy="872.6" rx="1.3" ry="2.4" fill="#2468b0" opacity="0.8" transform="rotate(0 185.0 872.6)"/>
<ellipse cx="144.0" cy="844.6" rx="1.3" ry="2.4" fill="#2468b0" opacity="0.8" transform="rotate(40 144.0 844.6)"/>
</g>
<g filter="url(#bs)">
<path d="M176,862.2 C171,863.6 168,865.0 163.8,866.6 C160,868.6 157,871.2 155.4,872.4 L149.5,877.6 C146,878.8000000000001 143,878.6 141,877.6 C138,876.1 136,874.1 135,872.2 C133.6,869.6 133,868.1 132.9,866.2" fill="none" stroke="url(#gv2)" stroke-width="1.7" stroke-linecap="round" stroke-linejoin="round"/>
<path d="M187,850.0 C184.5,852.1 182.5,855.1 180.5,857.6 C179,859.6 177.5,861.2 175.6,862.4" fill="none" stroke="#f5a820" stroke-width="3.4" stroke-linecap="round" stroke-linejoin="round"/>
<path d="M184,852.6 L181,856.6" fill="none" stroke="#fbd840" stroke-width="1.6" stroke-linecap="round" stroke-linejoin="round"/>
<path d="M133.4,865.2 L138.6,863.4" fill="none" stroke="#e03a3c" stroke-width="2.4" stroke-linecap="round" stroke-linejoin="round"/>
<path d="M133.2,867.6 L134.6,871.6" fill="none" stroke="#f0a030" stroke-width="2.2" stroke-linecap="round" stroke-linejoin="round"/>
<path d="M147,842.6 Q149,841.6 151,844.1" fill="none" stroke="#b8506a" stroke-width="1.5" stroke-linecap="round" stroke-linejoin="round"/>
<path d="M131,840.1 L133.5,838.1" fill="none" stroke="#c85a8a" stroke-width="1.4" stroke-linecap="round" stroke-linejoin="round"/>
</g>
<path d="M176.70,844.21 L178.06,848.40" stroke="#fff" stroke-width="1.5" fill="none"/>
<polygon points="179.30,852.20 175.97,849.08 180.16,847.72" fill="#fff"/>
<path d="M164.70,853.81 L166.06,858.00" stroke="#fff" stroke-width="1.5" fill="none"/>
<polygon points="167.30,861.80 163.97,858.68 168.16,857.32" fill="#fff"/>
<path d="M152.20,862.01 L153.56,866.20" stroke="#fff" stroke-width="1.5" fill="none"/>
<polygon points="154.80,870.00 151.47,866.88 155.66,865.52" fill="#fff"/>
<path d="M143.90,867.21 L145.26,871.40" stroke="#fff" stroke-width="1.5" fill="none"/>
<polygon points="146.50,875.20 143.17,872.08 147.36,870.72" fill="#fff"/>
<path d="M136.70,866.81 L138.06,871.00" stroke="#fff" stroke-width="1.5" fill="none"/>
<polygon points="139.30,874.80 135.97,871.68 140.16,870.32" fill="#fff"/>
<path d="M136.03,881.71 L134.51,878.44" stroke="#fff" stroke-width="1.4" fill="none"/>
<polygon points="132.90,875.00 136.41,877.56 132.60,879.33" fill="#fff"/>
</g>
<line x1="64.50" y1="881.20" x2="68.80" y2="881.20" stroke="#d0d0d0" stroke-width="1.1"/>
<line x1="122.00" y1="881.20" x2="126.30" y2="881.20" stroke="#d0d0d0" stroke-width="1.1"/>
<line x1="179.80" y1="881.20" x2="184.10" y2="881.20" stroke="#d0d0d0" stroke-width="1.1"/>
<text x="199.30" y="702.80" font-size="17" font-weight="bold" fill="#000" stroke="#000" stroke-width="0.25">K</text>
<line x1="233.80" y1="764.00" x2="233.80" y2="884.35" stroke="#231815" stroke-width="1.5"/>
<line x1="233.05" y1="883.60" x2="346.70" y2="883.60" stroke="#231815" stroke-width="1.5"/>
<line x1="233.80" y1="852.94" x2="236.80" y2="852.94" stroke="#231815" stroke-width="1.1"/>
<line x1="233.80" y1="823.88" x2="236.80" y2="823.88" stroke="#231815" stroke-width="1.1"/>
<line x1="233.80" y1="794.81" x2="236.80" y2="794.81" stroke="#231815" stroke-width="1.1"/>
<line x1="233.80" y1="765.75" x2="236.80" y2="765.75" stroke="#231815" stroke-width="1.1"/>
<line x1="257.00" y1="883.60" x2="257.00" y2="880.60" stroke="#231815" stroke-width="1.1"/>
<line x1="279.80" y1="883.60" x2="279.80" y2="880.60" stroke="#231815" stroke-width="1.1"/>
<line x1="302.30" y1="883.60" x2="302.30" y2="880.60" stroke="#231815" stroke-width="1.1"/>
<line x1="324.60" y1="883.60" x2="324.60" y2="880.60" stroke="#231815" stroke-width="1.1"/>
<line x1="346.30" y1="883.60" x2="346.30" y2="880.60" stroke="#231815" stroke-width="1.1"/>
<text x="230.40" y="884.60" font-size="7.7" text-anchor="end" fill="#2a2220" stroke="#2a2220" stroke-width="0.22">0</text>
<text x="230.40" y="855.54" font-size="7.7" text-anchor="end" fill="#2a2220" stroke="#2a2220" stroke-width="0.22">25</text>
<text x="230.40" y="826.48" font-size="7.7" text-anchor="end" fill="#2a2220" stroke="#2a2220" stroke-width="0.22">50</text>
<text x="230.40" y="797.41" font-size="7.7" text-anchor="end" fill="#2a2220" stroke="#2a2220" stroke-width="0.22">75</text>
<text x="230.40" y="768.35" font-size="7.7" text-anchor="end" fill="#2a2220" stroke="#2a2220" stroke-width="0.22">100</text>
<text x="245.50" y="892.60" font-size="7.7" text-anchor="middle" fill="#2a2220" stroke="#2a2220" stroke-width="0.22">0</text>
<text x="268.20" y="892.60" font-size="7.7" text-anchor="middle" fill="#2a2220" stroke="#2a2220" stroke-width="0.22">1</text>
<text x="291.20" y="892.60" font-size="7.7" text-anchor="middle" fill="#2a2220" stroke="#2a2220" stroke-width="0.22">7</text>
<text x="313.40" y="892.60" font-size="7.7" text-anchor="middle" fill="#2a2220" stroke="#2a2220" stroke-width="0.22">15</text>
<text x="335.60" y="892.60" font-size="7.7" text-anchor="middle" fill="#2a2220" stroke="#2a2220" stroke-width="0.22">28</text>
<text x="320.70" y="902.00" font-size="9.4" textLength="33.50" lengthAdjust="spacingAndGlyphs" fill="#2a2220" stroke="#2a2220" stroke-width="0.22">( Days )</text>
<text x="207.00" y="825.00" font-size="9.6" text-anchor="middle" transform="rotate(-90 207.00 825.00)" textLength="108.00" lengthAdjust="spacingAndGlyphs" fill="#2a2220" stroke="#2a2220" stroke-width="0.22">Ischemic / normal blood</text>
<text x="218.40" y="825.00" font-size="9.6" text-anchor="middle" transform="rotate(-90 218.40 825.00)" textLength="81.00" lengthAdjust="spacingAndGlyphs" fill="#2a2220" stroke="#2a2220" stroke-width="0.22">perfusion ratio (%)</text>
<line x1="291.20" y1="811.50" x2="291.20" y2="820.50" stroke="#e60012" stroke-width="0.8"/>
<line x1="289.40" y1="811.50" x2="293.00" y2="811.50" stroke="#e60012" stroke-width="0.8"/>
<line x1="289.40" y1="820.50" x2="293.00" y2="820.50" stroke="#e60012" stroke-width="0.8"/>
<line x1="313.40" y1="799.80" x2="313.40" y2="807.80" stroke="#e60012" stroke-width="0.8"/>
<line x1="311.60" y1="799.80" x2="315.20" y2="799.80" stroke="#e60012" stroke-width="0.8"/>
<line x1="311.60" y1="807.80" x2="315.20" y2="807.80" stroke="#e60012" stroke-width="0.8"/>
<line x1="335.60" y1="796.20" x2="335.60" y2="805.40" stroke="#e60012" stroke-width="0.8"/>
<line x1="333.80" y1="796.20" x2="337.40" y2="796.20" stroke="#e60012" stroke-width="0.8"/>
<line x1="333.80" y1="805.40" x2="337.40" y2="805.40" stroke="#e60012" stroke-width="0.8"/>
<line x1="291.20" y1="818.20" x2="291.20" y2="826.20" stroke="#e60012" stroke-width="0.8"/>
<line x1="289.40" y1="818.20" x2="293.00" y2="818.20" stroke="#e60012" stroke-width="0.8"/>
<line x1="289.40" y1="826.20" x2="293.00" y2="826.20" stroke="#e60012" stroke-width="0.8"/>
<line x1="313.40" y1="808.50" x2="313.40" y2="816.50" stroke="#e60012" stroke-width="0.8"/>
<line x1="311.60" y1="808.50" x2="315.20" y2="808.50" stroke="#e60012" stroke-width="0.8"/>
<line x1="311.60" y1="816.50" x2="315.20" y2="816.50" stroke="#e60012" stroke-width="0.8"/>
<line x1="335.60" y1="809.00" x2="335.60" y2="815.00" stroke="#e60012" stroke-width="0.8"/>
<line x1="333.80" y1="809.00" x2="337.40" y2="809.00" stroke="#e60012" stroke-width="0.8"/>
<line x1="333.80" y1="815.00" x2="337.40" y2="815.00" stroke="#e60012" stroke-width="0.8"/>
<line x1="291.20" y1="834.40" x2="291.20" y2="842.00" stroke="#231815" stroke-width="0.8"/>
<line x1="289.40" y1="834.40" x2="293.00" y2="834.40" stroke="#231815" stroke-width="0.8"/>
<line x1="289.40" y1="842.00" x2="293.00" y2="842.00" stroke="#231815" stroke-width="0.8"/>
<line x1="313.40" y1="830.50" x2="313.40" y2="835.50" stroke="#231815" stroke-width="0.8"/>
<line x1="311.60" y1="830.50" x2="315.20" y2="830.50" stroke="#231815" stroke-width="0.8"/>
<line x1="311.60" y1="835.50" x2="315.20" y2="835.50" stroke="#231815" stroke-width="0.8"/>
<line x1="335.60" y1="826.80" x2="335.60" y2="830.80" stroke="#231815" stroke-width="0.8"/>
<line x1="333.80" y1="826.80" x2="337.40" y2="826.80" stroke="#231815" stroke-width="0.8"/>
<line x1="333.80" y1="830.80" x2="337.40" y2="830.80" stroke="#231815" stroke-width="0.8"/>
<line x1="290.60" y1="852.50" x2="290.60" y2="858.50" stroke="#231815" stroke-width="0.8"/>
<line x1="288.80" y1="852.50" x2="292.40" y2="852.50" stroke="#231815" stroke-width="0.8"/>
<line x1="288.80" y1="858.50" x2="292.40" y2="858.50" stroke="#231815" stroke-width="0.8"/>
<line x1="312.60" y1="847.00" x2="312.60" y2="852.00" stroke="#231815" stroke-width="0.8"/>
<line x1="310.80" y1="847.00" x2="314.40" y2="847.00" stroke="#231815" stroke-width="0.8"/>
<line x1="310.80" y1="852.00" x2="314.40" y2="852.00" stroke="#231815" stroke-width="0.8"/>
<line x1="335.60" y1="843.10" x2="335.60" y2="852.10" stroke="#231815" stroke-width="0.8"/>
<line x1="333.80" y1="843.10" x2="337.40" y2="843.10" stroke="#231815" stroke-width="0.8"/>
<line x1="333.80" y1="852.10" x2="337.40" y2="852.10" stroke="#231815" stroke-width="0.8"/>
<polyline points="339.00,799.50 342.60,799.50 342.60,826.20 339.00,826.20" fill="none" stroke="#777" stroke-width="0.7"/>
<polyline points="339.00,830.50 342.60,830.50 342.60,850.00 339.00,850.00" fill="none" stroke="#777" stroke-width="0.7"/>
<polyline points="332.60,812.50 329.20,812.50 329.20,850.00 332.60,850.00" fill="none" stroke="#777" stroke-width="0.7"/>
<text x="346.60" y="818.10" font-size="11.5" text-anchor="middle" fill="#757a7c" stroke="#757a7c" stroke-width="0.35">*</text>
<text x="346.60" y="845.10" font-size="11.5" text-anchor="middle" fill="#757a7c" stroke="#757a7c" stroke-width="0.35">*</text>
<text x="325.40" y="828.10" font-size="11.5" text-anchor="middle" fill="#757a7c" stroke="#757a7c" stroke-width="0.35">*</text>
<text x="294.40" y="812.60" font-size="11.5" text-anchor="middle" fill="#757a7c" stroke="#757a7c" stroke-width="0.35">*</text>
<text x="297.20" y="827.60" font-size="11.5" text-anchor="middle" fill="#757a7c" stroke="#757a7c" stroke-width="0.35">*</text>
<text x="295.20" y="837.00" font-size="11.5" text-anchor="middle" fill="#757a7c" stroke="#757a7c" stroke-width="0.35">*</text>
<text x="317.60" y="802.00" font-size="11.5" text-anchor="middle" fill="#757a7c" stroke="#757a7c" stroke-width="0.35">*</text>
<text x="320.20" y="821.40" font-size="11.5" text-anchor="middle" fill="#757a7c" stroke="#757a7c" stroke-width="0.35">*</text>
<text x="317.60" y="832.60" font-size="11.5" text-anchor="middle" fill="#757a7c" stroke="#757a7c" stroke-width="0.35">*</text>
<polyline points="268.20,867.60 290.60,855.50 312.60,849.50 335.60,847.60" fill="none" stroke="#231815" stroke-width="1.6" stroke-linejoin="round" stroke-dasharray="11 6"/>
<polyline points="245.50,767.00 268.20,867.60 291.20,838.20 313.40,833.00 335.60,828.80" fill="none" stroke="#231815" stroke-width="1.5" stroke-linejoin="round"/>
<polyline points="268.20,867.60 291.20,822.20 313.40,812.50 335.60,812.00" fill="none" stroke="#e60012" stroke-width="1.5" stroke-linejoin="round" stroke-dasharray="11 6"/>
<polyline points="245.50,767.60 268.20,867.60 291.20,816.00 313.40,803.80 335.60,800.80" fill="none" stroke="#e60012" stroke-width="1.5" stroke-linejoin="round"/>
<circle cx="290.60" cy="855.50" r="3.1" fill="#fff" stroke="#231815" stroke-width="0.9"/>
<circle cx="312.60" cy="849.50" r="3.1" fill="#fff" stroke="#231815" stroke-width="0.9"/>
<circle cx="335.60" cy="847.60" r="3.1" fill="#fff" stroke="#231815" stroke-width="0.9"/>
<circle cx="291.20" cy="838.20" r="2.9" fill="#231815"/>
<circle cx="313.40" cy="833.00" r="2.9" fill="#231815"/>
<circle cx="335.60" cy="828.80" r="2.9" fill="#231815"/>
<circle cx="245.50" cy="766.60" r="3.1" fill="#fff" stroke="#231815" stroke-width="0.9"/>
<polygon points="291.20,818.13 287.30,825.15 295.10,825.15" fill="#fff" stroke="#e60012" stroke-width="0.9" stroke-linejoin="miter"/>
<polygon points="313.40,808.43 309.50,815.45 317.30,815.45" fill="#fff" stroke="#e60012" stroke-width="0.9" stroke-linejoin="miter"/>
<polygon points="335.60,807.93 331.70,814.95 339.50,814.95" fill="#fff" stroke="#e60012" stroke-width="0.9" stroke-linejoin="miter"/>
<polygon points="245.50,762.93 241.60,769.95 249.40,769.95" fill="#fff" stroke="#e60012" stroke-width="0.9" stroke-linejoin="miter"/>
<polygon points="245.50,764.15 242.20,770.09 248.80,770.09" fill="#e60012" stroke="#e60012" stroke-width="0.5" stroke-linejoin="miter"/>
<polygon points="268.20,864.15 264.90,870.09 271.50,870.09" fill="#e60012" stroke="#e60012" stroke-width="0.5" stroke-linejoin="miter"/>
<polygon points="291.20,812.55 287.90,818.49 294.50,818.49" fill="#e60012" stroke="#e60012" stroke-width="0.5" stroke-linejoin="miter"/>
<polygon points="313.40,800.35 310.10,806.29 316.70,806.29" fill="#e60012" stroke="#e60012" stroke-width="0.5" stroke-linejoin="miter"/>
<polygon points="335.60,797.35 332.30,803.29 338.90,803.29" fill="#e60012" stroke="#e60012" stroke-width="0.5" stroke-linejoin="miter"/>
<line x1="218.60" y1="710.90" x2="237.40" y2="710.90" stroke="#e60012" stroke-width="1.4"/>
<polygon points="227.90,707.21 224.30,714.61 231.50,714.61" fill="#e60012" stroke="#e60012" stroke-width="0.5" stroke-linejoin="miter"/>
<line x1="218.60" y1="723.60" x2="224.00" y2="723.60" stroke="#e60012" stroke-width="1.4"/>
<line x1="234.80" y1="723.60" x2="237.40" y2="723.60" stroke="#e60012" stroke-width="1.4"/>
<polygon points="227.90,719.56 224.20,727.56 231.60,727.56" fill="#fff" stroke="#e60012" stroke-width="1.0" stroke-linejoin="miter"/>
<line x1="218.60" y1="737.10" x2="237.40" y2="737.10" stroke="#231815" stroke-width="1.4"/>
<circle cx="227.90" cy="737.10" r="3.3" fill="#231815"/>
<line x1="218.60" y1="749.80" x2="224.00" y2="749.80" stroke="#231815" stroke-width="1.4"/>
<line x1="234.80" y1="749.80" x2="237.40" y2="749.80" stroke="#231815" stroke-width="1.4"/>
<circle cx="227.90" cy="749.80" r="3.4" fill="#fff" stroke="#231815" stroke-width="1.0"/>
<text x="246.20" y="714.60" font-size="9.2" fill="#2a2220" stroke="#2a2220" stroke-width="0.22" word-spacing="1.39">HL + tPA<tspan font-size="8" dy="-3.8">+/+</tspan><tspan dy="3.8" font-size="1">&#8203;</tspan> + tPA</text>
<text x="246.20" y="727.40" font-size="9.2" fill="#2a2220" stroke="#2a2220" stroke-width="0.22" word-spacing="1.50">HL + tPA <tspan font-size="8" dy="-3.8" font-style="italic" letter-spacing="0.4">-/-</tspan><tspan dy="3.8" font-size="1">&#8203;</tspan> + tPA</text>
<text x="246.20" y="740.40" font-size="9.2" fill="#2a2220" stroke="#2a2220" stroke-width="0.22" word-spacing="1.85">HL + tPA<tspan font-size="8" dy="-3.8">+/+</tspan><tspan dy="3.8" font-size="1">&#8203;</tspan> + BSA-PBS</text>
<text x="246.20" y="753.00" font-size="9.2" fill="#2a2220" stroke="#2a2220" stroke-width="0.22" word-spacing="1.88">HL + tPA <tspan font-size="8" dy="-3.8" font-style="italic" letter-spacing="0.4">-/-</tspan><tspan dy="3.8" font-size="1">&#8203;</tspan> + BSA-PBS</text>
<text x="365.90" y="702.00" font-size="17" font-weight="bold" fill="#000" stroke="#000" stroke-width="0.25">L</text>
<line x1="399.40" y1="765.50" x2="399.40" y2="883.95" stroke="#231815" stroke-width="1.5"/>
<line x1="398.65" y1="883.20" x2="507.40" y2="883.20" stroke="#231815" stroke-width="1.5"/>
<line x1="399.40" y1="853.75" x2="402.40" y2="853.75" stroke="#231815" stroke-width="1.1"/>
<line x1="399.40" y1="825.50" x2="402.40" y2="825.50" stroke="#231815" stroke-width="1.1"/>
<line x1="399.40" y1="797.25" x2="402.40" y2="797.25" stroke="#231815" stroke-width="1.1"/>
<line x1="399.40" y1="769.00" x2="402.40" y2="769.00" stroke="#231815" stroke-width="1.1"/>
<line x1="417.60" y1="883.20" x2="417.60" y2="880.20" stroke="#231815" stroke-width="1.1"/>
<line x1="435.80" y1="883.20" x2="435.80" y2="880.20" stroke="#231815" stroke-width="1.1"/>
<line x1="453.80" y1="883.20" x2="453.80" y2="880.20" stroke="#231815" stroke-width="1.1"/>
<line x1="471.40" y1="883.20" x2="471.40" y2="880.20" stroke="#231815" stroke-width="1.1"/>
<line x1="489.40" y1="883.20" x2="489.40" y2="880.20" stroke="#231815" stroke-width="1.1"/>
<line x1="507.00" y1="883.20" x2="507.00" y2="880.20" stroke="#231815" stroke-width="1.1"/>
<text x="396.00" y="884.60" font-size="7.7" text-anchor="end" fill="#2a2220" stroke="#2a2220" stroke-width="0.22">0</text>
<text x="396.00" y="856.35" font-size="7.7" text-anchor="end" fill="#2a2220" stroke="#2a2220" stroke-width="0.22">25</text>
<text x="396.00" y="828.10" font-size="7.7" text-anchor="end" fill="#2a2220" stroke="#2a2220" stroke-width="0.22">50</text>
<text x="396.00" y="799.85" font-size="7.7" text-anchor="end" fill="#2a2220" stroke="#2a2220" stroke-width="0.22">75</text>
<text x="396.00" y="771.60" font-size="7.7" text-anchor="end" fill="#2a2220" stroke="#2a2220" stroke-width="0.22">100</text>
<text x="408.80" y="892.60" font-size="7.7" text-anchor="middle" fill="#2a2220" stroke="#2a2220" stroke-width="0.22">0</text>
<text x="426.80" y="892.60" font-size="7.7" text-anchor="middle" fill="#2a2220" stroke="#2a2220" stroke-width="0.22">1</text>
<text x="445.00" y="892.60" font-size="7.7" text-anchor="middle" fill="#2a2220" stroke="#2a2220" stroke-width="0.22">5</text>
<text x="462.60" y="892.60" font-size="7.7" text-anchor="middle" fill="#2a2220" stroke="#2a2220" stroke-width="0.22">7</text>
<text x="480.50" y="892.60" font-size="7.7" text-anchor="middle" fill="#2a2220" stroke="#2a2220" stroke-width="0.22">10</text>
<text x="498.30" y="892.60" font-size="7.7" text-anchor="middle" fill="#2a2220" stroke="#2a2220" stroke-width="0.22">15</text>
<text x="481.60" y="902.60" font-size="9.4" textLength="33.80" lengthAdjust="spacingAndGlyphs" fill="#2a2220" stroke="#2a2220" stroke-width="0.22">( Days )</text>
<text x="372.00" y="825.00" font-size="9.6" text-anchor="middle" transform="rotate(-90 372.00 825.00)" textLength="108.00" lengthAdjust="spacingAndGlyphs" fill="#2a2220" stroke="#2a2220" stroke-width="0.22">Ischemic / normal blood</text>
<text x="383.40" y="825.00" font-size="9.6" text-anchor="middle" transform="rotate(-90 383.40 825.00)" textLength="81.00" lengthAdjust="spacingAndGlyphs" fill="#2a2220" stroke="#2a2220" stroke-width="0.22">perfusion ratio (%)</text>
<line x1="408.80" y1="764.50" x2="408.80" y2="769.60" stroke="#e60012" stroke-width="0.8"/>
<line x1="407.00" y1="764.50" x2="410.60" y2="764.50" stroke="#e60012" stroke-width="0.8"/>
<line x1="407.00" y1="769.60" x2="410.60" y2="769.60" stroke="#e60012" stroke-width="0.8"/>
<line x1="445.00" y1="831.80" x2="445.00" y2="839.80" stroke="#e60012" stroke-width="0.8"/>
<line x1="443.20" y1="831.80" x2="446.80" y2="831.80" stroke="#e60012" stroke-width="0.8"/>
<line x1="443.20" y1="839.80" x2="446.80" y2="839.80" stroke="#e60012" stroke-width="0.8"/>
<line x1="462.60" y1="824.00" x2="462.60" y2="831.20" stroke="#e60012" stroke-width="0.8"/>
<line x1="460.80" y1="824.00" x2="464.40" y2="824.00" stroke="#e60012" stroke-width="0.8"/>
<line x1="460.80" y1="831.20" x2="464.40" y2="831.20" stroke="#e60012" stroke-width="0.8"/>
<line x1="480.50" y1="820.00" x2="480.50" y2="824.80" stroke="#e60012" stroke-width="0.8"/>
<line x1="478.70" y1="820.00" x2="482.30" y2="820.00" stroke="#e60012" stroke-width="0.8"/>
<line x1="478.70" y1="824.80" x2="482.30" y2="824.80" stroke="#e60012" stroke-width="0.8"/>
<line x1="498.30" y1="813.80" x2="498.30" y2="819.80" stroke="#e60012" stroke-width="0.8"/>
<line x1="496.50" y1="813.80" x2="500.10" y2="813.80" stroke="#e60012" stroke-width="0.8"/>
<line x1="496.50" y1="819.80" x2="500.10" y2="819.80" stroke="#e60012" stroke-width="0.8"/>
<line x1="445.00" y1="847.40" x2="445.00" y2="857.40" stroke="#e60012" stroke-width="0.8"/>
<line x1="443.20" y1="847.40" x2="446.80" y2="847.40" stroke="#e60012" stroke-width="0.8"/>
<line x1="443.20" y1="857.40" x2="446.80" y2="857.40" stroke="#e60012" stroke-width="0.8"/>
<line x1="462.60" y1="842.00" x2="462.60" y2="848.00" stroke="#e60012" stroke-width="0.8"/>
<line x1="460.80" y1="842.00" x2="464.40" y2="842.00" stroke="#e60012" stroke-width="0.8"/>
<line x1="460.80" y1="848.00" x2="464.40" y2="848.00" stroke="#e60012" stroke-width="0.8"/>
<line x1="480.50" y1="837.60" x2="480.50" y2="847.60" stroke="#e60012" stroke-width="0.8"/>
<line x1="478.70" y1="837.60" x2="482.30" y2="837.60" stroke="#e60012" stroke-width="0.8"/>
<line x1="478.70" y1="847.60" x2="482.30" y2="847.60" stroke="#e60012" stroke-width="0.8"/>
<line x1="498.30" y1="835.80" x2="498.30" y2="845.80" stroke="#e60012" stroke-width="0.8"/>
<line x1="496.50" y1="835.80" x2="500.10" y2="835.80" stroke="#e60012" stroke-width="0.8"/>
<line x1="496.50" y1="845.80" x2="500.10" y2="845.80" stroke="#e60012" stroke-width="0.8"/>
<line x1="445.00" y1="856.00" x2="445.00" y2="860.00" stroke="#231815" stroke-width="0.8"/>
<line x1="443.20" y1="856.00" x2="446.80" y2="856.00" stroke="#231815" stroke-width="0.8"/>
<line x1="443.20" y1="860.00" x2="446.80" y2="860.00" stroke="#231815" stroke-width="0.8"/>
<line x1="462.60" y1="849.00" x2="462.60" y2="855.80" stroke="#231815" stroke-width="0.8"/>
<line x1="460.80" y1="849.00" x2="464.40" y2="849.00" stroke="#231815" stroke-width="0.8"/>
<line x1="460.80" y1="855.80" x2="464.40" y2="855.80" stroke="#231815" stroke-width="0.8"/>
<line x1="480.50" y1="843.60" x2="480.50" y2="850.80" stroke="#231815" stroke-width="0.8"/>
<line x1="478.70" y1="843.60" x2="482.30" y2="843.60" stroke="#231815" stroke-width="0.8"/>
<line x1="478.70" y1="850.80" x2="482.30" y2="850.80" stroke="#231815" stroke-width="0.8"/>
<line x1="498.30" y1="841.60" x2="498.30" y2="850.80" stroke="#231815" stroke-width="0.8"/>
<line x1="496.50" y1="841.60" x2="500.10" y2="841.60" stroke="#231815" stroke-width="0.8"/>
<line x1="496.50" y1="850.80" x2="500.10" y2="850.80" stroke="#231815" stroke-width="0.8"/>
<line x1="445.00" y1="853.60" x2="445.00" y2="858.40" stroke="#231815" stroke-width="0.8"/>
<line x1="443.20" y1="853.60" x2="446.80" y2="853.60" stroke="#231815" stroke-width="0.8"/>
<line x1="443.20" y1="858.40" x2="446.80" y2="858.40" stroke="#231815" stroke-width="0.8"/>
<line x1="462.60" y1="843.60" x2="462.60" y2="849.60" stroke="#231815" stroke-width="0.8"/>
<line x1="460.80" y1="843.60" x2="464.40" y2="843.60" stroke="#231815" stroke-width="0.8"/>
<line x1="460.80" y1="849.60" x2="464.40" y2="849.60" stroke="#231815" stroke-width="0.8"/>
<line x1="480.50" y1="837.80" x2="480.50" y2="848.60" stroke="#231815" stroke-width="0.8"/>
<line x1="478.70" y1="837.80" x2="482.30" y2="837.80" stroke="#231815" stroke-width="0.8"/>
<line x1="478.70" y1="848.60" x2="482.30" y2="848.60" stroke="#231815" stroke-width="0.8"/>
<line x1="498.30" y1="836.20" x2="498.30" y2="846.60" stroke="#231815" stroke-width="0.8"/>
<line x1="496.50" y1="836.20" x2="500.10" y2="836.20" stroke="#231815" stroke-width="0.8"/>
<line x1="496.50" y1="846.60" x2="500.10" y2="846.60" stroke="#231815" stroke-width="0.8"/>
<polyline points="501.20,815.00 504.60,815.00 504.60,846.20 501.20,846.20" fill="none" stroke="#777" stroke-width="0.7"/>
<text x="448.80" y="832.60" font-size="11.5" text-anchor="middle" fill="#757a7c" stroke="#757a7c" stroke-width="0.35">*</text>
<text x="467.00" y="826.10" font-size="11.5" text-anchor="middle" fill="#757a7c" stroke="#757a7c" stroke-width="0.35">*</text>
<text x="484.60" y="821.40" font-size="11.5" text-anchor="middle" fill="#757a7c" stroke="#757a7c" stroke-width="0.35">*</text>
<text x="508.80" y="821.40" font-size="11.5" text-anchor="middle" fill="#757a7c" stroke="#757a7c" stroke-width="0.35">*</text>
<polyline points="408.80,769.00 426.80,871.20 445.00,858.00 462.60,852.40 480.50,847.20 498.30,846.20" fill="none" stroke="#231815" stroke-width="1.5" stroke-linejoin="round"/>
<polyline points="445.00,856.00 462.60,846.60 480.50,843.20 498.30,841.40" fill="none" stroke="#231815" stroke-width="1.6" stroke-linejoin="round" stroke-dasharray="10 5"/>
<polyline points="445.00,852.40 462.60,845.00 480.50,842.60 498.30,840.80" fill="none" stroke="#e60012" stroke-width="1.5" stroke-linejoin="round" stroke-dasharray="10 5"/>
<polyline points="408.80,769.60 426.80,871.20 445.00,835.80 462.60,827.60 480.50,822.40 498.30,816.80" fill="none" stroke="#e60012" stroke-width="1.5" stroke-linejoin="round"/>
<circle cx="445.00" cy="858.00" r="2.7" fill="#231815"/>
<circle cx="462.60" cy="852.40" r="2.7" fill="#231815"/>
<circle cx="480.50" cy="847.20" r="2.7" fill="#231815"/>
<circle cx="498.30" cy="846.20" r="2.7" fill="#231815"/>
<circle cx="462.60" cy="846.60" r="3.1" fill="#fff" stroke="#231815" stroke-width="0.9"/>
<circle cx="480.50" cy="843.20" r="3.1" fill="#fff" stroke="#231815" stroke-width="0.9"/>
<circle cx="498.30" cy="841.40" r="3.1" fill="#fff" stroke="#231815" stroke-width="0.9"/>
<polygon points="445.00,848.33 441.10,855.35 448.90,855.35" fill="#fff" stroke="#e60012" stroke-width="0.9" stroke-linejoin="miter"/>
<polygon points="462.60,840.93 458.70,847.95 466.50,847.95" fill="#fff" stroke="#e60012" stroke-width="0.9" stroke-linejoin="miter"/>
<polygon points="480.50,838.53 476.60,845.55 484.40,845.55" fill="#fff" stroke="#e60012" stroke-width="0.9" stroke-linejoin="miter"/>
<polygon points="498.30,836.73 494.40,843.75 502.20,843.75" fill="#fff" stroke="#e60012" stroke-width="0.9" stroke-linejoin="miter"/>
<polygon points="408.80,764.93 404.90,771.95 412.70,771.95" fill="#fff" stroke="#e60012" stroke-width="0.9" stroke-linejoin="miter"/>
<polygon points="408.80,766.15 405.50,772.09 412.10,772.09" fill="#e60012" stroke="#e60012" stroke-width="0.5" stroke-linejoin="miter"/>
<polygon points="426.80,867.75 423.50,873.69 430.10,873.69" fill="#e60012" stroke="#e60012" stroke-width="0.5" stroke-linejoin="miter"/>
<polygon points="445.00,832.35 441.70,838.29 448.30,838.29" fill="#e60012" stroke="#e60012" stroke-width="0.5" stroke-linejoin="miter"/>
<polygon points="462.60,824.15 459.30,830.09 465.90,830.09" fill="#e60012" stroke="#e60012" stroke-width="0.5" stroke-linejoin="miter"/>
<polygon points="480.50,818.95 477.20,824.89 483.80,824.89" fill="#e60012" stroke="#e60012" stroke-width="0.5" stroke-linejoin="miter"/>
<polygon points="498.30,813.35 495.00,819.29 501.60,819.29" fill="#e60012" stroke="#e60012" stroke-width="0.5" stroke-linejoin="miter"/>
<line x1="384.30" y1="710.90" x2="402.80" y2="710.90" stroke="#e60012" stroke-width="1.4"/>
<polygon points="393.50,707.21 389.90,714.61 397.10,714.61" fill="#e60012" stroke="#e60012" stroke-width="0.5" stroke-linejoin="miter"/>
<line x1="384.30" y1="723.60" x2="389.70" y2="723.60" stroke="#e60012" stroke-width="1.4"/>
<line x1="400.20" y1="723.60" x2="402.80" y2="723.60" stroke="#e60012" stroke-width="1.4"/>
<polygon points="393.50,719.56 389.80,727.56 397.20,727.56" fill="#fff" stroke="#e60012" stroke-width="1.0" stroke-linejoin="miter"/>
<line x1="384.30" y1="737.10" x2="402.80" y2="737.10" stroke="#231815" stroke-width="1.4"/>
<circle cx="393.50" cy="737.10" r="3.3" fill="#231815"/>
<line x1="384.30" y1="749.80" x2="389.70" y2="749.80" stroke="#231815" stroke-width="1.4"/>
<line x1="400.20" y1="749.80" x2="402.80" y2="749.80" stroke="#231815" stroke-width="1.4"/>
<circle cx="393.50" cy="749.80" r="3.4" fill="#fff" stroke="#231815" stroke-width="1.0"/>
<text x="411.30" y="714.60" font-size="9.4" fill="#2a2220" stroke="#2a2220" stroke-width="0.22" word-spacing="0.98">HL + Plg<tspan font-size="8" dy="-3.8">+/+</tspan><tspan dy="3.8" font-size="1">&#8203;</tspan> + tPA</text>
<text x="411.30" y="727.40" font-size="9.4" fill="#2a2220" stroke="#2a2220" stroke-width="0.22" word-spacing="1.06">HL + Plg <tspan font-size="8" dy="-3.8" font-style="italic" letter-spacing="0.4">-/-</tspan><tspan dy="3.8" font-size="1">&#8203;</tspan> + tPA</text>
<text x="411.30" y="740.40" font-size="9.4" fill="#2a2220" stroke="#2a2220" stroke-width="0.22" word-spacing="1.30">HL + Plg<tspan font-size="8" dy="-3.8">+/+</tspan><tspan dy="3.8" font-size="1">&#8203;</tspan> + BSA-PBS</text>
<text x="411.30" y="753.00" font-size="9.4" fill="#2a2220" stroke="#2a2220" stroke-width="0.22" word-spacing="1.32">HL + Plg <tspan font-size="8" dy="-3.8" font-style="italic" letter-spacing="0.4">-/-</tspan><tspan dy="3.8" font-size="1">&#8203;</tspan> + BSA-PBS</text>
</svg>
</body></html>
